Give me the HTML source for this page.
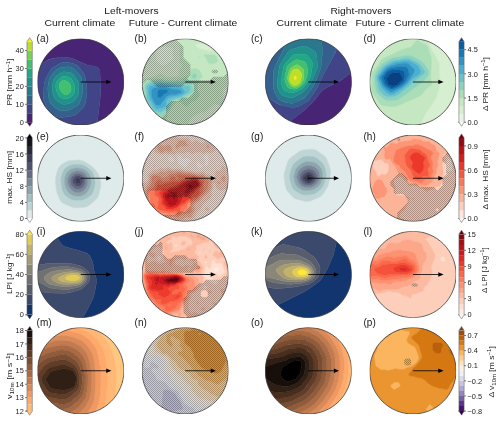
<!DOCTYPE html>
<html><head><meta charset="utf-8"><style>
html,body{margin:0;padding:0;background:#fff;}
#w{position:relative;width:500px;height:421px;overflow:hidden;}
#w svg{position:absolute;left:0;top:0;}
text{font-family:"Liberation Sans",sans-serif;}
</style></head><body><div id="w">
<svg width="500" height="421" style="will-change:transform" viewBox="0 0 360 303.12" version="1.1"><defs><pattern id="htch" patternUnits="userSpaceOnUse" width="1.44" height="1.44"><rect x="0" y="0" width="1.44" height="1.44" fill="#000" fill-opacity="0.08"/><rect x="0" y="0" width="0.72" height="0.72" fill="#000" fill-opacity="0.26"/><rect x="0.72" y="0.72" width="0.72" height="0.72" fill="#000" fill-opacity="0.26"/></pattern><style type="text/css">*{stroke-linejoin: round; stroke-linecap: butt}</style></defs><g id="figure_1"><g id="patch_1"><path d="M0 303.1L360 303.1 360 0 0 0z" style="fill: #ffffff"/></g><g id="axes_1"><g id="patch_2"><path d="M58.1 90.07 C 66.35 90.07 74.27 86.79 80.1 80.96 C 85.93 75.13 89.21 67.22 89.21 58.97 C 89.21 50.72 85.93 42.81 80.1 36.97 C 74.27 31.14 66.35 27.86 58.1 27.86 C 49.86 27.86 41.94 31.14 36.11 36.97 C 30.28 42.81 27 50.72 27 58.97 C 27 67.22 30.28 75.13 36.11 80.96 C 41.94 86.79 49.86 90.07 58.1 90.07L58.1 90.07z" clip-path="url(#p68ef9d32f1)" style="fill: none"/></g><g id="QuadContourSet_1"><path clip-path="url(#p21d48eb396)" style="fill: #440154; stroke: #440154; stroke-width: 0.35"/><path d="M70.6 91.6L90.8 91.6 90.8 26.3 25.4 26.3 25.4 48.8 26.6 48.4 28.4 47.4 32.6 44.2 35 42.9 38.5 42 40.9 41.5 47.4 41.4 49.8 41.5 52.2 42.1 55.1 43.3 62.9 46.8 64.6 47.3 68.2 47.6 69.4 48 70.6 48.7 71.3 49.5 71.9 50.7 72 51.8 72.1 56 72.6 60.2 72.6 64.9 72 72 70.4 85.7 70.3 91.6z" clip-path="url(#p21d48eb396)" style="fill: #482475; stroke: #482475; stroke-width: 0.35"/><path d="M26 91.6L70.3 91.6 70.4 85.7 72 72 72.6 64.3 72.6 60.2 72.1 56 72 51.2 71.7 50.1 70.8 48.9 69.4 48 68.2 47.6 64.6 47.3 62.9 46.8 55.1 43.3 51.6 41.9 49.2 41.5 46.2 41.4 40.3 41.6 34.9 43 32.6 44.2 28.4 47.4 26.6 48.4 25.4 48.8 25.4 91.6zM42.4 84.5L40.9 84 37.3 82.3 35.5 81 34.7 79.8 32.3 74.4 31.4 72 31.2 70.3 31.5 65.5 31.7 60.7 32 59 33.4 55.4 36.1 50.9 37.3 49.4 39.1 48 42.1 46.2 44.4 45.2 45.6 44.8 48 44.9 52.2 45.6 54.5 46.5 56.1 47.7 57.7 49.5 60 52.4 60.7 53.6 61.2 54.8 62.5 62.5 62.7 65.5 62.5 68.5 61.5 74.4 60.9 76.2 59.6 78 56.3 81.2 53.9 82.9 52.2 83.5 46.2 84.5 44.4 84.7 42.7 84.6z" clip-path="url(#p21d48eb396)" style="fill: #414487; stroke: #414487; stroke-width: 0.35"/><path d="M42.7 84.6L44.4 84.7 46.2 84.5 52.2 83.5 53.9 82.9 56.3 81.2 59.6 78 60.9 76.2 61.5 74.4 62.5 68.5 62.7 65.5 62.5 62.5 61.2 54.8 60.7 53.6 60 52.4 57.7 49.5 56.1 47.7 54.5 46.5 52.2 45.6 48 44.9 45.6 44.8 44.4 45.2 42.1 46.2 39.1 48 37.3 49.4 36.1 50.9 33.4 55.4 32 59 31.7 60.7 31.5 65.5 31.2 70.3 31.4 72 32.3 74.4 34.7 79.8 35.5 81 37.3 82.3 40.9 84 42.4 84.5zM42.3 79.2L40.9 78.5 39.1 77.1 36.5 74.4 35.5 72.6 34.8 68.5 34.4 63.7 34.8 60.2 35.3 57.8 36.1 55.7 37.9 53.2 39.7 51.1 41.7 49.5 43.3 48.8 47.4 48.2 49.2 48.1 51 48.4 52.2 48.9 53.6 50.1 57.1 53.6 58.3 55.4 58.7 56.6 59.5 62.5 59.5 66.1 59.1 68.5 57.8 72.6 57.1 74.4 56.3 75.4 55.1 76.3 51.6 78.4 49.2 79.3 45.6 79.5 42.7 79.3z" clip-path="url(#p21d48eb396)" style="fill: #355f8d; stroke: #355f8d; stroke-width: 0.35"/><path d="M42.7 79.3L45.6 79.5 49.2 79.3 51.6 78.4 55.1 76.3 56.3 75.4 57.1 74.4 57.8 72.6 59.1 68.5 59.5 66.1 59.5 62.5 58.7 56.6 58.3 55.4 57.1 53.6 53.6 50.1 52.2 48.9 51 48.4 49.2 48.1 47.4 48.2 43.3 48.8 41.7 49.5 39.7 51.1 37.9 53.2 36.1 55.7 35.3 57.8 34.8 60.2 34.4 63.7 34.8 68.5 35.5 72.6 36.5 74.4 39.1 77.1 40.9 78.5 42.3 79.2zM45.2 75L43.9 74.5 41.5 73 40.3 72.1 39.7 71.4 38.8 69.7 37.9 66.7 37.5 64.9 37.5 63.7 38 59.6 38.4 57.8 39 56.6 40.9 54.6 43.3 52.7 44.9 51.8 46.2 51.7 50.4 52.2 51.6 52.7 52.8 53.9 55.1 57.1 55.9 58.4 56.5 60.2 56.6 66.1 56.4 67.9 55.9 69.1 54.5 71.1 52.8 73.3 51.6 73.9 49.8 74.5 47.4 75 45.6 75.1z" clip-path="url(#p21d48eb396)" style="fill: #2a788e; stroke: #2a788e; stroke-width: 0.35"/><path d="M45.6 75.1L47.4 75 49.8 74.5 51.6 73.9 52.8 73.3 54.5 71.1 55.9 69.1 56.4 67.9 56.6 66.1 56.5 60.2 55.9 58.4 55.1 57.1 52.8 53.9 51.6 52.7 50.4 52.2 46.2 51.7 44.9 51.8 43.3 52.7 40.9 54.6 39 56.6 38.4 57.8 38 59.6 37.5 63.7 37.5 64.9 37.9 66.7 38.8 69.7 39.7 71.4 40.3 72.1 41.5 73 43.9 74.5 45.2 75zM45 70.8L43.9 70.3 43.1 69.7 42.1 68.3 41.1 66.7 40.7 65.5 40.2 63.1 40.1 61.3 40.3 60.2 40.7 59 41.4 57.8 44.4 55.4 45.6 54.9 46.2 54.9 49.2 55.4 50.4 55.9 51.2 56.6 53.3 60.2 53.6 61.3 53.6 62.5 53.6 65.5 53.5 66.7 52.9 67.9 52.4 68.5 51.1 69.7 49.8 70.5 48 71.1 46.2 71.1 45 70.9z" clip-path="url(#p21d48eb396)" style="fill: #21918c; stroke: #21918c; stroke-width: 0.35"/><path d="M45 70.9L46.2 71.1 48 71.1 49.8 70.5 51.1 69.7 52.4 68.5 52.9 67.9 53.5 66.7 53.6 65.5 53.6 62.5 53.6 61.3 53.3 60.2 51.2 56.6 50.4 55.9 49.2 55.4 46.2 54.9 45.6 54.9 44.4 55.4 41.4 57.8 40.7 59 40.3 60.2 40.1 61.3 40.2 63.1 40.7 65.5 41.1 66.7 42.1 68.3 43.1 69.7 43.9 70.3 45 70.8zM46.1 67.9L44.8 66.7 43.8 65.5 43 63.7 42.7 61.9 43.2 59.6 43.6 59 44.4 58.3 46.2 57.9 46.8 57.9 47.8 58.4 49.2 59.3 50.2 60.2 50.7 61.3 51.2 63.7 50.8 65.5 50.1 66.7 49.6 67.3 48.7 67.9 48 68.1 46.8 68.2 46.2 68z" clip-path="url(#p21d48eb396)" style="fill: #22a884; stroke: #22a884; stroke-width: 0.35"/><path d="M46.2 68L46.8 68.2 48 68.1 48.7 67.9 49.6 67.3 50.1 66.7 50.8 65.5 51.2 63.7 50.7 61.3 50.2 60.2 49.2 59.3 47.8 58.4 46.8 57.9 46.2 57.9 44.4 58.3 43.6 59 43.2 59.6 42.7 61.9 43 63.7 43.8 65.5 44.8 66.7 46.1 67.9z" clip-path="url(#p21d48eb396)" style="fill: #44bf70; stroke: #44bf70; stroke-width: 0.35"/><path clip-path="url(#p21d48eb396)" style="fill: #7ad151; stroke: #7ad151; stroke-width: 0.35"/><path clip-path="url(#p21d48eb396)" style="fill: #bddf26; stroke: #bddf26; stroke-width: 0.35"/><path clip-path="url(#p21d48eb396)" style="fill: #fde725; stroke: #fde725; stroke-width: 0.35"/></g><g id="patch_3"><path d="M58.1 90.07 C 66.35 90.07 74.27 86.79 80.1 80.96 C 85.93 75.13 89.21 67.22 89.21 58.97 C 89.21 50.72 85.93 42.81 80.1 36.97 C 74.27 31.14 66.35 27.86 58.1 27.86 C 49.86 27.86 41.94 31.14 36.11 36.97 C 30.28 42.81 27 50.72 27 58.97 C 27 67.22 30.28 75.13 36.11 80.96 C 41.94 86.79 49.86 90.07 58.1 90.07L58.1 90.07z" clip-path="url(#p68ef9d32f1)" style="fill: none; stroke: #333333; stroke-width: 0.55; stroke-linejoin: miter"/></g><g id="patch_4"><path d="M76.5 57.4L80.2 59 76.5 60.5z" clip-path="url(#p68ef9d32f1)"/></g><g id="line2d_1"><path d="M58.1 59L77.4 59" clip-path="url(#p68ef9d32f1)" style="fill: none; stroke: #000000; stroke-opacity: 0.8; stroke-width: 0.75"/></g></g><g id="axes_2"><g id="patch_5"><path d="M19.4 88L23.3 88 23.3 30 19.4 30z" style="fill: #ffffff"/></g><g id="patch_6"><path d="M19.4 88L21.4 90.9 23.3 88" style="fill: #440154"/></g><g id="patch_7"><path d="M19.4 30L21.4 27.1 23.3 30" style="fill: #fde725"/></g><g id="QuadMesh_1"><path d="M19.4 88L23.3 88 23.3 81.5 19.4 81.5 19.4 88" clip-path="url(#p1d68dbb7f0)" style="fill: #482475"/><path d="M19.4 81.5L23.3 81.5 23.3 75.1 19.4 75.1 19.4 81.5" clip-path="url(#p1d68dbb7f0)" style="fill: #414487"/><path d="M19.4 75.1L23.3 75.1 23.3 68.6 19.4 68.6 19.4 75.1" clip-path="url(#p1d68dbb7f0)" style="fill: #355f8d"/><path d="M19.4 68.6L23.3 68.6 23.3 62.2 19.4 62.2 19.4 68.6" clip-path="url(#p1d68dbb7f0)" style="fill: #2a788e"/><path d="M19.4 62.2L23.3 62.2 23.3 55.7 19.4 55.7 19.4 62.2" clip-path="url(#p1d68dbb7f0)" style="fill: #21918c"/><path d="M19.4 55.7L23.3 55.7 23.3 49.3 19.4 49.3 19.4 55.7" clip-path="url(#p1d68dbb7f0)" style="fill: #22a884"/><path d="M19.4 49.3L23.3 49.3 23.3 42.8 19.4 42.8 19.4 49.3" clip-path="url(#p1d68dbb7f0)" style="fill: #44bf70"/><path d="M19.4 42.8L23.3 42.8 23.3 36.4 19.4 36.4 19.4 42.8" clip-path="url(#p1d68dbb7f0)" style="fill: #7ad151"/><path d="M19.4 36.4L23.3 36.4 23.3 30 19.4 30 19.4 36.4" clip-path="url(#p1d68dbb7f0)" style="fill: #bddf26"/></g><g id="matplotlib.axis_1"/><g id="matplotlib.axis_2"><g id="ytick_1"><g id="line2d_2"><defs><path id="m5957307a2c" d="M0 0L-1.4 0" style="stroke: #333333; stroke-width: 0.5"/></defs><g><use xlink:href="#m5957307a2c" x="19.44" y="87.98" style="fill: #333333; stroke: #333333; stroke-width: 0.5"/></g></g><g id="text_1"><text style="font-size: 5.3px; font-family: 'Liberation Sans'; text-anchor: end; fill: #222222" x="17.14" y="89.9" transform="rotate(-0 17.14 89.904422)">0</text></g></g><g id="ytick_2"><g id="line2d_3"><g><use xlink:href="#m5957307a2c" x="19.44" y="75.09" style="fill: #333333; stroke: #333333; stroke-width: 0.5"/></g></g><g id="text_2"><text style="font-size: 5.3px; font-family: 'Liberation Sans'; text-anchor: end; fill: #222222" x="17.14" y="77.01" transform="rotate(-0 17.14 77.008422)">10</text></g></g><g id="ytick_3"><g id="line2d_4"><g><use xlink:href="#m5957307a2c" x="19.44" y="62.19" style="fill: #333333; stroke: #333333; stroke-width: 0.5"/></g></g><g id="text_3"><text style="font-size: 5.3px; font-family: 'Liberation Sans'; text-anchor: end; fill: #222222" x="17.14" y="64.11" transform="rotate(-0 17.14 64.112422)">20</text></g></g><g id="ytick_4"><g id="line2d_5"><g><use xlink:href="#m5957307a2c" x="19.44" y="49.3" style="fill: #333333; stroke: #333333; stroke-width: 0.5"/></g></g><g id="text_4"><text style="font-size: 5.3px; font-family: 'Liberation Sans'; text-anchor: end; fill: #222222" x="17.14" y="51.22" transform="rotate(-0 17.14 51.216422)">30</text></g></g><g id="ytick_5"><g id="line2d_6"><g><use xlink:href="#m5957307a2c" x="19.44" y="36.4" style="fill: #333333; stroke: #333333; stroke-width: 0.5"/></g></g><g id="text_5"><text style="font-size: 5.3px; font-family: 'Liberation Sans'; text-anchor: end; fill: #222222" x="17.14" y="38.32" transform="rotate(-0 17.14 38.320422)">40</text></g></g></g><g id="LineCollection_1"/><g id="patch_8"><path d="M19.4 88L21.4 90.9 23.3 88 23.3 30 21.4 27.1 19.4 30 19.4 88z" style="fill: none; stroke: #666666; stroke-width: 0.4; stroke-linejoin: miter; stroke-linecap: square"/></g></g><g id="axes_3"><g id="patch_9"><path d="M133.34 90.07 C 141.59 90.07 149.51 86.79 155.34 80.96 C 161.17 75.13 164.45 67.22 164.45 58.97 C 164.45 50.72 161.17 42.81 155.34 36.97 C 149.51 31.14 141.59 27.86 133.34 27.86 C 125.1 27.86 117.18 31.14 111.35 36.97 C 105.52 42.81 102.24 50.72 102.24 58.97 C 102.24 67.22 105.52 75.13 111.35 80.96 C 117.18 86.79 125.1 90.07 133.34 90.07L133.34 90.07z" clip-path="url(#p66a5db1e5f)" style="fill: none"/></g><g id="QuadContourSet_2"><path clip-path="url(#p25d545dbc4)" style="fill: #f7fcf0; stroke: #f7fcf0; stroke-width: 0.35"/><path d="M155.6 91.6L156.2 91.6 155.6 91.2 155.2 91.6zM117 47.5L118.5 47 120 46.2 120.9 45.6 123 43.8 124.4 43.1 125 42.6 125.2 41.2 124.7 39.7 124.7 38.2 124.9 35.2 124.4 34.4 123 33.9 121.5 33.7 120 33.4 118.5 33.4 115.5 34.3 114 35 112 36.7 111.6 38.2 112.4 41.2 112.7 44.1 116 47.1zM101.5 33.7L102.2 33.1 102.9 30.8 103.7 29.6 105.1 28.5 105.6 27.8 105.9 26.3 101.5 26.3 100.7 27.4 100.7 34.2z" clip-path="url(#p25d545dbc4)" style="fill: #e6f5e1; stroke: #e6f5e1; stroke-width: 0.35"/><path d="M134.8 91.6L155.2 91.6 155.6 91.2 156.2 91.6 166 91.6 166 72 165.5 70.8 165.5 69.4 166 67.2 166 59.6 164.5 59.7 163.8 60.5 163.3 61.9 160.7 64.9 160.5 66.4 161 72.3 160.7 73.8 160.1 74.9 158.6 75.8 157.1 75.5 155.6 75 154.1 75 152.6 76.2 149.7 79.3 148.2 80.1 145.2 80.8 139.3 83.5 138.3 84.2 137 85.7 136.2 87.2 134.8 91.3 134.3 91.6zM157.7 84.2L157.5 82.7 158.6 81.2 159.6 82.7 159.7 84.2 158.6 84.9zM100.7 60.5L100.7 60.4 100.7 60.5 100.7 60.6zM102.2 56.3L103.7 56.9 105.1 56.4 109.6 55.5 112.8 54.5 114 53.7 115.5 53.1 117 53.5 118 54.5 120 55.3 123 55.5 124.4 55.4 127.4 55.1 129.2 54.5 129.4 53 129 51.5 129.2 50.1 130.5 48.6 131.1 47.1 129.4 44.1 129.7 39.7 129.5 38.2 129.6 36.7 129.8 35.2 129.7 33.7 129 30.8 128.1 27.8 128.1 26.3 105.9 26.3 105.6 27.8 105.1 28.5 103.7 29.6 102.9 30.8 102.2 33.1 100.7 34.2 100.7 47 102.2 48 102.3 48.6 101.5 50.1 101.1 51.5 101 53 100.7 54.2 100.7 54.7 101.7 56zM116 47.1L112.7 44.1 112.4 41.2 111.6 38.2 112 36.7 114 35 115.5 34.3 118.5 33.4 120 33.4 121.5 33.7 123 33.9 124.4 34.4 124.9 35.2 124.7 38.2 124.7 39.7 125.2 41.2 125 42.6 124.4 43.1 123 43.8 120.9 45.6 120 46.2 118.5 47 117 47.5zM149.7 36.8L151.2 37 152 36.7 152.9 35.2 152.6 33.7 151.2 32.4 149.7 32.2 146.7 31.1 145.2 31 143.7 31.4 142.3 31.3 140.8 31.8 140.5 32.2 141.5 33.7 142.3 34.4 143.7 35.2 146.7 35.7 149.4 36.7zM101.5 26.3L100.7 26.3 100.7 27.4z" clip-path="url(#p25d545dbc4)" style="fill: #d7efd1; stroke: #d7efd1; stroke-width: 0.35"/><path d="M102.2 91.6L134.3 91.6 134.8 91.3 136.2 87.2 137 85.7 138.3 84.2 139.3 83.5 145.2 80.8 148.2 80.1 149.7 79.3 152.6 76.2 154.1 75 155.6 75 157.1 75.5 158.6 75.8 160.1 74.9 160.7 73.8 161 72.3 160.5 66.4 160.7 64.9 163.3 61.9 163.8 60.5 164.5 59.7 166 59.6 166 43.5 165.2 42.6 165 41.2 166 39.5 166 26.3 128.1 26.3 128.1 27.8 129 30.8 129.7 33.7 129.8 35.2 129.6 36.7 129.5 38.2 129.7 39.7 129.4 44.1 131.1 47.1 130.5 48.6 129.2 50.1 129 51.5 129.4 53 129.2 54.5 127.4 55.1 124.4 55.4 123 55.5 120 55.3 118 54.5 117 53.5 115.5 53.1 114 53.7 112.8 54.5 109.6 55.5 105.1 56.4 103.7 56.9 102.2 56.3 101.7 56 100.7 54.7 100.7 91.6zM111.3 85.7L111.1 85.7 109.6 84.3 108.6 82.7 107.3 81.2 106.3 79.8 105.7 78.3 104 75.3 102.8 72.3 102.7 70.8 103.4 67.9 102.9 64.9 102.9 63.4 103.2 60.5 103.7 59.8 105.1 58.5 106.6 57.7 108.1 57.2 115.5 56.7 117 56.9 118.5 57.4 124.4 57.8 125.9 57.8 130.4 56.8 133.3 55.3 134.8 54.9 136.3 54.3 137.1 53 137.1 51.5 137.8 49.7 139.3 49.4 140.8 49.4 142.3 49.7 142.7 50.1 144.3 51.5 145.2 53.6 146.1 54.5 145.4 56 143.7 56.9 143.4 57.5 142.7 60.5 142 61.9 142.3 64.9 143.7 67.9 143.3 69.4 142.3 70.7 140.8 72.1 137.8 73.2 136.3 75 134.8 76.2 133.3 76.3 130.4 73.7 128.9 73.4 127.4 73.3 126.3 73.8 124.4 76.1 121 81.2 120.4 82.7 120.2 84.2 119.7 85.7 118.5 86.5 115.5 85.8 112.6 85.9zM150.5 45.6L149.7 44.9 149.3 44.1 148.9 42.6 147 39.7 148.2 39.2 151.2 39.6 154.1 39.4 154.7 39.7 155.6 40.5 156.4 42.6 156.8 44.1 155.6 45.1 154.1 45.7 152.6 45.9 151.2 46zM143.6 41.2L143.7 40.9 144.1 41.2 143.7 41.6zM149.4 36.7L146.7 35.7 143.7 35.2 142.3 34.4 141.5 33.7 140.5 32.2 140.8 31.8 142.3 31.3 143.7 31.4 145.2 31 146.7 31.1 149.7 32.2 151.2 32.4 152.6 33.7 152.9 35.2 152 36.7 151.2 37 149.7 36.8zM158.6 84.9L159.7 84.2 159.6 82.7 158.6 81.2 157.5 82.7 157.7 84.2zM166 72L166 67.2 165.5 69.4 165.5 70.8zM101 53L101.1 51.5 101.5 50.1 102.3 48.6 102.2 48 100.7 47 100.7 54.2z" clip-path="url(#p25d545dbc4)" style="fill: #c5e8c2; stroke: #c5e8c2; stroke-width: 0.35"/><path d="M112.6 85.9L115.5 85.8 118.5 86.5 119.7 85.7 120.2 84.2 120.4 82.7 121 81.2 124.4 76.1 126.3 73.8 127.4 73.3 128.9 73.4 130.4 73.7 133.3 76.3 134.8 76.2 136.3 75 137.8 73.2 140.8 72.1 142.3 70.7 143.3 69.4 143.7 67.9 142.3 64.9 142 61.9 142.7 60.5 143.4 57.5 143.7 56.9 145.4 56 146.1 54.5 145.2 53.6 144.3 51.5 142.7 50.1 142.3 49.7 140.8 49.4 139.3 49.4 137.8 49.7 137.1 51.5 137.1 53 136.3 54.3 134.8 54.9 133.3 55.3 130.4 56.8 125.9 57.8 124.4 57.8 118.5 57.4 117 56.9 115.5 56.7 108.1 57.2 106.6 57.7 105.1 58.5 103.7 59.8 103.2 60.5 102.9 63.4 102.9 64.9 103.4 67.9 102.7 70.8 102.8 72.3 104 75.3 105.7 78.3 106.3 79.8 107.3 81.2 108.6 82.7 109.6 84.3 111.1 85.7 111.3 85.7zM113.7 82.7L111.1 82 109.6 81 108.7 79.8 108.1 78.3 107.2 76.8 104.9 73.8 104.4 72.3 104.3 70.8 104.6 67.9 104.1 63.4 104.2 61.9 104.7 60.5 106.6 59.1 108.1 58.5 111.1 58.2 115.5 58 118.5 58.6 127.4 59.1 131.9 58.7 133.3 58.2 134.8 58 136.3 58.3 137.3 59 137.8 59.4 138.3 60.5 139 63.4 139.6 64.9 139 66.4 137.3 67.9 130.4 71.4 127.4 71.8 125.6 72.3 124.4 73.2 123.9 73.8 122.5 76.8 120 80.3 119 81.2 118.5 82.1 117.9 82.7 117 83.2 115.5 83.2 114 82.9zM138.5 56L138.2 54.5 139.3 53.4 140.8 53.1 141.4 54.5 141 56 140.8 56.2 139.3 56.4zM151.2 46L152.6 45.9 154.1 45.7 155.6 45.1 156.8 44.1 156.4 42.6 155.6 40.5 154.7 39.7 154.1 39.4 151.2 39.6 148.2 39.2 147 39.7 148.9 42.6 149.3 44.1 149.7 44.9 150.5 45.6zM166 43.5L166 39.5 165 41.2 165.2 42.6zM143.7 41.6L144.1 41.2 143.7 40.9 143.6 41.2zM140.8 26.3L140.8 26.3 140.8 26.3 140.8 26.3z" clip-path="url(#p25d545dbc4)" style="fill: #abdeb6; stroke: #abdeb6; stroke-width: 0.35"/><path d="M114 82.9L115.5 83.2 117 83.2 117.9 82.7 118.5 82.1 119 81.2 120 80.3 122.5 76.8 123.9 73.8 124.4 73.2 125.6 72.3 127.4 71.8 130.4 71.4 137.3 67.9 139 66.4 139.6 64.9 139 63.4 138.3 60.5 137.8 59.4 137.3 59 136.3 58.3 134.8 58 133.3 58.2 131.9 58.7 127.4 59.1 118.5 58.6 115.5 58 111.1 58.2 108.1 58.5 106.6 59.1 104.7 60.5 104.2 61.9 104.1 63.4 104.6 67.9 104.3 70.8 104.4 72.3 104.9 73.8 107.2 76.8 108.1 78.3 108.7 79.8 109.6 81 111.1 82 113.7 82.7zM111.4 79.8L109.7 78.3 109.1 76.8 106.1 72.3 105.8 70.8 105.7 66.4 105.2 63.4 105.4 61.9 106.6 60.7 108.1 60 109.6 59.5 115.5 59.2 125.9 60.3 127.4 60.7 131.9 61.4 136.3 61.5 136.6 61.9 136.8 63.4 136.7 64.9 136.2 66.4 130.4 69.7 128.9 70.3 124.4 71.5 123.1 72.3 122.2 73.8 121.8 75.3 121 76.8 120 78.1 118.5 79.3 117.3 79.8 115.5 81 112.6 80.3zM139.3 56.4L140.8 56.2 141 56 141.4 54.5 140.8 53.1 139.3 53.4 138.2 54.5 138.5 56z" clip-path="url(#p25d545dbc4)" style="fill: #8bd2bf; stroke: #8bd2bf; stroke-width: 0.35"/><path d="M112.6 80.3L115.5 81 117.3 79.8 118.5 79.3 120 78.1 121 76.8 121.8 75.3 122.2 73.8 123.1 72.3 124.4 71.5 128.9 70.3 130.4 69.7 136.2 66.4 136.7 64.9 136.8 63.4 136.6 61.9 136.3 61.5 131.9 61.4 127.4 60.7 125.9 60.3 115.5 59.2 109.6 59.5 108.1 60 106.6 60.7 105.4 61.9 105.2 63.4 105.7 66.4 105.8 70.8 106.1 72.3 109.1 76.8 109.7 78.3 111.4 79.8zM112.3 78.3L111.1 76.7 110.2 75.3 109.6 73.8 108.6 72.3 107.5 69.4 107.2 67.9 107.3 66.4 106.7 63.4 108.1 62.1 109.6 61.6 112.6 60.8 115.5 60.4 118.5 60.6 123 61.4 127.4 62.5 130.4 62.9 131.2 63.4 131.9 64.4 132.4 64.9 133.3 66.4 131.7 67.9 130.4 68.5 128.9 69 123 70 121.4 70.8 119.9 72.3 119.6 73.8 119.7 75.3 119.1 76.8 118.5 77.3 115.5 78.2 112.6 78.4z" clip-path="url(#p25d545dbc4)" style="fill: #6bc3c9; stroke: #6bc3c9; stroke-width: 0.35"/><path d="M112.6 78.4L115.5 78.2 118.5 77.3 119.1 76.8 119.7 75.3 119.6 73.8 119.9 72.3 121.4 70.8 123 70 128.9 69 130.4 68.5 131.7 67.9 133.3 66.4 132.4 64.9 131.9 64.4 131.2 63.4 130.4 62.9 127.4 62.5 123 61.4 118.5 60.6 115.5 60.4 112.6 60.8 109.6 61.6 108.1 62.1 106.7 63.4 107.3 66.4 107.2 67.9 107.5 69.4 108.6 72.3 109.6 73.8 110.2 75.3 111.1 76.7 112.3 78.3zM112.2 75.3L111.1 73.8 109.6 70.8 109 67.9 109.1 64.9 109.6 64.2 110.8 63.4 115.5 62.3 118.5 62.3 120 62.5 123 63.8 124.4 64.2 125.9 64.3 127.4 64.3 129.6 64.9 130.4 65.5 130.8 66.4 130.4 66.8 128.9 67.4 125.9 68.2 123 68.3 121.5 68.7 120.1 69.4 117 73.4 116.5 73.8 115.8 75.3 115.5 75.6 114 75.8 112.6 75.7z" clip-path="url(#p25d545dbc4)" style="fill: #4bafd1; stroke: #4bafd1; stroke-width: 0.35"/><path d="M112.6 75.7L114 75.8 115.5 75.6 115.8 75.3 116.5 73.8 117 73.4 120.1 69.4 121.5 68.7 123 68.3 125.9 68.2 128.9 67.4 130.4 66.8 130.8 66.4 130.4 65.5 129.6 64.9 127.4 64.3 125.9 64.3 124.4 64.2 123 63.8 120 62.5 118.5 62.3 115.5 62.3 110.8 63.4 109.6 64.2 109.1 64.9 109 67.9 109.6 70.8 111.1 73.8 112.2 75.3zM113.6 69.4L113.3 66.4 114.1 64.9 115.5 64.3 117 64.2 120 64.6 120.6 64.9 120.8 66.4 118.1 67.9 117 69.1 115.5 70.4 114 70.2z" clip-path="url(#p25d545dbc4)" style="fill: #3193c2; stroke: #3193c2; stroke-width: 0.35"/><path d="M114 70.2L115.5 70.4 117 69.1 118.1 67.9 120.8 66.4 120.6 64.9 120 64.6 117 64.2 115.5 64.3 114.1 64.9 113.3 66.4 113.6 69.4z" clip-path="url(#p25d545dbc4)" style="fill: #1878b4; stroke: #1878b4; stroke-width: 0.35"/><path clip-path="url(#p25d545dbc4)" style="fill: #085da0; stroke: #085da0; stroke-width: 0.35"/><path clip-path="url(#p25d545dbc4)" style="fill: #084081; stroke: #084081; stroke-width: 0.35"/></g><g id="QuadContourSet_3"><path d="M103.2 91.6L166 91.6 166 52.7 163.5 52.7 161 55.2 153.4 55.2 150.9 57.7 135.9 57.7 134.6 56.5 137.1 53.9 137.1 46.4 132.1 41.4 132.1 33.8 127.1 28.8 128.3 27.6 166 27.6 166 26.3 100.7 26.3 100.7 91.6zM101.9 84.1L101.9 61.5 105.7 57.7 108.2 57.7 113.2 62.7 130.8 62.7 133.3 60.2 138.4 60.2 139.6 61.5 139.6 66.5 138.4 67.8 135.9 70.3 130.8 70.3 128.3 72.8 123.3 72.8 119.5 76.6 119.5 81.6 115.8 85.3 103.2 85.3zM153.4 52.7L156 52.7 157.2 51.4 156 50.2 153.4 50.2 152.2 51.4z" clip-path="url(#p25d545dbc4)" style="fill: url(#htch)"/></g><g id="patch_10"><path d="M133.34 90.07 C 141.59 90.07 149.51 86.79 155.34 80.96 C 161.17 75.13 164.45 67.22 164.45 58.97 C 164.45 50.72 161.17 42.81 155.34 36.97 C 149.51 31.14 141.59 27.86 133.34 27.86 C 125.1 27.86 117.18 31.14 111.35 36.97 C 105.52 42.81 102.24 50.72 102.24 58.97 C 102.24 67.22 105.52 75.13 111.35 80.96 C 117.18 86.79 125.1 90.07 133.34 90.07L133.34 90.07z" clip-path="url(#p66a5db1e5f)" style="fill: none; stroke: #333333; stroke-width: 0.55; stroke-linejoin: miter"/></g><g id="patch_11"><path d="M151.7 57.4L155.4 59 151.7 60.5z" clip-path="url(#p66a5db1e5f)"/></g><g id="line2d_7"><path d="M133.3 59L152.6 59" clip-path="url(#p66a5db1e5f)" style="fill: none; stroke: #000000; stroke-opacity: 0.8; stroke-width: 0.75"/></g></g><g id="axes_4"><g id="patch_12"><path d="M222.05 90.07 C 230.3 90.07 238.21 86.79 244.04 80.96 C 249.87 75.13 253.15 67.22 253.15 58.97 C 253.15 50.72 249.87 42.81 244.04 36.97 C 238.21 31.14 230.3 27.86 222.05 27.86 C 213.8 27.86 205.89 31.14 200.05 36.97 C 194.22 42.81 190.94 50.72 190.94 58.97 C 190.94 67.22 194.22 75.13 200.05 80.96 C 205.89 86.79 213.8 90.07 222.05 90.07L222.05 90.07z" clip-path="url(#p526f4a8098)" style="fill: none"/></g><g id="QuadContourSet_4"><path clip-path="url(#p49888c687f)" style="fill: #440154; stroke: #440154; stroke-width: 0.35"/><path d="M207.2 91.6L254.7 91.6 254.7 51.9 253.5 52.3 252.1 53 245.2 58.1 242.8 59.4 236.3 62.4 233.9 63.9 232.1 65.1 230.4 66.9 226.6 72 223.8 75.1 218.5 79.9 211.4 85.3 209.5 86.9 208.6 88.1 207.9 89.3 207.1 91.6z" clip-path="url(#p49888c687f)" style="fill: #482475; stroke: #482475; stroke-width: 0.35"/><path d="M190 91.6L207.1 91.6 207.9 89.3 208.6 88.1 209.5 86.9 211.4 85.3 218.5 79.9 223.8 75.1 226.6 72 230.4 66.9 232.1 65.1 233.9 63.9 236.3 62.4 242.8 59.4 245.2 58.1 252.1 53 253.5 52.3 254.7 51.9 254.7 26.3 242.6 26.3 243 31.1 243 32.8 242.7 34.6 241.8 37 238.8 42.9 234.4 50.7 228.3 63.1 223.3 70.8 222 72.3 220.3 73.7 216.7 75.7 214.3 76.8 212 77.2 209.6 77.2 204.8 76.4 201.9 75.6 200.1 74.8 195.3 71.8 193.5 71 191.8 70.8 189.4 71 189.4 91.6z" clip-path="url(#p49888c687f)" style="fill: #414487; stroke: #414487; stroke-width: 0.35"/><path d="M207.2 76.8L209.6 77.2 211.4 77.3 213.1 77.1 214.9 76.6 218.5 74.8 220.9 73.3 222.3 72 223.7 70.3 228.9 61.9 234.4 50.7 238.8 42.9 242 36.4 242.7 34.6 243 32.8 243 31.1 242.6 26.3 230.7 26.3 230.9 28.1 232.2 34.6 232.3 36.4 231.2 47.7 230.4 50.7 226.9 59.6 225.7 61.9 223.8 64.6 220.9 68.5 219.1 70.3 217.3 71.4 212.5 73.7 210.8 74.3 209.6 74.3 206.6 73.9 203.6 73.1 201.9 72.4 200.7 71.4 199.4 69.7 197.6 66.1 197 64.3 196.8 61.9 196.8 52.4 197 50.7 197.4 49.5 199.2 45.3 207.3 29.3 208.1 27.5 208.5 26.3 189.4 26.3 189.4 71 191.8 70.8 193.5 71 195.3 71.8 199.5 74.4 201.3 75.3 203.6 76.1 206.9 76.8z" clip-path="url(#p49888c687f)" style="fill: #355f8d; stroke: #355f8d; stroke-width: 0.35"/><path d="M206.6 73.9L209.6 74.3 211.4 74.1 213.8 73.2 218.3 70.8 219.7 69.7 220.9 68.5 225 63 226.2 61.1 229.6 53 230.8 49.5 231.2 47.7 232.3 36.4 232.2 34.6 230.9 28.1 230.7 26.3 208.5 26.3 208.1 27.5 207.3 29.3 197.8 48.3 197 50.7 196.8 52.4 196.8 62.5 197 64.3 197.6 66.1 199.8 70.3 201.3 72 203 72.9 206.4 73.8zM208.3 70.3L203.6 68.8 202.5 68 201.5 66.7 199.8 62.5 199.6 60.7 199.9 57.2 200.5 51.8 201.4 47.1 203 44.1 207.2 37.8 208.4 36.4 209 36 210.2 35.5 217.3 33.4 219.1 33.2 220.3 33.4 222 34.2 225.8 36.4 226.8 37.1 227.4 38 227.9 39.4 228.2 41.2 228.3 44.1 228.6 47.1 228.4 48.9 225.4 56.6 224.2 59 221.1 63.1 218.5 66.1 216.7 67.4 211.4 70 210.2 70.3 208.4 70.3z" clip-path="url(#p49888c687f)" style="fill: #2a788e; stroke: #2a788e; stroke-width: 0.35"/><path d="M208.4 70.3L210.2 70.3 211.4 70 216.7 67.4 218.5 66.1 221.1 63.1 224.2 59 225.4 56.6 228.4 48.9 228.6 47.1 228.3 44.1 228.2 41.2 227.9 39.4 227.4 38 226.8 37.1 225.8 36.4 222 34.2 220.3 33.4 219.1 33.2 217.3 33.4 210.2 35.5 209 36 208.4 36.4 207.2 37.8 203 44.1 201.4 47.1 200.5 51.8 199.9 57.2 199.6 60.7 199.8 62.5 201.5 66.7 202.5 68 203.6 68.8 208.3 70.3zM209.5 66.7L206.6 66 204.8 65.2 204 64.3 203.4 63.1 202.7 60.2 202.7 58.4 202.9 56 204.2 47.7 204.8 46.5 205.4 45.7 208.4 42.6 210.2 40.4 211.4 39.5 212.5 39.1 213.7 39.1 219.1 39.1 220.3 39.3 221.4 40 221.9 40.6 224.4 44.1 224.9 45.3 224.7 48.9 224 53 223.2 55.9 220.8 60.2 217.9 63.6 216.7 64.4 213.7 65.7 210.8 66.7 209.6 66.7z" clip-path="url(#p49888c687f)" style="fill: #21918c; stroke: #21918c; stroke-width: 0.35"/><path d="M209.6 66.7L210.8 66.7 213.7 65.7 216.7 64.4 217.9 63.6 220.8 60.2 223.2 55.9 224 53 224.7 48.9 224.9 45.3 224.4 44.1 221.9 40.6 221.4 40 220.3 39.3 219.1 39.1 213.7 39.1 212.5 39.1 211.4 39.5 210.2 40.4 208.4 42.6 205.4 45.7 204.8 46.5 204.2 47.7 202.9 56 202.7 58.4 202.7 60.2 203.4 63.1 204 64.3 204.8 65.2 206.6 66 209.5 66.7zM209.1 63.7L207.8 63.3 206.9 62.5 205.4 59 205.1 57.8 205 56.6 205.3 54.8 206.4 48.9 206.9 47.7 207.8 46.7 211.2 44.1 213.1 43.1 214.3 43.1 219.1 44.2 219.8 44.7 220.3 45.4 221.5 49.5 221.7 50.7 221.5 53 219.7 59 219.1 59.9 217 61.9 214.3 63.8 212.5 64.3 211.4 64.2 209.6 63.9z" clip-path="url(#p49888c687f)" style="fill: #22a884; stroke: #22a884; stroke-width: 0.35"/><path d="M209.6 63.9L211.4 64.2 212.5 64.3 214.3 63.8 217 61.9 219.1 59.9 219.7 59 221.5 53 221.7 50.7 221.5 49.5 220.3 45.4 219.8 44.7 219.1 44.2 214.3 43.1 213.1 43.1 211.2 44.1 207.8 46.7 206.9 47.7 206.4 48.9 205.3 54.8 205 56.6 205.1 57.8 205.4 59 206.9 62.5 207.8 63.3 209.1 63.7zM210.4 62.5L209.5 61.9 208 59.6 207.1 57.2 207 56.6 207.1 55.4 207.7 53 209 49.4 209.6 48.8 212.5 47 213.7 46.7 214.3 46.7 214.9 47 217.3 48.6 218.5 50.1 218.8 51.8 218.7 56.6 218.3 57.8 217.6 59 216.4 60.7 215.5 61.7 213.7 62.6 212.5 62.8 210.8 62.6z" clip-path="url(#p49888c687f)" style="fill: #44bf70; stroke: #44bf70; stroke-width: 0.35"/><path d="M210.8 62.6L212.5 62.8 213.7 62.6 215.5 61.7 216.4 60.7 217.6 59 218.3 57.8 218.7 56.6 218.8 51.8 218.5 50.1 217.3 48.6 214.9 47 214.3 46.7 213.7 46.7 212.5 47 209.6 48.8 209 49.4 207.7 53 207.1 55.4 207 56.6 207.1 57.2 208 59.6 209.5 61.9 210.4 62.5zM211.3 61.3L209.7 60.2 209.2 59.6 208.4 57.2 208.4 56 210.1 51.2 210.5 50.7 211.4 50 214.3 49.6 214.9 49.8 215.5 50.5 216.8 52.4 217.3 53.5 217.3 54.2 216.8 56.6 216.1 59 215.5 60 214.9 60.4 212.5 61.4 211.4 61.4z" clip-path="url(#p49888c687f)" style="fill: #7ad151; stroke: #7ad151; stroke-width: 0.35"/><path d="M211.4 61.4L212.5 61.4 214.9 60.4 215.5 60 216.1 59 216.8 56.6 217.3 54.2 217.3 53.5 216.8 52.4 215.5 50.5 214.9 49.8 214.3 49.6 211.4 50 210.5 50.7 210.1 51.2 208.4 56 208.4 57.2 209.2 59.6 209.7 60.2 211.3 61.3zM212.3 57.2L211.7 56.6 211.7 55.4 212.5 54.6 213.4 55.4 213.4 56 213.4 56.6 212.5 57.4z" clip-path="url(#p49888c687f)" style="fill: #bddf26; stroke: #bddf26; stroke-width: 0.35"/><path d="M212.5 57.4L213.4 56.6 213.4 56 213.4 55.4 212.5 54.6 211.7 55.4 211.7 56.6 212.3 57.2z" clip-path="url(#p49888c687f)" style="fill: #fde725; stroke: #fde725; stroke-width: 0.35"/></g><g id="patch_13"><path d="M222.05 90.07 C 230.3 90.07 238.21 86.79 244.04 80.96 C 249.87 75.13 253.15 67.22 253.15 58.97 C 253.15 50.72 249.87 42.81 244.04 36.97 C 238.21 31.14 230.3 27.86 222.05 27.86 C 213.8 27.86 205.89 31.14 200.05 36.97 C 194.22 42.81 190.94 50.72 190.94 58.97 C 190.94 67.22 194.22 75.13 200.05 80.96 C 205.89 86.79 213.8 90.07 222.05 90.07L222.05 90.07z" clip-path="url(#p526f4a8098)" style="fill: none; stroke: #333333; stroke-width: 0.55; stroke-linejoin: miter"/></g><g id="patch_14"><path d="M240.4 57.4L244.1 59 240.4 60.5z" clip-path="url(#p526f4a8098)"/></g><g id="line2d_8"><path d="M222 59L241.3 59" clip-path="url(#p526f4a8098)" style="fill: none; stroke: #000000; stroke-opacity: 0.8; stroke-width: 0.75"/></g></g><g id="axes_5"><g id="patch_15"><path d="M297.29 90.07 C 305.54 90.07 313.45 86.79 319.28 80.96 C 325.11 75.13 328.39 67.22 328.39 58.97 C 328.39 50.72 325.11 42.81 319.28 36.97 C 313.45 31.14 305.54 27.86 297.29 27.86 C 289.04 27.86 281.13 31.14 275.29 36.97 C 269.46 42.81 266.18 50.72 266.18 58.97 C 266.18 67.22 269.46 75.13 275.29 80.96 C 281.13 86.79 289.04 90.07 297.29 90.07L297.29 90.07z" clip-path="url(#p06fb4f177c)" style="fill: none"/></g><g id="QuadContourSet_5"><path clip-path="url(#pf043735406)" style="fill: #f7fcf0; stroke: #f7fcf0; stroke-width: 0.35"/><path clip-path="url(#pf043735406)" style="fill: #e6f5e1; stroke: #e6f5e1; stroke-width: 0.35"/><path d="M301.4 91.6L329.9 91.6 329.9 26.3 303.8 26.3 304.3 27.5 304.8 28.1 308 31 309.1 32.2 310.5 35.2 312.7 38.8 315.8 44.7 316.3 46.5 316.4 50.7 316.3 53.6 316.9 56.3 317 58.4 316.8 60.7 316.4 62.5 313.7 70.8 309.3 78 306.5 81.5 304.1 86.9 301.4 91 301.2 91.6z" clip-path="url(#pf043735406)" style="fill: #d7efd1; stroke: #d7efd1; stroke-width: 0.35"/><path d="M265.2 91.6L301.2 91.6 301.4 91 304.1 86.9 306.5 81.5 309.3 78 313.4 71.4 314 70.3 316 63.7 316.8 60.2 317 57.8 316.8 56 316.3 53.6 316.4 50.7 316.2 45.9 315.8 44.7 313 39.4 310.8 35.8 309.1 32.2 308 31 304.8 28.1 304.3 27.5 303.8 26.3 264.6 26.3 264.6 91.6zM281.1 76.8L274.7 75.7 274.1 75.5 273.1 74.4 271.2 70.8 268.8 67.9 268.1 66.7 267.8 65.5 267.6 61.9 267.8 57.8 267.6 54.2 268 52.4 269.1 50.7 272.7 45.9 274.1 43.6 275.3 42.5 278.3 40.8 281.3 39.6 288.4 36.2 291.9 34.8 295.5 34.1 297 32.8 298.5 30.5 299.1 29.9 300.3 29.3 301.4 29.6 303.2 30.7 306.7 32.2 307.5 32.8 308.1 34 309 37 310.5 41.2 310.6 42.3 310.7 45.9 310.6 48.9 310.2 50.7 310.3 53 310 55.4 310.1 56.6 311.1 60.2 311 60.7 310.6 61.3 307.3 63.7 306.2 64.9 303.8 68 302 69.3 294.9 72.6 290.8 74.1 286 76.3 283 76.9 281.3 76.8z" clip-path="url(#pf043735406)" style="fill: #c5e8c2; stroke: #c5e8c2; stroke-width: 0.35"/><path d="M281.3 76.8L283 76.9 286 76.3 290.8 74.1 294.9 72.6 302 69.3 303.8 68 306.2 64.9 307.3 63.7 310.6 61.3 311 60.7 311.1 60.2 310.1 56.6 310 55.4 310.3 53 310.2 50.7 310.6 48.9 310.7 45.9 310.6 42.3 310.5 41.2 309 37 308.1 34 307.5 32.8 306.7 32.2 303.2 30.7 301.4 29.6 300.3 29.3 299.1 29.9 298.5 30.5 297 32.8 295.5 34.1 291.9 34.8 288.4 36.2 281.3 39.6 278.3 40.8 275.3 42.5 274.1 43.6 272.7 45.9 269.1 50.7 268 52.4 267.6 54.2 267.8 57.8 267.6 61.9 267.8 65.5 268.1 66.7 268.8 67.9 271.2 70.8 273.1 74.4 274.1 75.5 274.7 75.7 281.1 76.8zM277.6 72L275.3 70.5 272.4 67.9 271.4 66.7 270.9 65.5 270.2 62.5 269.7 58.4 269.6 55.4 270.3 53 272.3 49.5 274.7 46.4 275.9 45.5 279.5 43.2 282.4 41.8 284.2 41.3 287.2 41.1 290.2 40.3 294.3 39.7 295.5 39.9 299.7 42 303.2 44 304.8 45.3 308 49.9 308.6 51.2 308.8 52.4 308.6 53.8 307.4 55.5 305.1 58.4 300.3 62 296.7 64.5 294.3 66.5 287.8 71 285.4 72 282.4 72.4 278.9 72.5 277.7 72.1z" clip-path="url(#pf043735406)" style="fill: #abdeb6; stroke: #abdeb6; stroke-width: 0.35"/><path d="M277.7 72.1L278.9 72.5 282.4 72.4 285.4 72 287.8 71 294.3 66.5 296.7 64.5 300.3 62 305.1 58.4 307.4 55.5 308.6 53.8 308.8 52.4 308.6 51.2 308 49.9 304.8 45.3 303.2 44 299.7 42 295.5 39.9 294.3 39.7 290.2 40.3 287.2 41.1 284.2 41.3 282.4 41.8 279.5 43.2 275.9 45.5 274.7 46.4 272.3 49.5 270.3 53 269.6 55.4 269.7 58.4 270.2 62.5 270.9 65.5 271.4 66.7 272.4 67.9 275.3 70.5 277.6 72zM279.3 69.7L278.3 69.5 276.5 68.5 273.4 65.5 272.9 64.6 272.5 63.1 271 56.6 271 55.4 271.5 54.2 272.9 51.7 275.4 48.3 276.5 47.4 279.5 45.5 283 43.6 284.2 43.3 287.2 43.1 292.5 41.9 293.7 41.9 294.9 42.3 300.3 44.9 302 46 303 47.1 305.8 51.2 305.9 51.8 305.7 52.4 304.8 53.6 298.5 58.4 293.7 62.7 288.3 66.7 286.6 68.2 285.4 68.8 283.6 69.4 281.3 69.7 279.5 69.7z" clip-path="url(#pf043735406)" style="fill: #8bd2bf; stroke: #8bd2bf; stroke-width: 0.35"/><path d="M279.5 69.7L281.3 69.7 283.6 69.4 285.4 68.8 286.6 68.2 288.3 66.7 293.7 62.7 298.5 58.4 304.8 53.6 305.7 52.4 305.9 51.8 305.8 51.2 303 47.1 302 46 300.3 44.9 294.9 42.3 293.7 41.9 292.5 41.9 287.2 43.1 284.2 43.3 283 43.6 279.5 45.5 276.5 47.4 275.4 48.3 272.9 51.7 271.5 54.2 271 55.4 271 56.6 272.5 63.1 272.9 64.6 273.4 65.5 276.5 68.5 278.3 69.5 279.3 69.7zM280.4 67.9L278.9 67.1 277.7 66.2 275.1 63.7 274.4 62.5 272.9 59 272.1 56.6 272.2 55.4 272.7 54.2 276.6 48.9 277.7 48 280.1 46.7 283.6 45 284.8 44.7 291.9 43.6 293.7 43.7 294.9 44 299.6 46.5 300.9 47.4 301.5 48.3 302.8 51.2 302.9 52.4 302.6 53 301.4 53.9 297.3 56.6 292.9 61.3 291.3 62.7 289.6 64.1 283.6 67.6 281.8 68.1 280.7 68z" clip-path="url(#pf043735406)" style="fill: #6bc3c9; stroke: #6bc3c9; stroke-width: 0.35"/><path d="M280.7 68L281.8 68.1 283.6 67.6 289.6 64.1 291.3 62.7 292.9 61.3 297.3 56.6 301.4 53.9 302.6 53 302.9 52.4 302.8 51.2 301.5 48.3 300.9 47.4 299.6 46.5 294.9 44 293.7 43.7 291.9 43.6 284.8 44.7 283.6 45 280.1 46.7 277.7 48 276.6 48.9 272.7 54.2 272.2 55.4 272.1 56.6 272.9 59 274.4 62.5 275.1 63.7 277.7 66.2 278.9 67.1 280.4 67.9zM280.6 66.1L277.1 63.6 275.6 61.9 273.2 56.6 273.3 55.4 274 54.2 277.7 49.5 278.9 48.6 281.3 47.5 285.4 46.2 289.6 45.5 292.5 45.4 294.1 45.9 297.9 49.5 298.3 50.1 298.5 50.7 298.2 51.8 294.9 57.2 293.6 59 292 60.7 289.6 62.7 283 66.1 281.8 66.4 280.7 66.1z" clip-path="url(#pf043735406)" style="fill: #4bafd1; stroke: #4bafd1; stroke-width: 0.35"/><path d="M280.7 66.1L281.8 66.4 283 66.1 289.6 62.7 292 60.7 293.6 59 294.9 57.2 298.2 51.8 298.5 50.7 298.3 50.1 297.9 49.5 294.1 45.9 292.5 45.4 289.6 45.5 285.4 46.2 281.3 47.5 278.9 48.6 277.7 49.5 274 54.2 273.3 55.4 273.2 56.6 275.6 61.9 277.1 63.6 280.6 66.1zM280.7 64.3L278.3 62.8 276.7 61.3 276 60.2 274.6 56.6 274.6 56 274.7 55.4 277.3 51.8 278.9 50.2 280.1 49.6 281.8 49 285.4 48.3 289 47.9 290.2 47.9 291.9 48.2 293.1 48.8 293.6 49.5 294 50.7 294.4 52.4 294.5 53.6 294.2 54.8 291.9 59 290.2 60.8 287.2 62.7 283 64.5 281.8 64.7 281.3 64.5z" clip-path="url(#pf043735406)" style="fill: #3193c2; stroke: #3193c2; stroke-width: 0.35"/><path d="M281.3 64.5L281.8 64.7 283 64.5 287.2 62.7 290.2 60.8 291.9 59 294.2 54.8 294.5 53.6 294.4 52.4 294 50.7 293.6 49.5 293.1 48.8 291.9 48.2 290.2 47.9 289 47.9 285.4 48.3 281.8 49 280.1 49.6 278.9 50.2 277.3 51.8 274.7 55.4 274.6 56 274.6 56.6 276 60.2 276.7 61.3 278.3 62.8 280.7 64.3zM280.9 63.1L278.9 61.9 277.8 60.7 277.1 59.3 276.3 56.6 276.3 56 276.4 55.4 278.9 52 279.8 51.2 281.3 50.6 285.4 50.1 287.8 50.4 289.6 50.9 290.8 51.5 291.3 52.4 291.4 53 291.5 56 291 57.8 290.3 59 287.5 61.3 285.4 62.5 283 63.4 282.4 63.4 281.3 63.3z" clip-path="url(#pf043735406)" style="fill: #1878b4; stroke: #1878b4; stroke-width: 0.35"/><path d="M281.3 63.3L282.4 63.4 283 63.4 285.4 62.5 287.5 61.3 290.3 59 291 57.8 291.5 56 291.4 53 291.3 52.4 290.8 51.5 289.6 50.9 287.8 50.4 285.4 50.1 281.3 50.6 279.8 51.2 278.9 52 276.4 55.4 276.3 56 276.3 56.6 277.1 59.3 277.8 60.7 278.9 61.9 280.9 63.1zM280.4 61.3L279.7 60.7 279.3 60.2 278.5 57.2 278.5 56.6 278.8 56 280.7 53.5 281.3 53 281.8 52.7 284.2 52.4 286.6 52.4 287.2 52.5 288 53 288.8 54.2 289.6 56.3 289.6 57.2 289 58.4 287.1 60.2 285.3 61.3 283 61.9 281.8 61.8 280.7 61.5z" clip-path="url(#pf043735406)" style="fill: #085da0; stroke: #085da0; stroke-width: 0.35"/><path d="M280.7 61.5L281.8 61.8 283 61.9 285.3 61.3 287.1 60.2 289 58.4 289.6 57.2 289.6 56.3 288.8 54.2 288 53 287.2 52.5 286.6 52.4 284.2 52.4 281.8 52.7 281.3 53 280.7 53.5 278.8 56 278.5 56.6 278.5 57.2 279.3 60.2 279.7 60.7 280.4 61.3z" clip-path="url(#pf043735406)" style="fill: #084081; stroke: #084081; stroke-width: 0.35"/></g><g id="patch_16"><path d="M297.29 90.07 C 305.54 90.07 313.45 86.79 319.28 80.96 C 325.11 75.13 328.39 67.22 328.39 58.97 C 328.39 50.72 325.11 42.81 319.28 36.97 C 313.45 31.14 305.54 27.86 297.29 27.86 C 289.04 27.86 281.13 31.14 275.29 36.97 C 269.46 42.81 266.18 50.72 266.18 58.97 C 266.18 67.22 269.46 75.13 275.29 80.96 C 281.13 86.79 289.04 90.07 297.29 90.07L297.29 90.07z" clip-path="url(#p06fb4f177c)" style="fill: none; stroke: #333333; stroke-width: 0.55; stroke-linejoin: miter"/></g><g id="patch_17"><path d="M315.6 57.4L319.4 59 315.6 60.5z" clip-path="url(#p06fb4f177c)"/></g><g id="line2d_9"><path d="M297.3 59L316.6 59" clip-path="url(#p06fb4f177c)" style="fill: none; stroke: #000000; stroke-opacity: 0.8; stroke-width: 0.75"/></g></g><g id="axes_6"><g id="patch_18"><path d="M330.4 88L334.2 88 334.2 30 330.4 30z" style="fill: #ffffff"/></g><g id="patch_19"><path d="M330.4 88L332.3 90.9 334.2 88" style="fill: #f7fcf0"/></g><g id="patch_20"><path d="M330.4 30L332.3 27.1 334.2 30" style="fill: #084081"/></g><g id="QuadMesh_2"><path d="M330.4 88L334.2 88 334.2 82.2 330.4 82.2 330.4 88" clip-path="url(#p2fd59cb186)" style="fill: #e6f5e1"/><path d="M330.4 82.2L334.2 82.2 334.2 76.4 330.4 76.4 330.4 82.2" clip-path="url(#p2fd59cb186)" style="fill: #d7efd1"/><path d="M330.4 76.4L334.2 76.4 334.2 70.6 330.4 70.6 330.4 76.4" clip-path="url(#p2fd59cb186)" style="fill: #c5e8c2"/><path d="M330.4 70.6L334.2 70.6 334.2 64.8 330.4 64.8 330.4 70.6" clip-path="url(#p2fd59cb186)" style="fill: #abdeb6"/><path d="M330.4 64.8L334.2 64.8 334.2 59 330.4 59 330.4 64.8" clip-path="url(#p2fd59cb186)" style="fill: #8bd2bf"/><path d="M330.4 59L334.2 59 334.2 53.2 330.4 53.2 330.4 59" clip-path="url(#p2fd59cb186)" style="fill: #6bc3c9"/><path d="M330.4 53.2L334.2 53.2 334.2 47.4 330.4 47.4 330.4 53.2" clip-path="url(#p2fd59cb186)" style="fill: #4bafd1"/><path d="M330.4 47.4L334.2 47.4 334.2 41.6 330.4 41.6 330.4 47.4" clip-path="url(#p2fd59cb186)" style="fill: #3193c2"/><path d="M330.4 41.6L334.2 41.6 334.2 35.8 330.4 35.8 330.4 41.6" clip-path="url(#p2fd59cb186)" style="fill: #1878b4"/><path d="M330.4 35.8L334.2 35.8 334.2 30 330.4 30 330.4 35.8" clip-path="url(#p2fd59cb186)" style="fill: #085da0"/></g><g id="matplotlib.axis_3"/><g id="matplotlib.axis_4"><g id="ytick_6"><g id="line2d_10"><defs><path id="mb71b77dcba" d="M0 0L1.4 0" style="stroke: #333333; stroke-width: 0.5"/></defs><g><use xlink:href="#mb71b77dcba" x="334.15" y="87.98" style="fill: #333333; stroke: #333333; stroke-width: 0.5"/></g></g><g id="text_6"><text style="font-size: 5.3px; font-family: 'Liberation Sans'; text-anchor: start; fill: #222222" x="336.65" y="89.9" transform="rotate(-0 336.652 89.904422)">0.0</text></g></g><g id="ytick_7"><g id="line2d_11"><g><use xlink:href="#mb71b77dcba" x="334.15" y="70.57" style="fill: #333333; stroke: #333333; stroke-width: 0.5"/></g></g><g id="text_7"><text style="font-size: 5.3px; font-family: 'Liberation Sans'; text-anchor: start; fill: #222222" x="336.65" y="72.49" transform="rotate(-0 336.652 72.494822)">1.5</text></g></g><g id="ytick_8"><g id="line2d_12"><g><use xlink:href="#mb71b77dcba" x="334.15" y="53.16" style="fill: #333333; stroke: #333333; stroke-width: 0.5"/></g></g><g id="text_8"><text style="font-size: 5.3px; font-family: 'Liberation Sans'; text-anchor: start; fill: #222222" x="336.65" y="55.09" transform="rotate(-0 336.652 55.085222)">3.0</text></g></g><g id="ytick_9"><g id="line2d_13"><g><use xlink:href="#mb71b77dcba" x="334.15" y="35.76" style="fill: #333333; stroke: #333333; stroke-width: 0.5"/></g></g><g id="text_9"><text style="font-size: 5.3px; font-family: 'Liberation Sans'; text-anchor: start; fill: #222222" x="336.65" y="37.68" transform="rotate(-0 336.652 37.675622)">4.5</text></g></g></g><g id="LineCollection_2"/><g id="patch_21"><path d="M330.4 88L332.3 90.9 334.2 88 334.2 30 332.3 27.1 330.4 30 330.4 88z" style="fill: none; stroke: #666666; stroke-width: 0.4; stroke-linejoin: miter; stroke-linecap: square"/></g></g><g id="axes_7"><g id="patch_22"><path d="M58.1 159.41 C 66.35 159.41 74.27 156.13 80.1 150.3 C 85.93 144.47 89.21 136.55 89.21 128.3 C 89.21 120.06 85.93 112.14 80.1 106.31 C 74.27 100.48 66.35 97.2 58.1 97.2 C 49.86 97.2 41.94 100.48 36.11 106.31 C 30.28 112.14 27 120.06 27 128.3 C 27 136.55 30.28 144.47 36.11 150.3 C 41.94 156.13 49.86 159.41 58.1 159.41L58.1 159.41z" clip-path="url(#p2e82e43c86)" style="fill: none"/></g><g id="QuadContourSet_6"><path clip-path="url(#p3fc13e1a59)" style="fill: #ffffff; stroke: #ffffff; stroke-width: 0.35"/><path d="M26 161L90.8 161 90.8 95.6 25.4 95.6 25.4 161zM51.8 149.1L45 146.1 43.9 145.1 43.3 144.2 41.3 139.6 40.7 137.2 40 131.9 40 128.9 40.2 127.1 41.2 123.6 42.1 121 43.3 119.4 45 118.1 48 116.3 49.8 115.7 56.3 115.2 58.1 115.3 60.5 116.2 65.2 119.1 67.1 120.6 69.7 123.6 71.1 125.9 72 128.9 72.6 131.9 72.4 134.8 71.1 140.2 70.7 141.4 70 142.6 68.2 144.6 64 148 62.3 148.9 60.5 149.3 54.5 149.6 53.4 149.5 52.2 149.2z" clip-path="url(#p3fc13e1a59)" style="fill: #dfebeb; stroke: #dfebeb; stroke-width: 0.35"/><path d="M52.2 149.2L53.4 149.5 54.5 149.6 60.5 149.3 62.3 148.9 64 148 68.2 144.6 70 142.6 70.7 141.4 71.1 140.2 72.4 134.8 72.6 131.9 72 128.9 71.1 125.9 69.7 123.6 67.1 120.6 65.2 119.1 60.5 116.2 58.1 115.3 56.3 115.2 49.8 115.7 48 116.3 45 118.1 43.3 119.4 42.1 121 41.2 123.6 40.2 127.1 40 128.9 40 131.9 40.7 137.2 41.3 139.6 43.3 144.2 43.9 145.1 45 146.1 51.8 149.1zM51.9 143.7L49.8 142.7 47.4 140.9 46.2 139.7 45.5 138.4 44.7 136 44 131.3 44 128.3 44.6 125.9 45.6 123.1 46.4 121.8 48 120.4 50.4 119.1 52.2 118.6 54.5 118.4 58.1 118.5 59.9 118.9 62.3 120.2 65.1 122.4 66.2 123.6 67.1 125.3 68.3 129.5 68.5 131.3 68.3 133.1 67.3 137.2 66.6 139 65.8 140.2 64 141.6 61.1 143.4 59.3 144 57.5 144.2 53.9 144.1 52.2 143.8z" clip-path="url(#p3fc13e1a59)" style="fill: #c0d6d6; stroke: #c0d6d6; stroke-width: 0.35"/><path d="M52.2 143.8L53.9 144.1 57.5 144.2 59.3 144 61.1 143.4 64 141.6 65.8 140.2 66.6 139 67.3 137.2 68.3 133.1 68.5 131.3 68.3 129.5 67.1 125.3 66.2 123.6 65.1 122.4 62.3 120.2 59.9 118.9 58.1 118.5 54.5 118.4 52.2 118.6 50.4 119.1 48 120.4 46.4 121.8 45.6 123.1 44.6 125.9 44 128.3 44 131.3 44.7 136 45.5 138.4 46.2 139.7 47.4 140.9 49.8 142.7 51.9 143.7zM52.9 140.8L51 139.9 49.8 139 48.4 137.2 47.4 135.4 46.8 133.1 46.5 130.7 46.6 128.9 47 127.1 48 124.7 48.8 123.6 49.8 122.7 51.6 121.7 53.4 121.1 55.1 121 56.9 121.1 59.3 121.6 61.1 122.4 62.3 123.2 63.7 124.7 64.5 125.9 65 127.7 65.5 130.7 65.4 131.9 65.1 133.6 64.1 136 63.1 137.8 62.3 138.8 61.1 139.8 59.3 140.7 57.5 141.3 55.7 141.3 53.4 140.9z" clip-path="url(#p3fc13e1a59)" style="fill: #a2c1c2; stroke: #a2c1c2; stroke-width: 0.35"/><path d="M53.4 140.9L55.7 141.3 57.5 141.3 59.3 140.7 61.1 139.8 62.3 138.8 63.1 137.8 64.1 136 65.1 133.6 65.4 131.9 65.5 130.7 65 127.7 64.5 125.9 63.7 124.7 62.3 123.2 61.1 122.4 59.3 121.6 56.9 121.1 55.1 121 53.4 121.1 51.6 121.7 49.8 122.7 48.8 123.6 48 124.7 47 127.1 46.6 128.9 46.5 130.7 46.8 133.1 47.4 135.4 48.4 137.2 49.8 139 51 139.9 52.9 140.8zM54.4 138.4L53.4 138 52.2 137.2 50.9 136 49.6 134.2 49.2 133.1 48.8 131.3 48.8 129.5 49 128.3 49.5 127.1 50.1 125.9 51 125 52.2 124.2 53.4 123.6 55.1 123.2 56.3 123.2 58.1 123.5 59.3 123.9 60.5 124.6 61.3 125.3 62.3 126.7 62.7 127.7 63.1 129.5 63.1 131.3 62.8 133.1 62.4 134.2 61.8 135.4 60.8 136.6 59.9 137.4 58.7 138.1 57.5 138.5 56.3 138.7 54.5 138.5z" clip-path="url(#p3fc13e1a59)" style="fill: #8ea5ae; stroke: #8ea5ae; stroke-width: 0.35"/><path d="M54.5 138.5L56.3 138.7 57.5 138.5 58.7 138.1 59.9 137.4 60.8 136.6 61.8 135.4 62.4 134.2 62.8 133.1 63.1 131.3 63.1 129.5 62.7 127.7 62.3 126.7 61.3 125.3 60.5 124.6 59.3 123.9 58.1 123.5 56.3 123.2 55.1 123.2 53.4 123.6 52.2 124.2 51 125 50.1 125.9 49.5 127.1 49 128.3 48.8 129.5 48.8 131.3 49.2 133.1 49.6 134.2 50.9 136 52.2 137.2 53.4 138 54.4 138.4zM54.6 136L52.8 134.9 52.1 134.2 51.2 133.1 50.6 131.3 50.6 130.1 50.7 128.9 51.6 127.1 52.2 126.5 53.4 125.6 55.1 125 56.3 125 57.5 125.2 59.3 126 59.9 126.5 60.7 127.7 61.3 129.5 61.3 130.7 61.2 131.9 60.5 133.8 59.9 134.6 59 135.4 58.1 135.9 56.9 136.2 55.1 136.2z" clip-path="url(#p3fc13e1a59)" style="fill: #7a899a; stroke: #7a899a; stroke-width: 0.35"/><path d="M55.1 136.2L56.9 136.2 58.1 135.9 59 135.4 59.9 134.6 60.5 133.8 61.2 131.9 61.3 130.7 61.3 129.5 60.7 127.7 59.9 126.5 59.3 126 57.5 125.2 56.3 125 55.1 125 53.4 125.6 52.2 126.5 51.6 127.1 50.7 128.9 50.6 130.1 50.6 131.3 51.2 133.1 52.1 134.2 52.8 134.9 54.6 136zM54.3 133.6L53 132.5 52.4 131.3 52.2 130.1 52.5 128.9 53.2 127.7 54.5 126.8 55.7 126.5 57.5 126.7 58.7 127.5 59.5 128.9 59.8 130.1 59.5 131.9 58.7 133.2 57.5 134 55.7 134.2 54.5 133.8z" clip-path="url(#p3fc13e1a59)" style="fill: #656d85; stroke: #656d85; stroke-width: 0.35"/><path d="M54.5 133.8L55.7 134.2 57.5 134 58.7 133.2 59.5 131.9 59.8 130.1 59.5 128.9 58.7 127.5 57.5 126.7 55.7 126.5 54.5 126.8 53.2 127.7 52.5 128.9 52.2 130.1 52.4 131.3 53 132.5 54.3 133.6zM55 131.9L54.4 131.3 54.2 130.7 54.2 129.5 54.5 128.9 55.1 128.3 55.7 128.1 56.3 128.1 57.1 128.3 57.8 128.9 58.1 129.5 58.2 130.7 58 131.3 57.5 131.9 56.9 132.2 56.3 132.3 55.1 132z" clip-path="url(#p3fc13e1a59)" style="fill: #515171; stroke: #515171; stroke-width: 0.35"/><path d="M55.1 132L56.3 132.3 56.9 132.2 57.5 131.9 58 131.3 58.2 130.7 58.1 129.5 57.8 128.9 57.1 128.3 56.3 128.1 55.7 128.1 55.1 128.3 54.5 128.9 54.2 129.5 54.2 130.7 54.4 131.3 55 131.9z" clip-path="url(#p3fc13e1a59)" style="fill: #3d3d55; stroke: #3d3d55; stroke-width: 0.35"/><path clip-path="url(#p3fc13e1a59)" style="fill: #292938; stroke: #292938; stroke-width: 0.35"/><path clip-path="url(#p3fc13e1a59)" style="fill: #14141c; stroke: #14141c; stroke-width: 0.35"/><path clip-path="url(#p3fc13e1a59)" style="stroke: #000000; stroke-width: 0.35"/></g><g id="patch_23"><path d="M58.1 159.41 C 66.35 159.41 74.27 156.13 80.1 150.3 C 85.93 144.47 89.21 136.55 89.21 128.3 C 89.21 120.06 85.93 112.14 80.1 106.31 C 74.27 100.48 66.35 97.2 58.1 97.2 C 49.86 97.2 41.94 100.48 36.11 106.31 C 30.28 112.14 27 120.06 27 128.3 C 27 136.55 30.28 144.47 36.11 150.3 C 41.94 156.13 49.86 159.41 58.1 159.41L58.1 159.41z" clip-path="url(#p2e82e43c86)" style="fill: none; stroke: #333333; stroke-width: 0.55; stroke-linejoin: miter"/></g><g id="patch_24"><path d="M76.5 126.7L80.2 128.3 76.5 129.9z" clip-path="url(#p2e82e43c86)"/></g><g id="line2d_14"><path d="M58.1 128.3L77.4 128.3" clip-path="url(#p2e82e43c86)" style="fill: none; stroke: #000000; stroke-opacity: 0.8; stroke-width: 0.75"/></g></g><g id="axes_8"><g id="patch_25"><path d="M19.4 157.3L23.3 157.3 23.3 99.3 19.4 99.3z" style="fill: #ffffff"/></g><g id="patch_26"><path d="M19.4 157.3L21.4 160.2 23.3 157.3" style="fill: #ffffff"/></g><g id="patch_27"><path d="M19.4 99.3L21.4 96.4 23.3 99.3"/></g><g id="QuadMesh_3"><path d="M19.4 157.3L23.3 157.3 23.3 151.5 19.4 151.5 19.4 157.3" clip-path="url(#pc9ef784b21)" style="fill: #dfebeb"/><path d="M19.4 151.5L23.3 151.5 23.3 145.7 19.4 145.7 19.4 151.5" clip-path="url(#pc9ef784b21)" style="fill: #c0d6d6"/><path d="M19.4 145.7L23.3 145.7 23.3 139.9 19.4 139.9 19.4 145.7" clip-path="url(#pc9ef784b21)" style="fill: #a2c1c2"/><path d="M19.4 139.9L23.3 139.9 23.3 134.1 19.4 134.1 19.4 139.9" clip-path="url(#pc9ef784b21)" style="fill: #8ea5ae"/><path d="M19.4 134.1L23.3 134.1 23.3 128.3 19.4 128.3 19.4 134.1" clip-path="url(#pc9ef784b21)" style="fill: #7a899a"/><path d="M19.4 128.3L23.3 128.3 23.3 122.5 19.4 122.5 19.4 128.3" clip-path="url(#pc9ef784b21)" style="fill: #656d85"/><path d="M19.4 122.5L23.3 122.5 23.3 116.7 19.4 116.7 19.4 122.5" clip-path="url(#pc9ef784b21)" style="fill: #515171"/><path d="M19.4 116.7L23.3 116.7 23.3 110.9 19.4 110.9 19.4 116.7" clip-path="url(#pc9ef784b21)" style="fill: #3d3d55"/><path d="M19.4 110.9L23.3 110.9 23.3 105.1 19.4 105.1 19.4 110.9" clip-path="url(#pc9ef784b21)" style="fill: #292938"/><path d="M19.4 105.1L23.3 105.1 23.3 99.3 19.4 99.3 19.4 105.1" clip-path="url(#pc9ef784b21)" style="fill: #14141c"/></g><g id="matplotlib.axis_5"/><g id="matplotlib.axis_6"><g id="ytick_10"><g id="line2d_15"><g><use xlink:href="#m5957307a2c" x="19.44" y="157.32" style="fill: #333333; stroke: #333333; stroke-width: 0.5"/></g></g><g id="text_10"><text style="font-size: 5.3px; font-family: 'Liberation Sans'; text-anchor: end; fill: #222222" x="17.14" y="159.24" transform="rotate(-0 17.14 159.240422)">0</text></g></g><g id="ytick_11"><g id="line2d_16"><g><use xlink:href="#m5957307a2c" x="19.44" y="145.71" style="fill: #333333; stroke: #333333; stroke-width: 0.5"/></g></g><g id="text_11"><text style="font-size: 5.3px; font-family: 'Liberation Sans'; text-anchor: end; fill: #222222" x="17.14" y="147.63" transform="rotate(-0 17.14 147.634022)">4</text></g></g><g id="ytick_12"><g id="line2d_17"><g><use xlink:href="#m5957307a2c" x="19.44" y="134.11" style="fill: #333333; stroke: #333333; stroke-width: 0.5"/></g></g><g id="text_12"><text style="font-size: 5.3px; font-family: 'Liberation Sans'; text-anchor: end; fill: #222222" x="17.14" y="136.03" transform="rotate(-0 17.14 136.027622)">8</text></g></g><g id="ytick_13"><g id="line2d_18"><g><use xlink:href="#m5957307a2c" x="19.44" y="122.5" style="fill: #333333; stroke: #333333; stroke-width: 0.5"/></g></g><g id="text_13"><text style="font-size: 5.3px; font-family: 'Liberation Sans'; text-anchor: end; fill: #222222" x="17.14" y="124.42" transform="rotate(-0 17.14 124.421222)">12</text></g></g><g id="ytick_14"><g id="line2d_19"><g><use xlink:href="#m5957307a2c" x="19.44" y="110.89" style="fill: #333333; stroke: #333333; stroke-width: 0.5"/></g></g><g id="text_14"><text style="font-size: 5.3px; font-family: 'Liberation Sans'; text-anchor: end; fill: #222222" x="17.14" y="112.81" transform="rotate(-0 17.14 112.814822)">16</text></g></g><g id="ytick_15"><g id="line2d_20"><g><use xlink:href="#m5957307a2c" x="19.44" y="99.29" style="fill: #333333; stroke: #333333; stroke-width: 0.5"/></g></g><g id="text_15"><text style="font-size: 5.3px; font-family: 'Liberation Sans'; text-anchor: end; fill: #222222" x="17.14" y="101.21" transform="rotate(-0 17.14 101.208422)">20</text></g></g></g><g id="LineCollection_3"/><g id="patch_28"><path d="M19.4 157.3L21.4 160.2 23.3 157.3 23.3 99.3 21.4 96.4 19.4 99.3 19.4 157.3z" style="fill: none; stroke: #666666; stroke-width: 0.4; stroke-linejoin: miter; stroke-linecap: square"/></g></g><g id="axes_9"><g id="patch_29"><path d="M133.34 159.41 C 141.59 159.41 149.51 156.13 155.34 150.3 C 161.17 144.47 164.45 136.55 164.45 128.3 C 164.45 120.06 161.17 112.14 155.34 106.31 C 149.51 100.48 141.59 97.2 133.34 97.2 C 125.1 97.2 117.18 100.48 111.35 106.31 C 105.52 112.14 102.24 120.06 102.24 128.3 C 102.24 136.55 105.52 144.47 111.35 150.3 C 117.18 156.13 125.1 159.41 133.34 159.41L133.34 159.41z" clip-path="url(#pfc64dad7e2)" style="fill: none"/></g><g id="QuadContourSet_7"><path d="M158.6 161L163.6 161 163 160 160.1 158.5 158.6 158.1 157.7 159.5 157.8 161zM157.1 155.6L157.4 155 157.1 154.9 156.7 155zM145.2 154.3L145.9 153.5 145.2 152.4 144.7 153.5zM154.1 147.8L154.9 147.6 154.1 146.2 153.2 147.6zM157.1 145.6L157.7 144.6 157.1 143.9 156.3 144.6zM166 138L166 135.1 165.4 135.7 164.7 137.2zM101.4 128.3L100.7 127.1 100.7 128.3 100.7 128.7zM142.3 121L143.7 121.2 144.8 120.9 146.7 119.5 149.7 119.5 149.8 119.4 150.3 117.9 150.1 114.9 150.1 112 149.7 111.5 148.2 111.5 147.4 112 146.7 112.9 145.9 113.5 146.7 114.1 147.4 114.9 147.8 116.4 146.7 119.2 145.2 118.6 144 117.9 143.7 116.4 142.3 116.1 141.8 116.4 141.5 119.4 141.8 120.9zM131.9 120.1L133.3 120.7 134.8 119.7 135.5 117.9 136.3 116.9 137.9 116.4 136.3 113.8 134.8 113.5 133.3 114 131.9 113.9 130.4 112.6 129.5 112 128.9 111.8 127.7 112 127.4 113.5 127.5 114.9 128.4 117.9 128.9 118.5 130.6 119.4zM155.6 118.2L157.1 118.4 157.8 117.9 157.1 116.6 155.6 117.5 155.4 117.9zM123 117L124.4 116.8 125 116.4 125.8 114.9 124.9 113.5 123 112.5 121.5 112.9 120.6 113.5 121.3 114.9 122.4 116.4zM164.5 115.4L166 116.3 166 112.7 163 111.1 162.3 112 162.1 113.5 163.2 114.9zM114 113.5L115.5 114.4 116 113.5 115.5 113.1 114 113.5zM108.1 108L108.5 107.5 108.1 107 106.8 107.5z" clip-path="url(#p0fa4f60ecf)" style="fill: #fff5f0; stroke: #fff5f0; stroke-width: 0.35"/><path d="M102.2 161L107.7 161 106.6 159.5 106.4 158 106.9 156.5 105.1 152.9 104.5 152.1 104.3 149.1 103.7 147.4 102.9 146.1 102.6 144.6 102.9 143.1 103.7 141.7 102.2 137.2 103.3 134.2 102.2 131.8 101.6 132.8 100.7 133.1 100.7 154.2 101.8 155 103.1 156.5 102.9 158 102.2 158.9 101.4 159.5 100.7 160.4 100.7 161zM109.6 159.8L110.1 161 125.7 161 124.4 160.7 123 160 121.5 160.2 120 160.9 118.5 160.8 115.5 159.5 114 159.3 111.1 157.5 109.6 158 109.3 159.5zM127.4 161L147.8 161 146.8 159.5 147.1 158 147.7 156.5 148.2 156.1 149.7 156.3 151.2 157.4 152.6 157.8 152.8 158 153.1 159.5 152.5 161 157.8 161 157.7 159.5 158.6 158.1 160.1 158.5 163 160 163.6 161 165.5 161 166 159.6 166 156.8 164.5 158.1 163.2 156.5 164.5 155.6 166 155.7 166 145.3 165.3 144.6 165 143.1 166 141 166 138 164.7 137.2 165.4 135.7 166 135.1 166 131.4 164.5 132.5 163 135.6 160.1 137 158.6 136.9 157.1 136.3 156.3 135.7 155.6 134.6 155.2 132.8 154.1 131.2 153.4 132.8 153.4 134.2 153.3 135.7 152.3 137.2 152.1 138.7 152.7 140.2 151.2 142.7 150.7 143.1 149.7 143.7 148.2 145.4 146.7 146.4 145.6 147.6 145.2 148.8 144 150.6 141.3 153.5 140.8 154.5 140.2 156.5 139.3 157.3 137.8 158.1 136.3 158.7 134.8 158.9 132 159.5 130.4 160.3 127.4 160.4 126 161zM156.7 155L157.1 154.9 157.4 155 157.1 155.6zM144.7 153.5L145.2 152.4 145.9 153.5 145.2 154.3zM147.6 150.6L148.2 150 149.7 149.2 150.6 150.6 149.7 151.4 148.2 151.5zM153.2 147.6L154.1 146.2 154.9 147.6 154.1 147.8zM156.3 144.6L157.1 143.9 157.7 144.6 157.1 145.6zM103.7 131.4L105.1 131.2 106.6 130 106.9 128.3 106.7 126.8 106.6 125.3 109.1 123.9 109.6 123.1 111.1 122.3 112.6 122.8 113.5 122.4 114 121.7 115.5 121.1 118.5 121.6 121.5 120.4 122 120.9 124.4 121.9 128.9 121.5 133.3 122.7 136.3 122.9 140.8 124 143.7 124 146.2 123.9 146.7 123.7 148.2 125.5 149.7 125.5 151.2 126 152.6 128 154.1 127.9 155 126.8 155.1 123.9 155.6 123.2 157.1 122.8 158.6 123 159.3 122.4 159.8 119.4 160.1 119.2 161.5 120.3 163.3 122.4 163.1 123.9 163.2 125.3 163.7 126.8 164.5 127.8 166 128.3 166 120.3 165.4 119.4 166 119 166 116.3 164.5 115.4 163 114.9 162.1 113.5 162.3 112 163 111.1 166 112.7 166 95.6 131.9 95.6 130.4 95.9 130 95.6 117.2 95.6 117.7 97.1 118.5 97.8 119.8 98.6 120 99.8 120.5 98.6 123 98.3 124.4 97.8 125.9 98.3 127.4 99.1 128.9 99.4 130.4 99.7 131.9 99.5 134.8 99.6 136.3 100.4 137.3 101.6 137.8 102.6 139.3 102.4 140.8 100.7 143.7 102.6 145.2 103.2 146.7 102.9 148.2 101.9 149.7 102.4 152.6 103.7 156.5 106 156.7 107.5 152.6 110 151.2 109.9 149.7 109.6 148.2 109.5 146.7 110.5 143.7 109.3 142.3 109.6 140.8 109.8 139.3 110.6 137.8 110.9 136.3 109.4 134.8 109.2 133.3 110 131.9 110.4 130.4 110.2 127.4 109.6 125.9 110.8 124.4 111 123 110.7 121.5 110.9 120 110.5 118.5 110.5 117 111 115.5 111 114 110.2 112.6 110.1 111.2 109 111.4 107.5 111.3 106 111.1 104.9 110.7 104.6 109.6 104.1 108 103.1 108.4 101.6 109.6 100.6 111.1 101 112.6 102.2 114.3 101.6 115.5 100.6 116 100.1 116.4 98.6 116.9 95.6 101.2 95.6 100.7 96.7 100.7 98.8 101.7 101.6 101.1 103.1 100.7 103.5 100.7 108.8 100.9 109 100.7 109.3 100.7 127.1 101.4 128.3 100.7 128.7 100.7 131.1 103.1 131.3zM141.8 120.9L141.5 119.4 141.8 116.4 142.3 116.1 143.7 116.4 144 117.9 145.2 118.6 146.7 119.2 147.8 116.4 147.4 114.9 146.7 114.1 145.9 113.5 146.7 112.9 147.4 112 148.2 111.5 149.7 111.5 150.1 112 150.1 114.9 150.3 117.9 149.8 119.4 149.7 119.5 146.7 119.5 144.8 120.9 143.7 121.2 142.3 121zM110.7 119.4L111.1 118.8 111.6 119.4 111.1 120.4zM130.6 119.4L128.9 118.5 128.4 117.9 127.5 114.9 127.4 113.5 127.7 112 128.9 111.8 129.5 112 130.4 112.6 131.9 113.9 133.3 114 134.8 113.5 136.3 113.8 137.9 116.4 136.3 116.9 135.5 117.9 134.8 119.7 133.3 120.7 131.9 120.1zM155.4 117.9L155.6 117.5 157.1 116.6 157.8 117.9 157.1 118.4 155.6 118.2zM122.4 116.4L121.3 114.9 120.6 113.5 121.5 112.9 123 112.5 124.9 113.5 125.8 114.9 125 116.4 124.4 116.8 123 117zM114 113.5L115.5 113.1 116 113.5 115.5 114.4 114 113.5zM106.8 107.5L108.1 107 108.5 107.5 108.1 108zM155.5 100.1L155.6 100 156.4 100.1 155.6 100.2zM121.5 101.7L122 101.6 121.5 100.9 120.8 101.6z" clip-path="url(#p0fa4f60ecf)" style="fill: #fee6da; stroke: #fee6da; stroke-width: 0.35"/><path d="M101.4 159.5L102.2 158.9 102.9 158 103.1 156.5 101.8 155 100.7 154.2 100.7 160.4zM106.6 159.5L107.7 161 110.1 161 109.6 159.8 109.3 159.5 109.6 158 111.1 157.5 114 159.3 115.5 159.5 118.5 160.8 120 160.9 121.5 160.2 123 160 124.4 160.7 126 161 127.4 160.4 130.4 160.3 132 159.5 134.8 158.9 136.3 158.7 137.8 158.1 139.3 157.3 140.2 156.5 140.8 154.5 141.3 153.5 144 150.6 145.2 148.8 145.6 147.6 146.7 146.4 148.2 145.4 149.7 143.7 150.7 143.1 151.2 142.7 152.6 140.2 152.1 138.7 152.3 137.2 153.3 135.7 153.4 134.2 153.4 132.8 154.1 131.2 155.2 132.8 155.6 134.6 156.3 135.7 157.1 136.3 158.6 136.9 160.1 137 163 135.6 164.5 132.5 166 131.4 166 128.3 164.5 127.8 163.7 126.8 163.2 125.3 163.1 123.9 163.3 122.4 161.5 120.3 160.1 119.2 159.8 119.4 159.3 122.4 158.6 123 157.1 122.8 155.6 123.2 155.1 123.9 155 126.8 154.1 127.9 152.6 128 151.2 126 149.7 125.5 148.2 125.5 146.7 123.7 146.2 123.9 143.7 124 140.8 124 136.3 122.9 133.3 122.7 128.9 121.5 124.4 121.9 122 120.9 121.5 120.4 118.5 121.6 115.5 121.1 114 121.7 113.5 122.4 112.6 122.8 111.1 122.3 109.6 123.1 109.1 123.9 106.6 125.3 106.7 126.8 106.9 128.3 106.6 130 105.1 131.2 103.7 131.4 100.7 131.1 100.7 133.1 101.6 132.8 102.2 131.8 103.3 134.2 102.2 137.2 103.7 141.7 102.9 143.1 102.6 144.6 102.9 146.1 103.7 147.4 104.3 149.1 104.5 152.1 105.1 152.9 106.9 156.5 106.4 158 106.6 159.5zM116.2 158L114 157.5 112.3 156.5 109.6 154.7 108.1 154.3 107.1 153.5 106.6 152.9 106.3 152.1 106.1 150.6 105.7 149.1 104.8 147.6 104.2 146.1 104.2 144.6 104.8 143.1 105 141.7 104.8 140.2 104.3 138.7 104.5 137.2 105.1 135.4 106.6 132.9 107.3 131.3 107.8 129.8 108.2 126.8 109.6 125.4 112.6 125 115.5 123.8 117 123.6 117.9 123.9 118.5 124.3 119.1 123.9 120 123.6 121.5 122.7 124.4 123.3 128.9 123 133.3 124 136.3 124.2 142.3 125.6 145.2 125.5 146.7 125.9 148.2 127.1 149.7 127.4 151.1 128.3 151.9 129.8 152.1 131.3 152 132.8 152.1 134.2 151.9 135.7 151.2 137.1 149.7 138.7 148.2 140.2 146.1 141.7 145 143.1 143.7 144.5 140.8 146.6 140 147.6 139.8 149.1 140.7 150.6 138.3 155 137.8 156.5 136.3 156.7 134.8 156.1 133.6 156.5 131.9 157.6 130.4 157.9 128.9 158.4 125.9 158.7 124.4 158.3 123 158.3 121.5 158.4 120 158.9 118.5 158.7 117 158.1zM156.8 131.3L157.1 130.8 158.7 131.3 158.6 132.1 157.1 132.2zM159.7 129.8L159.1 128.3 160.1 126.9 161.5 126.5 162.4 128.3 161.5 131.1 160.1 130.3zM148.2 161L152.5 161 153.1 159.5 152.8 158 152.6 157.8 151.2 157.4 149.7 156.3 148.2 156.1 147.7 156.5 147.1 158 146.8 159.5 147.8 161zM166 161L166 159.6 165.5 161zM164.5 158.1L166 156.8 166 155.7 164.5 155.6 163.2 156.5 164.4 158zM148.2 151.5L149.7 151.4 150.6 150.6 149.7 149.2 148.2 150 147.6 150.6zM166 145.3L166 141 165 143.1 165.3 144.6zM111.1 120.4L111.6 119.4 111.1 118.8 110.7 119.4zM166 120.3L166 119.4 166 119 165.4 119.4zM115.5 111L117 111 118.5 110.5 120 110.5 121.5 110.9 123 110.7 124.4 111 125.9 110.8 127.4 109.6 130.4 110.2 131.9 110.4 133.3 110 134.8 109.2 136.3 109.4 137.8 110.9 139.3 110.6 140.8 109.8 142.3 109.6 143.7 109.3 146.7 110.5 148.2 109.5 149.7 109.6 151.2 109.9 152.6 110 156.7 107.5 156.5 106 152.6 103.7 149.7 102.4 148.2 101.9 146.7 102.9 145.2 103.2 143.7 102.6 140.8 100.7 139.3 102.4 137.8 102.6 137.3 101.6 136.3 100.4 134.8 99.6 131.9 99.5 130.4 99.7 128.9 99.4 127.4 99.1 125.9 98.3 124.4 97.8 123 98.3 120.5 98.6 120 99.8 119.8 98.6 118.5 97.8 117.7 97.1 117.2 95.6 116.9 95.6 116.4 98.6 116 100.1 115.5 100.6 114.3 101.6 112.6 102.2 111.1 101 109.6 100.6 108.4 101.6 108 103.1 109.6 104.1 110.7 104.6 111.1 104.9 111.3 106 111.4 107.5 111.2 109 112.6 110.1 114 110.2 114.5 110.5zM114.7 109L113.5 107.5 113.2 106 113.4 104.6 114 103.9 115.5 104 115.9 104.6 117 105.2 118.5 105.4 120 104.6 121.5 104.3 123 105.2 123.6 106 123.8 107.5 123.2 109 121.5 109.2 120 108.6 118.5 108.4 118 109 117 109.5 115.5 109.6zM126.4 106L126.6 104.6 127.4 103.5 128 103.1 128.4 101.6 128.9 101.2 131.9 101.3 133.9 101.6 134 103.1 134.8 104.1 136 104.6 133.3 105.1 131.9 105.2 130.4 105.2 128.9 105.7 127.4 107.4zM148.9 106L149.2 104.6 149.7 104.4 150 104.6 150.7 106 149.7 106.9zM120.8 101.6L121.5 100.9 122 101.6 121.5 101.7zM100.9 109L100.7 108.8 100.7 109 100.7 109.3zM101.1 103.1L101.7 101.6 100.7 98.8 100.7 103.5zM155.6 100.2L156.4 100.1 155.6 100 155.5 100.1zM101.2 95.6L100.7 95.6 100.7 96.7zM130.4 95.9L131.9 95.6 130 95.6z" clip-path="url(#p0fa4f60ecf)" style="fill: #fdcfbc; stroke: #fdcfbc; stroke-width: 0.35"/><path d="M117 158.1L118.5 158.7 120 158.9 121.5 158.4 123 158.3 124.4 158.3 125.9 158.7 128.9 158.4 130.4 157.9 131.9 157.6 133.6 156.5 134.8 156.1 136.3 156.7 137.8 156.5 138.3 155 140.7 150.6 139.8 149.1 140 147.6 140.8 146.6 143.7 144.5 145 143.1 146.1 141.7 148.2 140.2 149.7 138.7 151.2 137.1 151.9 135.7 152.1 134.2 152 132.8 152.1 131.3 151.9 129.8 151.1 128.3 149.7 127.4 148.2 127.1 146.7 125.9 145.2 125.5 142.3 125.6 136.3 124.2 133.3 124 128.9 123 124.4 123.3 121.5 122.7 120 123.6 119.1 123.9 118.5 124.3 117.9 123.9 117 123.6 115.5 123.8 112.6 125 109.6 125.4 108.2 126.8 107.8 129.8 107.3 131.3 106.6 132.9 105.1 135.4 104.5 137.2 104.3 138.7 104.8 140.2 105 141.7 104.8 143.1 104.2 144.6 104.2 146.1 104.8 147.6 105.7 149.1 106.1 150.6 106.3 152.1 106.6 152.9 107.1 153.5 108.1 154.3 109.6 154.7 112.3 156.5 114 157.5 116.2 158zM114 155L112.6 154.6 108.7 152.1 108.1 151.3 105.4 146.1 106.5 143.1 106 140.2 105.6 138.7 105.8 137.2 106.6 135.7 108.1 134.2 108.8 132.8 109.3 131.3 109.3 128.3 109.6 127.2 110.4 126.8 114 126.5 117 128.1 118.5 128 120 127.4 121.5 126.1 123 125.3 125.9 125.2 127.4 124.6 128.9 124.3 131.9 124.9 133.3 125.1 136.3 125.1 140.8 126.1 142.3 126.6 145.2 126.5 146 126.8 148.2 128.4 149.7 129.1 150.2 129.8 150.1 131.3 149.3 135.7 148.5 137.2 146.2 140.2 144.4 141.7 143.2 143.1 142.3 143.9 139.1 146.1 138.1 147.6 137.8 149.1 138.1 152.1 137.8 152.6 136.3 153.6 134.8 153.8 133.3 154.3 131.9 154.2 130.3 155 128.9 156 127.4 156.3 125.9 155.9 124.4 155.3 123 156.1 121.5 156.2 120 155.6 118.5 155.3 117 155.4 115.5 155 114 155zM157.1 132.2L158.6 132.1 158.7 131.3 157.1 130.8 156.8 131.3zM160.1 130.3L161.5 131.1 162.4 128.3 161.5 126.5 160.1 126.9 159.1 128.3 159.7 129.8zM115.5 109.6L117 109.5 118 109 118.5 108.4 120 108.6 121.5 109.2 123.2 109 123.8 107.5 123.6 106 123 105.2 121.5 104.3 120 104.6 118.5 105.4 117 105.2 115.9 104.6 115.5 104 114 103.9 113.4 104.6 113.2 106 113.5 107.5 114.7 109zM127.4 107.4L128.9 105.7 130.4 105.2 131.9 105.2 133.3 105.1 136 104.6 134.8 104.1 134 103.1 133.9 101.6 131.9 101.3 128.9 101.2 128.4 101.6 128 103.1 127.4 103.5 126.6 104.6 126.4 106zM149.7 106.9L150.7 106 150 104.6 149.7 104.4 149.2 104.6 148.9 106z" clip-path="url(#p0fa4f60ecf)" style="fill: #fcb498; stroke: #fcb498; stroke-width: 0.35"/><path d="M114 155L115.5 155 117 155.4 118.5 155.3 120 155.6 121.5 156.2 123 156.1 124.4 155.3 125.9 155.9 127.4 156.3 128.9 156 130.3 155 131.9 154.2 133.3 154.3 134.8 153.8 136.3 153.6 137.8 152.6 138.1 152.1 137.8 149.1 138.1 147.6 139.1 146.1 142.3 143.9 143.2 143.1 144.4 141.7 146.2 140.2 148.5 137.2 149.3 135.7 150.1 131.3 150.2 129.8 149.7 129.1 148.2 128.4 146 126.8 145.2 126.5 142.3 126.6 140.8 126.1 136.3 125.1 133.3 125.1 131.9 124.9 128.9 124.3 127.4 124.6 125.9 125.2 123 125.3 121.5 126.1 120 127.4 118.5 128 117 128.1 114 126.5 110.4 126.8 109.6 127.2 109.3 128.3 109.3 131.3 108.8 132.8 108.1 134.2 106.6 135.7 105.8 137.2 105.6 138.7 106 140.2 106.5 143.1 105.4 146.1 108.1 151.3 108.7 152.1 112.6 154.6 114 155zM119.2 153.5L117 153.2 114 153 111.1 151.5 108.5 149.1 107.7 147.6 107.1 146.1 107.9 144.6 108 143.1 107.5 140.2 107 138.7 107.4 137.2 109.4 135.7 111.2 134.2 111.9 131.3 113.4 129.8 114 129.4 115.6 129.8 117 130.6 118.5 130.8 120 130.4 121.5 130.1 121.9 129.8 122 128.3 123 127.6 124.4 127.2 125.9 127.4 126.4 128.3 127.4 129.3 128.8 128.3 127.2 126.8 128.9 126 131.9 126.4 139.3 126.5 145 128.3 146.7 129.3 147.1 129.8 147.3 131.3 146.7 132.5 146.4 134.2 146.8 135.7 145.8 138.7 142.3 142.6 140.8 143.6 139.3 144.2 137.8 145.3 136.3 146.2 135 147.6 135.2 149.1 133.3 151.2 130.3 153.5 128.9 154.4 127.4 154.6 125.9 153.9 124.4 153.7 121.5 154 120 153.7z" clip-path="url(#p0fa4f60ecf)" style="fill: #fc9676; stroke: #fc9676; stroke-width: 0.35"/><path d="M120 153.7L121.5 154 124.4 153.7 125.9 153.9 127.4 154.6 128.9 154.4 130.3 153.5 133.3 151.2 135.2 149.1 135 147.6 136.3 146.2 137.8 145.3 139.3 144.2 140.8 143.6 142.3 142.6 145.8 138.7 146.8 135.7 146.4 134.2 146.7 132.5 147.3 131.3 147.1 129.8 146.7 129.3 145 128.3 139.3 126.5 131.9 126.4 128.9 126 127.2 126.8 128.8 128.3 127.4 129.3 126.4 128.3 125.9 127.4 124.4 127.2 123 127.6 122 128.3 121.9 129.8 121.5 130.1 120 130.4 118.5 130.8 117 130.6 115.6 129.8 114 129.4 113.4 129.8 111.9 131.3 111.2 134.2 109.4 135.7 107.4 137.2 107 138.7 107.5 140.2 108 143.1 107.9 144.6 107.1 146.1 107.7 147.6 108.5 149.1 111.1 151.5 114 153 117 153.2 119.2 153.5zM119.7 152.1L117 151.4 115.5 151.4 114 150.9 113.5 150.6 113.4 149.1 114 148.1 114.2 147.6 113.8 146.1 114.3 144.6 114.4 143.1 114 142.4 111.3 140.2 111.8 138.7 111.1 137.2 112.6 135.5 114 132.3 114.7 132.8 115.5 133 117 132.9 120 132 121.5 131.9 124.4 130.7 127.4 131 128.9 130.8 131.9 129.1 134.8 128.5 136.3 128.4 139.3 127.4 140.8 127.7 142.3 128.3 143.7 129.7 145.2 130.7 145.6 131.3 145.7 132.8 145.2 134.3 144.2 135.7 143.6 137.2 143.9 138.7 142.9 140.2 142.3 141 140.8 142.1 139.3 141.9 138.3 143.1 134.8 145.7 133.3 147.3 131.9 148 130.4 148.9 129.6 150.6 129.6 152.1 128.9 152.6 127.4 152 125.9 152.1 124.4 152.5 123 152.3 121.5 152.4 120 152.1zM110.7 149.1L109.5 147.6 109.6 146.4 111.1 147.3 111.8 149.1 111.1 149.5z" clip-path="url(#p0fa4f60ecf)" style="fill: #fb7959; stroke: #fb7959; stroke-width: 0.35"/><path d="M120 152.1L121.5 152.4 123 152.3 124.4 152.5 125.9 152.1 127.4 152 128.9 152.6 129.6 152.1 129.6 150.6 130.4 148.9 131.9 148 133.3 147.3 134.8 145.7 138.3 143.1 139.3 141.9 140.8 142.1 142.3 141 142.9 140.2 143.9 138.7 143.6 137.2 144.2 135.7 145.2 134.3 145.7 132.8 145.6 131.3 145.2 130.7 143.7 129.7 142.3 128.3 140.8 127.7 139.3 127.4 136.3 128.4 134.8 128.5 131.9 129.1 128.9 130.8 127.4 131 124.4 130.7 121.5 131.9 120 132 117 132.9 115.5 133 114.7 132.8 114 132.3 112.6 135.5 111.1 137.2 111.8 138.7 111.3 140.2 114 142.4 114.4 143.1 114.3 144.6 113.8 146.1 114.2 147.6 114 148.1 113.4 149.1 113.5 150.6 114 150.9 115.5 151.4 117 151.4 119.7 152.1zM119.8 150.6L118.9 149.1 117 147.6 116 146.1 116.7 144.6 115.8 141.7 115.5 141 114.9 140.2 114.4 138.7 117 136.2 118.5 136.3 120 136.2 121.5 135.1 124.4 134.3 128.9 132.3 130.4 131.3 131.9 130.4 134.8 129.4 136.3 129.3 139.3 128.3 140.8 128.5 142.3 129 143 129.8 144.6 132.8 144.1 134.2 142.3 135.7 141.1 137.2 140.2 138.7 138 140.2 136.6 143.1 134.8 144.2 133.3 145.6 131.9 146.1 130.4 146.8 128.9 148.5 127.4 149.6 125.9 150.1 124.4 151 121.5 150.9 120 150.6zM111.1 149.5L111.8 149.1 111.1 147.3 109.6 146.4 109.5 147.6 110.7 149.1z" clip-path="url(#p0fa4f60ecf)" style="fill: #f7593f; stroke: #f7593f; stroke-width: 0.35"/><path d="M120 150.6L121.5 150.9 124.4 151 125.9 150.1 127.4 149.6 128.9 148.5 130.4 146.8 131.9 146.1 133.3 145.6 134.8 144.2 136.6 143.1 138 140.2 140.2 138.7 141.1 137.2 142.3 135.7 144.1 134.2 144.6 132.8 143 129.8 142.3 129 140.8 128.5 139.3 128.3 136.3 129.3 134.8 129.4 131.9 130.4 130.4 131.3 128.9 132.3 124.4 134.3 121.5 135.1 120 136.2 118.5 136.3 117 136.2 114.4 138.7 114.9 140.2 115.5 141 115.8 141.7 116.7 144.6 116 146.1 117 147.6 118.9 149.1 119.8 150.6zM120.8 149.1L118.1 146.1 118.2 144.6 117.2 141.7 117.1 140.2 117.4 138.7 118.5 137.9 120 137.5 121.5 136.7 125.9 135.6 127.4 135 128.3 134.2 130.4 133.1 131.9 131.8 133.3 131.3 134.8 130.4 136.3 130.3 137.2 129.8 139.3 129.1 140.8 129.2 142.3 129.8 143.1 131.3 143.5 132.8 143.1 134.2 142.3 135 141.1 135.7 139.3 137.6 137.8 138.6 134.8 141.4 133.3 141.8 133.1 141.7 132 140.2 131.9 139.8 131.6 140.2 131.5 141.7 131.1 143.1 130.4 144.4 129.6 146.1 128.3 147.6 127.4 148.3 125.9 148.9 124.5 149.1 123 149.6 121.5 149.6zM130.4 139.1L131 138.7 130.4 138.1 130.1 138.7z" clip-path="url(#p0fa4f60ecf)" style="fill: #ec382b; stroke: #ec382b; stroke-width: 0.35"/><path d="M121.5 149.6L123 149.6 124.5 149.1 125.9 148.9 127.4 148.3 128.3 147.6 129.6 146.1 130.4 144.4 131.1 143.1 131.5 141.7 131.6 140.2 131.9 139.8 132 140.2 133.1 141.7 133.3 141.8 134.8 141.4 137.8 138.6 139.3 137.6 141.1 135.7 142.3 135 143.1 134.2 143.5 132.8 143.1 131.3 142.3 129.8 140.8 129.2 139.3 129.1 137.2 129.8 136.3 130.3 134.8 130.4 133.3 131.3 131.9 131.8 130.4 133.1 128.3 134.2 127.4 135 125.9 135.6 121.5 136.7 120 137.5 118.5 137.9 117.4 138.7 117.1 140.2 117.2 141.7 118.2 144.6 118.1 146.1 120.8 149.1zM121.2 147.6L120.8 146.1 119.6 144.6 118.5 142.6 118.2 141.7 118.2 140.2 118.5 139.5 119.4 138.7 121.5 138.2 123 138.3 124.4 137.9 125.9 138 127.4 138.3 127.8 138.7 127.6 140.2 128.4 141.7 128.5 144.6 126.5 147.6 125.9 147.9 123 148.3 121.5 147.9zM130.1 138.7L130.4 138.1 131 138.7 130.4 139.1zM133 138.7L133.3 136.9 134.3 135.7 133.1 134.2 133.4 132.8 137.8 130.7 139.3 130.2 140.8 130.1 142.3 130.9 142.8 132.8 142.3 134.2 140.8 135 139.3 136.2 137.4 137.2 136.2 138.7 134.8 139.6 133.3 139.2z" clip-path="url(#p0fa4f60ecf)" style="fill: #d21e20; stroke: #d21e20; stroke-width: 0.35"/><path d="M121.5 147.9L123 148.3 125.9 147.9 126.5 147.6 128.5 144.6 128.4 141.7 127.6 140.2 127.8 138.7 127.4 138.3 125.9 138 124.4 137.9 123 138.3 121.5 138.2 119.4 138.7 118.5 139.5 118.2 140.2 118.2 141.7 118.5 142.6 119.6 144.6 120.8 146.1 121.2 147.6zM124.7 143.1L123 141.6 121.5 142.5 120 142.7 119.7 141.7 119.7 140.2 120 139.9 121.5 139.7 123 139.9 124.4 139.8 125.9 140.1 126.2 143.1 125.9 144zM133.3 139.2L134.8 139.6 136.2 138.7 137.4 137.2 139.3 136.2 140.8 135 142.3 134.2 142.8 132.8 142.3 130.9 140.8 130.1 139.3 130.2 137.8 130.7 133.4 132.8 133.1 134.2 134.3 135.7 133.3 136.9 133 138.7zM136.2 135.7L135.8 134.2 136.3 133.2 137.8 133.1 139.6 134.2 137.8 135.4 136.3 136z" clip-path="url(#p0fa4f60ecf)" style="fill: #b61319; stroke: #b61319; stroke-width: 0.35"/><path d="M125.9 144L126.2 143.1 125.9 140.1 124.4 139.8 123 139.9 121.5 139.7 120 139.9 119.7 140.2 119.7 141.7 120 142.7 121.5 142.5 123 141.6 124.7 143.1zM136.3 136L137.8 135.4 139.6 134.2 137.8 133.1 136.3 133.2 135.8 134.2 136.2 135.7z" clip-path="url(#p0fa4f60ecf)" style="fill: #940b13; stroke: #940b13; stroke-width: 0.35"/><path clip-path="url(#p0fa4f60ecf)" style="fill: #67000d; stroke: #67000d; stroke-width: 0.35"/></g><g id="QuadContourSet_8"><path d="M103.2 161L166 161 166 95.6 100.7 95.6 100.7 161zM112 153.4L107 148.4 107 138.4 108.2 137.1 120.8 137.1 125.8 142.1 135.9 142.1 137.1 143.4 137.1 148.4 133.3 152.2 128.3 152.2 125.8 154.7 113.2 154.7z" clip-path="url(#p0fa4f60ecf)" style="fill: url(#htch)"/></g><g id="patch_30"><path d="M133.34 159.41 C 141.59 159.41 149.51 156.13 155.34 150.3 C 161.17 144.47 164.45 136.55 164.45 128.3 C 164.45 120.06 161.17 112.14 155.34 106.31 C 149.51 100.48 141.59 97.2 133.34 97.2 C 125.1 97.2 117.18 100.48 111.35 106.31 C 105.52 112.14 102.24 120.06 102.24 128.3 C 102.24 136.55 105.52 144.47 111.35 150.3 C 117.18 156.13 125.1 159.41 133.34 159.41L133.34 159.41z" clip-path="url(#pfc64dad7e2)" style="fill: none; stroke: #333333; stroke-width: 0.55; stroke-linejoin: miter"/></g><g id="patch_31"><path d="M151.7 126.7L155.4 128.3 151.7 129.9z" clip-path="url(#pfc64dad7e2)"/></g><g id="line2d_21"><path d="M133.3 128.3L152.6 128.3" clip-path="url(#pfc64dad7e2)" style="fill: none; stroke: #000000; stroke-opacity: 0.8; stroke-width: 0.75"/></g></g><g id="axes_10"><g id="patch_32"><path d="M222.05 159.41 C 230.3 159.41 238.21 156.13 244.04 150.3 C 249.87 144.47 253.15 136.55 253.15 128.3 C 253.15 120.06 249.87 112.14 244.04 106.31 C 238.21 100.48 230.3 97.2 222.05 97.2 C 213.8 97.2 205.89 100.48 200.05 106.31 C 194.22 112.14 190.94 120.06 190.94 128.3 C 190.94 136.55 194.22 144.47 200.05 150.3 C 205.89 156.13 213.8 159.41 222.05 159.41L222.05 159.41z" clip-path="url(#pc8874d50de)" style="fill: none"/></g><g id="QuadContourSet_9"><path clip-path="url(#p5fa4e52aef)" style="fill: #ffffff; stroke: #ffffff; stroke-width: 0.35"/><path d="M190 161L254.7 161 254.7 95.6 189.4 95.6 189.4 161zM219.6 144.9L213.7 143.5 212 142.8 210.8 141.9 207.1 137.8 206.1 136 205.3 133.1 204.5 127.7 204.7 124.7 207.1 116.4 208.1 114.6 209.6 113.3 214.9 109.4 217.3 108.2 219.1 107.9 225 107.5 226.2 107.6 228 108.3 232.8 111.7 234.2 112.9 235.1 114.2 236.7 118.2 237.9 122.4 238 123.6 237.9 125.3 237.2 129.5 236.5 132.5 235.6 134.8 233.1 139 231.5 140.9 229.8 142.1 223.8 144.6 221.5 145.1 219.7 144.9z" clip-path="url(#p5fa4e52aef)" style="fill: #dfebeb; stroke: #dfebeb; stroke-width: 0.35"/><path d="M219.7 144.9L221.5 145.1 223.8 144.6 229.8 142.1 231.5 140.9 233.1 139 235.6 134.8 236.5 132.5 237.2 129.5 237.9 125.3 238 123.6 237.9 122.4 236.7 118.2 235.1 114.2 234.2 112.9 232.8 111.7 228 108.3 226.2 107.6 225 107.5 219.1 107.9 217.3 108.2 214.9 109.4 209.6 113.3 208.1 114.6 207.1 116.4 204.7 124.7 204.5 127.7 205.3 133.1 206.1 136 207.1 137.8 210.8 141.9 212 142.8 213.7 143.5 219.6 144.9zM218.1 140.2L216.1 139.4 212.3 137.2 211.1 136 210.4 134.8 209 130.1 208.6 127.7 208.7 125.9 209.7 121.8 210.6 119.4 211.8 117.6 214.3 115.6 217.3 113.6 218.5 113 220.3 112.6 223.8 112.6 225.6 112.8 227.4 113.5 230.4 115.7 232.1 117.4 233.1 118.8 234 121.2 234.7 124.7 234.7 126.5 234.4 128.9 233 133.1 232.1 134.7 231 136.1 228 138.6 226.8 139.3 225 139.8 220.3 140.4 218.5 140.3z" clip-path="url(#p5fa4e52aef)" style="fill: #c0d6d6; stroke: #c0d6d6; stroke-width: 0.35"/><path d="M218.5 140.3L220.3 140.4 225 139.8 226.8 139.3 228 138.6 231 136.1 232.1 134.7 233 133.1 234.4 128.9 234.7 126.5 234.7 124.7 234 121.2 233.1 118.8 232.1 117.4 230.4 115.7 227.4 113.5 225.6 112.8 223.8 112.6 220.3 112.6 218.5 113 217.3 113.6 214.3 115.6 211.8 117.6 210.6 119.4 209.7 121.8 208.7 125.9 208.6 127.7 209 130.1 210.4 134.8 211.1 136 212.3 137.2 216.1 139.4 218.1 140.2zM217.4 136.6L215.5 135.6 213.9 134.2 213 133.1 212.3 131.3 211.8 128.9 211.6 127.1 212.1 124.7 213.1 121.6 214.3 120 215.5 118.9 217.3 117.7 219.1 116.9 220.9 116.6 223.8 116.6 225.6 116.8 226.8 117.2 228 117.9 229.8 119.6 231 121.1 231.5 122.4 232.1 124.7 232.3 127.1 232 128.9 231.2 131.3 230.2 133.1 229.2 134.2 227.4 135.5 225.6 136.4 223.8 136.9 222 137.1 219.7 137.1 217.9 136.8z" clip-path="url(#p5fa4e52aef)" style="fill: #a2c1c2; stroke: #a2c1c2; stroke-width: 0.35"/><path d="M217.9 136.8L219.7 137.1 222 137.1 223.8 136.9 225.6 136.4 227.4 135.5 229.2 134.2 230.2 133.1 231.2 131.3 232 128.9 232.3 127.1 232.1 124.7 231.5 122.4 231 121.1 229.8 119.6 228 117.9 226.8 117.2 225.6 116.8 223.8 116.6 220.9 116.6 219.1 116.9 217.3 117.7 215.5 118.9 214.3 120 213.1 121.6 212.1 124.7 211.6 127.1 211.8 128.9 212.3 131.3 213 133.1 213.9 134.2 215.5 135.6 217.4 136.6zM219.4 134.8L217.9 134.3 216.7 133.6 215.6 132.5 214.5 130.7 214 128.9 213.8 127.7 214 125.9 214.6 124.1 215.2 123 216.1 121.7 217.3 120.8 219.1 119.8 220.3 119.4 222 119.2 223.8 119.4 225.6 119.9 226.8 120.5 228 121.5 229.1 123 229.6 124.1 230 125.3 230.1 127.1 230 128.9 229.6 130.1 229 131.3 228.1 132.5 227.4 133.1 226.2 133.9 224.4 134.6 222.6 135 220.9 135.1 219.7 134.9z" clip-path="url(#p5fa4e52aef)" style="fill: #8ea5ae; stroke: #8ea5ae; stroke-width: 0.35"/><path d="M219.7 134.9L220.9 135.1 222.6 135 224.4 134.6 226.2 133.9 227.4 133.1 228.1 132.5 229 131.3 229.6 130.1 230 128.9 230.1 127.1 230 125.3 229.6 124.1 229.1 123 228 121.5 226.8 120.5 225.6 119.9 223.8 119.4 222 119.2 220.3 119.4 219.1 119.8 217.3 120.8 216.1 121.7 215.2 123 214.6 124.1 214 125.9 213.8 127.7 214 128.9 214.5 130.7 215.6 132.5 216.7 133.6 217.9 134.3 219.4 134.8zM219 133.1L218 132.5 217.3 131.9 216.5 130.7 216 129.5 215.7 128.3 215.8 127.1 216.1 125.9 216.7 124.6 217.5 123.6 218.5 122.8 219.7 122.1 220.9 121.8 222 121.6 223.2 121.7 224.4 122.1 225.6 122.6 226.8 123.6 227.2 124.1 227.9 125.3 228.3 126.5 228.4 127.7 228.3 128.9 227.5 130.7 226.2 132.1 225 132.9 223.8 133.3 221.5 133.6 220.3 133.5 219.1 133.1z" clip-path="url(#p5fa4e52aef)" style="fill: #7a899a; stroke: #7a899a; stroke-width: 0.35"/><path d="M219.1 133.1L220.3 133.5 221.5 133.6 223.8 133.3 225 132.9 226.2 132.1 227.5 130.7 228.3 128.9 228.4 127.7 228.3 126.5 227.9 125.3 227.2 124.1 226.8 123.6 225.6 122.6 224.4 122.1 223.2 121.7 222 121.6 220.9 121.8 219.7 122.1 218.5 122.8 217.5 123.6 216.7 124.6 216.1 125.9 215.8 127.1 215.7 128.3 216 129.5 216.5 130.7 217.3 131.9 218 132.5 219 133.1zM219.7 131.9L218.5 131 217.5 129.5 217.4 127.7 218 125.9 219.1 124.7 220.9 123.8 222.6 123.6 224.4 124.2 225.6 125 226.6 126.5 226.9 128.3 226.3 130.1 225.2 131.3 223.8 132 222 132.4 220.3 132.1z" clip-path="url(#p5fa4e52aef)" style="fill: #656d85; stroke: #656d85; stroke-width: 0.35"/><path d="M220.3 132.1L222 132.4 223.8 132 225.2 131.3 226.3 130.1 226.9 128.3 226.6 126.5 225.6 125 224.4 124.2 222.6 123.6 220.9 123.8 219.1 124.7 218 125.9 217.4 127.7 217.5 129.5 218.5 131 219.7 131.9zM220.2 130.7L219.5 130.1 218.9 128.9 218.9 127.7 219.1 127.1 219.7 126.3 220.9 125.4 222 125.2 223.2 125.3 224.4 126 225 126.6 225.5 127.7 225.4 128.9 224.7 130.1 223.8 130.8 222.6 131.1 221.5 131.1 220.3 130.7z" clip-path="url(#p5fa4e52aef)" style="fill: #515171; stroke: #515171; stroke-width: 0.35"/><path d="M220.3 130.7L221.5 131.1 222.6 131.1 223.8 130.8 224.7 130.1 225.4 128.9 225.5 127.7 225 126.6 224.4 126 223.2 125.3 222 125.2 220.9 125.4 219.7 126.3 219.1 127.1 218.9 127.7 218.9 128.9 219.5 130.1 220.2 130.7zM221.1 129.5L220.6 128.9 220.5 128.3 220.6 127.7 220.9 127.3 221.5 126.8 222 126.7 223.2 127 223.9 127.7 224 128.3 223.8 128.9 223.3 129.5 222.6 129.8 221.5 129.7z" clip-path="url(#p5fa4e52aef)" style="fill: #3d3d55; stroke: #3d3d55; stroke-width: 0.35"/><path d="M221.5 129.7L222.6 129.8 223.3 129.5 223.8 128.9 224 128.3 223.9 127.7 223.2 127 222 126.7 221.5 126.8 220.9 127.3 220.6 127.7 220.5 128.3 220.6 128.9 221.1 129.5z" clip-path="url(#p5fa4e52aef)" style="fill: #292938; stroke: #292938; stroke-width: 0.35"/><path clip-path="url(#p5fa4e52aef)" style="fill: #14141c; stroke: #14141c; stroke-width: 0.35"/><path clip-path="url(#p5fa4e52aef)" style="stroke: #000000; stroke-width: 0.35"/></g><g id="patch_33"><path d="M222.05 159.41 C 230.3 159.41 238.21 156.13 244.04 150.3 C 249.87 144.47 253.15 136.55 253.15 128.3 C 253.15 120.06 249.87 112.14 244.04 106.31 C 238.21 100.48 230.3 97.2 222.05 97.2 C 213.8 97.2 205.89 100.48 200.05 106.31 C 194.22 112.14 190.94 120.06 190.94 128.3 C 190.94 136.55 194.22 144.47 200.05 150.3 C 205.89 156.13 213.8 159.41 222.05 159.41L222.05 159.41z" clip-path="url(#pc8874d50de)" style="fill: none; stroke: #333333; stroke-width: 0.55; stroke-linejoin: miter"/></g><g id="patch_34"><path d="M240.4 126.7L244.1 128.3 240.4 129.9z" clip-path="url(#pc8874d50de)"/></g><g id="line2d_22"><path d="M222 128.3L241.3 128.3" clip-path="url(#pc8874d50de)" style="fill: none; stroke: #000000; stroke-opacity: 0.8; stroke-width: 0.75"/></g></g><g id="axes_11"><g id="patch_35"><path d="M297.29 159.41 C 305.54 159.41 313.45 156.13 319.28 150.3 C 325.11 144.47 328.39 136.55 328.39 128.3 C 328.39 120.06 325.11 112.14 319.28 106.31 C 313.45 100.48 305.54 97.2 297.29 97.2 C 289.04 97.2 281.13 100.48 275.29 106.31 C 269.46 112.14 266.18 120.06 266.18 128.3 C 266.18 136.55 269.46 144.47 275.29 150.3 C 281.13 156.13 289.04 159.41 297.29 159.41L297.29 159.41z" clip-path="url(#p7c982bd4c5)" style="fill: none"/></g><g id="QuadContourSet_10"><path clip-path="url(#p78ec001d5c)" style="fill: #fff5f0; stroke: #fff5f0; stroke-width: 0.35"/><path d="M318.1 159.5L318.1 159.5 318.1 159.5 318.1 159.5zM303.2 158.4L303.4 158 303.2 156.8 302.7 158zM329.9 156.6L329.9 156.5 329.9 156.4 329.9 156.5zM295.8 150.6L295.9 150.6 295.8 150.5 295.8 150.6zM321 127.1L322.5 126 322.8 125.3 322.5 123.9 321 124.2 320.8 125.3 321 126.8zM322.5 123.8L324 123.5 325.5 122.9 326 122.4 325.9 120.9 325.2 119.4 325.3 117.9 325.2 116.4 324.3 114.9 322.5 114 321.7 114.9 321.6 116.4 321 118.2 320.9 120.9 321 122 321.3 122.4z" clip-path="url(#p78ec001d5c)" style="fill: #fee6da; stroke: #fee6da; stroke-width: 0.35"/><path d="M279.5 161L279.7 161 279.5 160.8 279.3 161zM288.4 161L329.9 161 329.9 135.6 329.5 134.2 329.9 134 329.9 115.8 327 115.1 322.5 111.9 321 111.1 319.6 110.9 319 112 319.7 114.9 319.6 116.4 318.4 117.9 318.1 119.4 318.7 120.9 319.1 123.9 318.5 128.3 318.7 129.8 318.1 131.3 316.6 134 315.1 134 313.6 134.5 312.1 135.8 308.2 137.2 307.7 137.7 306.9 137.2 306.2 137.1 303.8 135.7 301.7 134.9 300.3 134 297.3 133.5 295.8 133.7 294.3 133.5 294 132.8 293 131.3 290.9 129.8 289.9 128.1 288.4 127.2 284.9 128.3 283.9 129.3 283.6 129.8 283.5 131.3 283.8 132.8 284.5 134.2 284.4 135.7 284.1 137.2 284.4 138.7 285.4 139.9 286.9 140.7 288.4 140.5 289.9 140.8 291.3 141.8 292.8 141.7 294.3 142.3 294.9 143.1 293.5 144.6 294.3 146 294.3 146.3 292.8 147.8 291.3 150.6 289.6 152.1 288.3 153.5 287.5 155 287.6 156.5 288.4 157 290.6 158 290.4 159.5 288.4 160.6 288.2 161zM318.1 159.5L318.1 159.5 318.1 159.5 318.1 159.5zM302.7 158L303.2 156.8 303.4 158 303.2 158.4zM295.8 150.6L295.8 150.5 295.9 150.6 295.8 150.6zM296.9 143.1L297.3 142.8 297.8 143.1 297.3 143.3zM321 126.8L320.8 125.3 321 124.2 322.5 123.9 322.8 125.3 322.5 126 321 127.1zM321.3 122.4L321 122 320.9 120.9 321 118.2 321.6 116.4 321.7 114.9 322.5 114 324.3 114.9 325.2 116.4 325.3 117.9 325.2 119.4 325.9 120.9 326 122.4 325.5 122.9 324 123.5 322.5 123.8zM285.4 153.9L285.6 153.5 285.4 153 285.2 153.5zM272.1 126.9L273.5 126.5 275 125.3 276.5 126 278 125.5 279.3 123.9 280 120.9 280 119.4 279.6 117.9 278 117.6 276.5 116.9 275 115.1 273.5 114.7 272.1 115.2 270.6 115.4 269.1 116.1 268.8 116.4 268.6 119.4 268.8 120.9 269.1 121.6 270.6 123.4 270.8 123.9 271 125.3 271.9 126.8zM264.8 114.9L264.6 114.3 264.6 114.9 264.6 115.5z" clip-path="url(#p78ec001d5c)" style="fill: #fdcfbc; stroke: #fdcfbc; stroke-width: 0.35"/><path d="M266.1 161L279.3 161 279.5 160.8 279.7 161 288.2 161 288.4 160.6 290.4 159.5 290.6 158 288.4 157 287.6 156.5 287.5 155 288.3 153.5 289.6 152.1 291.3 150.6 292.8 147.8 294.3 146.3 294.3 146 293.5 144.6 294.9 143.1 294.3 142.3 292.8 141.7 291.3 141.8 289.9 140.8 288.4 140.5 286.9 140.7 285.4 139.9 284.4 138.7 284.1 137.2 284.4 135.7 284.5 134.2 283.8 132.8 283.5 131.3 283.6 129.8 284.9 128.3 288.4 127.2 289.9 128.1 290.9 129.8 293 131.3 294 132.8 294.3 133.5 295.8 133.7 297.3 133.5 300.3 134 301.7 134.9 303.8 135.7 306.2 137.1 306.9 137.2 307.7 137.7 308.2 137.2 312.1 135.8 313.6 134.5 315.1 134 316.6 134 318.1 131.3 318.7 129.8 318.5 128.3 319.1 123.9 318.7 120.9 318.1 119.4 318.4 117.9 319.6 116.4 319.7 114.9 319 112 319.6 110.9 321 111.1 322.5 111.9 327 115.1 329.9 115.8 329.9 95.6 264.6 95.6 264.6 114.3 264.8 114.9 264.6 115.5 264.6 148.8 265.1 149.1 265.9 150.6 264.6 151.6 264.6 161zM285.2 153.5L285.4 153 285.6 153.5 285.4 153.9zM270.1 141.7L269.7 140.2 269.1 138.8 267.9 137.2 268.6 134.2 269.1 132.8 269.8 131.3 271 129.8 272.1 129.2 273.5 129.3 274.6 129.8 275.9 131.3 276.4 132.8 278.1 135.7 278.5 137.2 278.4 138.7 277.7 140.2 276.5 142 275 141.9 273.5 142.3 272.1 143.1 270.6 142.5zM300.8 132.8L300.3 132.4 295.8 131.4 294.3 130.5 293.5 129.8 291.3 127.2 289.9 125.1 288.4 124.5 286.9 124.5 286.3 123.9 286 122.4 285.4 121.6 285.2 120.9 284.2 119.4 282.8 117.9 281.8 116.4 281 113.9 279.5 114.6 278 114.9 276.9 113.5 276.8 112 277.2 109 275.9 106 276.5 105.7 278 106.2 279.5 105.4 280.2 104.6 281 103.4 282.4 102.8 282.8 103.1 285.4 103.6 286.4 103.1 286.9 102.4 288.4 102.2 289.9 102.2 291.3 101.5 292.8 101.7 294.3 101.6 295.8 101.1 297.3 100.1 298.8 100 303.2 100.7 304.7 101.9 309.2 102.1 310.6 103.6 312.1 104.1 312.8 104.6 313.7 106 314 107.5 315 109 316.3 110.5 315.7 113.5 314.8 116.4 315.3 117.9 315.3 119.4 314.5 120.9 314.2 123.9 313.8 125.3 313 126.8 312.7 128.3 310.6 131.3 309.2 132.1 308.6 132.8 306.2 133.9 303.2 133.8 301.7 133.3zM271.9 126.8L271 125.3 270.8 123.9 270.6 123.4 269.1 121.6 268.8 120.9 268.6 119.4 268.8 116.4 269.1 116.1 270.6 115.4 272.1 115.2 273.5 114.7 275 115.1 276.5 116.9 278 117.6 279.6 117.9 280 119.4 280 120.9 279.3 123.9 278 125.5 276.5 126 275 125.3 273.5 126.5 272.1 126.9zM297.3 143.3L297.8 143.1 297.3 142.8 296.9 143.1zM329.9 135.6L329.9 134.2 329.9 134 329.5 134.2z" clip-path="url(#p78ec001d5c)" style="fill: #fcb498; stroke: #fcb498; stroke-width: 0.35"/><path d="M265.9 150.6L265.1 149.1 264.6 148.8 264.6 151.6zM270.6 142.5L272.1 143.1 273.5 142.3 275 141.9 276.5 142 277.7 140.2 278.4 138.7 278.5 137.2 278.1 135.7 276.4 132.8 275.9 131.3 274.6 129.8 273.5 129.3 272.1 129.2 271 129.8 269.8 131.3 269.1 132.8 268.6 134.2 267.9 137.2 269.1 138.8 269.7 140.2 270.1 141.7zM301.7 133.3L303.2 133.8 306.2 133.9 308.6 132.8 309.2 132.1 310.6 131.3 312.7 128.3 313 126.8 313.8 125.3 314.2 123.9 314.5 120.9 315.3 119.4 315.3 117.9 314.8 116.4 315.7 113.5 316.3 110.5 315 109 314 107.5 313.7 106 312.8 104.6 312.1 104.1 310.6 103.6 309.2 102.1 304.7 101.9 303.2 100.7 298.8 100 297.3 100.1 295.8 101.1 294.3 101.6 292.8 101.7 291.3 101.5 289.9 102.2 288.4 102.2 286.9 102.4 286.4 103.1 285.4 103.6 282.8 103.1 282.4 102.8 281 103.4 280.2 104.6 279.5 105.4 278 106.2 276.5 105.7 275.9 106 277.2 109 276.8 112 276.9 113.5 278 114.9 279.5 114.6 281 113.9 281.8 116.4 282.8 117.9 284.2 119.4 285.2 120.9 285.4 121.6 286 122.4 286.3 123.9 286.9 124.5 288.4 124.5 289.9 125.1 291.3 127.2 293.5 129.8 294.3 130.5 295.8 131.4 300.3 132.4 300.8 132.8zM301.3 131.3L300.3 130.7 295.8 129.6 294.3 128.5 292.8 125.6 291.7 123.9 288.6 120.9 287.6 119.4 286.9 118.8 285.4 118.1 283.6 116.4 283.5 114.9 283.6 113.5 284.9 109 285.4 107.9 286.9 107.6 288.4 106.7 290.8 106 291.3 105.7 294.3 105.1 297.3 104.9 298.8 104.2 300.3 103.8 301.7 104.6 304.7 105.4 306.2 106.6 307.7 107.3 307.9 107.5 310.6 108.7 311.1 109 312 110.5 310.7 112 310.1 113.5 310.5 114.9 311.5 116.4 311.6 117.9 311.2 120.9 311.9 123.9 311 125.3 310.2 128.3 309.2 128.9 306.2 129.3 305.2 129.8 304.2 131.3 303.2 131.8 301.7 131.6zM288.4 118.3L288.6 117.9 288.4 117.7 288.1 117.9z" clip-path="url(#p78ec001d5c)" style="fill: #fc9676; stroke: #fc9676; stroke-width: 0.35"/><path d="M301.7 131.6L303.2 131.8 304.2 131.3 305.2 129.8 306.2 129.3 309.2 128.9 310.2 128.3 311 125.3 311.9 123.9 311.2 120.9 311.6 117.9 311.5 116.4 310.5 114.9 310.1 113.5 310.7 112 312 110.5 311.1 109 310.6 108.7 307.9 107.5 307.7 107.3 306.2 106.6 304.7 105.4 301.7 104.6 300.3 103.8 298.8 104.2 297.3 104.9 294.3 105.1 291.3 105.7 290.8 106 288.4 106.7 286.9 107.6 285.4 107.9 284.9 109 283.6 113.5 283.5 114.9 283.6 116.4 285.4 118.1 286.9 118.8 287.6 119.4 288.6 120.9 291.7 123.9 292.8 125.6 294.3 128.5 295.8 129.6 300.3 130.7 301.3 131.3zM299.1 128.3L297.3 126.8 296.7 125.3 296.7 123.9 295.6 122.4 294 120.9 292.8 119.4 291.9 116.4 291.5 112 292.1 110.5 293.7 109 294.3 108 294.8 107.5 295.8 107.2 298.8 107.2 301.7 107.7 303.2 108.4 304.7 110 306.2 110.6 307.1 112 307.8 113.5 308.5 116.4 309.3 117.9 309.5 119.4 309.2 120.2 308.5 120.9 307.9 122.4 308.8 125.3 308.2 126.8 307.7 127.2 304.7 126.9 303 128.3 301.7 129.1 300.3 128.8zM288.1 117.9L288.4 117.7 288.6 117.9 288.4 118.3z" clip-path="url(#p78ec001d5c)" style="fill: #fb7959; stroke: #fb7959; stroke-width: 0.35"/><path d="M300.3 128.8L301.7 129.1 303 128.3 304.7 126.9 307.7 127.2 308.2 126.8 308.8 125.3 307.9 122.4 308.5 120.9 309.2 120.2 309.5 119.4 309.3 117.9 308.5 116.4 307.8 113.5 307.1 112 306.2 110.6 304.7 110 303.2 108.4 301.7 107.7 298.8 107.2 295.8 107.2 294.8 107.5 294.3 108 293.7 109 292.1 110.5 291.5 112 291.9 116.4 292.8 119.4 294 120.9 295.6 122.4 296.7 123.9 296.7 125.3 297.3 126.8 299.1 128.3zM299.7 123.9L298.8 123.2 296.5 120.9 296.4 119.4 297.2 117.9 297 116.4 295.8 115.1 295.2 113.5 295.5 112 297.3 110.5 298.8 109.8 300.3 109.8 301.7 110.1 303.2 111.5 304.7 112.3 306.1 113.5 305.8 114.9 304.9 116.4 304.8 117.9 305.2 119.4 305.1 120.9 304.7 122.4 303.2 124.4 301.7 125.2 300.3 124.5z" clip-path="url(#p78ec001d5c)" style="fill: #f7593f; stroke: #f7593f; stroke-width: 0.35"/><path d="M300.3 124.5L301.7 125.2 303.2 124.4 304.7 122.4 305.1 120.9 305.2 119.4 304.8 117.9 304.9 116.4 305.8 114.9 306.1 113.5 304.7 112.3 303.2 111.5 301.7 110.1 300.3 109.8 298.8 109.8 297.3 110.5 295.5 112 295.2 113.5 295.8 115.1 297 116.4 297.2 117.9 296.4 119.4 296.5 120.9 298.8 123.2 299.7 123.9z" clip-path="url(#p78ec001d5c)" style="fill: #ec382b; stroke: #ec382b; stroke-width: 0.35"/><path clip-path="url(#p78ec001d5c)" style="fill: #d21e20; stroke: #d21e20; stroke-width: 0.35"/><path clip-path="url(#p78ec001d5c)" style="fill: #b61319; stroke: #b61319; stroke-width: 0.35"/><path clip-path="url(#p78ec001d5c)" style="fill: #940b13; stroke: #940b13; stroke-width: 0.35"/><path clip-path="url(#p78ec001d5c)" style="fill: #67000d; stroke: #67000d; stroke-width: 0.35"/></g><g id="QuadContourSet_11"><path d="M287.2 159.7L288.5 161 329.9 161 329.9 114.5 324.9 109.5 322.4 109.5 318.6 113.2 318.6 115.7 321.2 118.3 321.2 125.8 318.6 128.3 318.6 133.3 314.9 137.1 312.4 134.6 302.3 134.6 299.8 132.1 294.8 132.1 293.5 130.8 293.5 128.3 289.8 124.5 287.2 124.5 281 130.8 281 133.3 283.5 135.8 283.5 138.4 284.7 139.6 289.8 139.6 293.5 143.4 293.5 145.9 286 153.4 286 158.5zM313.6 150.9L314.9 149.7 316.1 150.9 314.9 152.2zM287.2 101.9L288.5 100.7 287.2 99.4 286 100.7z" clip-path="url(#p78ec001d5c)" style="fill: url(#htch)"/></g><g id="patch_36"><path d="M297.29 159.41 C 305.54 159.41 313.45 156.13 319.28 150.3 C 325.11 144.47 328.39 136.55 328.39 128.3 C 328.39 120.06 325.11 112.14 319.28 106.31 C 313.45 100.48 305.54 97.2 297.29 97.2 C 289.04 97.2 281.13 100.48 275.29 106.31 C 269.46 112.14 266.18 120.06 266.18 128.3 C 266.18 136.55 269.46 144.47 275.29 150.3 C 281.13 156.13 289.04 159.41 297.29 159.41L297.29 159.41z" clip-path="url(#p7c982bd4c5)" style="fill: none; stroke: #333333; stroke-width: 0.55; stroke-linejoin: miter"/></g><g id="patch_37"><path d="M315.6 126.7L319.4 128.3 315.6 129.9z" clip-path="url(#p7c982bd4c5)"/></g><g id="line2d_23"><path d="M297.3 128.3L316.6 128.3" clip-path="url(#p7c982bd4c5)" style="fill: none; stroke: #000000; stroke-opacity: 0.8; stroke-width: 0.75"/></g></g><g id="axes_12"><g id="patch_38"><path d="M330.4 157.3L334.2 157.3 334.2 99.3 330.4 99.3z" style="fill: #ffffff"/></g><g id="patch_39"><path d="M330.4 157.3L332.3 160.2 334.2 157.3" style="fill: #fff5f0"/></g><g id="patch_40"><path d="M330.4 99.3L332.3 96.4 334.2 99.3" style="fill: #67000d"/></g><g id="QuadMesh_4"><path d="M330.4 157.3L334.2 157.3 334.2 151.5 330.4 151.5 330.4 157.3" clip-path="url(#pfae810ea3e)" style="fill: #fee6da"/><path d="M330.4 151.5L334.2 151.5 334.2 145.7 330.4 145.7 330.4 151.5" clip-path="url(#pfae810ea3e)" style="fill: #fdcfbc"/><path d="M330.4 145.7L334.2 145.7 334.2 139.9 330.4 139.9 330.4 145.7" clip-path="url(#pfae810ea3e)" style="fill: #fcb498"/><path d="M330.4 139.9L334.2 139.9 334.2 134.1 330.4 134.1 330.4 139.9" clip-path="url(#pfae810ea3e)" style="fill: #fc9676"/><path d="M330.4 134.1L334.2 134.1 334.2 128.3 330.4 128.3 330.4 134.1" clip-path="url(#pfae810ea3e)" style="fill: #fb7959"/><path d="M330.4 128.3L334.2 128.3 334.2 122.5 330.4 122.5 330.4 128.3" clip-path="url(#pfae810ea3e)" style="fill: #f7593f"/><path d="M330.4 122.5L334.2 122.5 334.2 116.7 330.4 116.7 330.4 122.5" clip-path="url(#pfae810ea3e)" style="fill: #ec382b"/><path d="M330.4 116.7L334.2 116.7 334.2 110.9 330.4 110.9 330.4 116.7" clip-path="url(#pfae810ea3e)" style="fill: #d21e20"/><path d="M330.4 110.9L334.2 110.9 334.2 105.1 330.4 105.1 330.4 110.9" clip-path="url(#pfae810ea3e)" style="fill: #b61319"/><path d="M330.4 105.1L334.2 105.1 334.2 99.3 330.4 99.3 330.4 105.1" clip-path="url(#pfae810ea3e)" style="fill: #940b13"/></g><g id="matplotlib.axis_7"/><g id="matplotlib.axis_8"><g id="ytick_16"><g id="line2d_24"><g><use xlink:href="#mb71b77dcba" x="334.15" y="157.32" style="fill: #333333; stroke: #333333; stroke-width: 0.5"/></g></g><g id="text_16"><text style="font-size: 5.3px; font-family: 'Liberation Sans'; text-anchor: start; fill: #222222" x="336.65" y="159.24" transform="rotate(-0 336.652 159.240422)">0.0</text></g></g><g id="ytick_17"><g id="line2d_25"><g><use xlink:href="#mb71b77dcba" x="334.15" y="139.91" style="fill: #333333; stroke: #333333; stroke-width: 0.5"/></g></g><g id="text_17"><text style="font-size: 5.3px; font-family: 'Liberation Sans'; text-anchor: start; fill: #222222" x="336.65" y="141.83" transform="rotate(-0 336.652 141.830822)">0.3</text></g></g><g id="ytick_18"><g id="line2d_26"><g><use xlink:href="#mb71b77dcba" x="334.15" y="122.5" style="fill: #333333; stroke: #333333; stroke-width: 0.5"/></g></g><g id="text_18"><text style="font-size: 5.3px; font-family: 'Liberation Sans'; text-anchor: start; fill: #222222" x="336.65" y="124.42" transform="rotate(-0 336.652 124.421222)">0.6</text></g></g><g id="ytick_19"><g id="line2d_27"><g><use xlink:href="#mb71b77dcba" x="334.15" y="105.09" style="fill: #333333; stroke: #333333; stroke-width: 0.5"/></g></g><g id="text_19"><text style="font-size: 5.3px; font-family: 'Liberation Sans'; text-anchor: start; fill: #222222" x="336.65" y="107.01" transform="rotate(-0 336.652 107.011622)">0.9</text></g></g></g><g id="LineCollection_4"/><g id="patch_41"><path d="M330.4 157.3L332.3 160.2 334.2 157.3 334.2 99.3 332.3 96.4 330.4 99.3 330.4 157.3z" style="fill: none; stroke: #666666; stroke-width: 0.4; stroke-linejoin: miter; stroke-linecap: square"/></g></g><g id="axes_13"><g id="patch_42"><path d="M58.1 228.74 C 66.35 228.74 74.27 225.47 80.1 219.63 C 85.93 213.8 89.21 205.89 89.21 197.64 C 89.21 189.39 85.93 181.48 80.1 175.65 C 74.27 169.81 66.35 166.54 58.1 166.54 C 49.86 166.54 41.94 169.81 36.11 175.65 C 30.28 181.48 27 189.39 27 197.64 C 27 205.89 30.28 213.8 36.11 219.63 C 41.94 225.47 49.86 228.74 58.1 228.74L58.1 228.74z" clip-path="url(#pba03cb0454)" style="fill: none"/></g><g id="QuadContourSet_12"><path clip-path="url(#pf8558dba9d)" style="fill: #00224e; stroke: #00224e; stroke-width: 0.35"/><path d="M59.3 230.3L90.8 230.3 90.8 165 40.6 165 41.3 170.3 41.8 172.1 43.2 174.5 45 176.6 46.8 177.6 56.9 180.4 62.3 182.2 63.4 182.9 64.4 184 65.8 186.5 66.5 188.1 67.1 190.5 67.7 194.7 69.5 201.2 69.5 203 69 206.5 68 211.3 67.1 214.3 64.4 220.2 59.8 228.5 59.2 230.3z" clip-path="url(#pf8558dba9d)" style="fill: #123570; stroke: #123570; stroke-width: 0.35"/><path d="M26 230.3L59.2 230.3 59.8 228.5 64.4 220.2 66.5 215.5 67.5 213.1 68.3 210.1 69.5 203 69.5 201.2 67.7 194.7 67.1 190.5 66.5 188.1 66 187 64.8 184.6 63.4 182.9 61.7 181.9 56.9 180.4 46.8 177.6 45 176.6 43.2 174.5 41.8 172.1 41.3 170.3 40.6 165 25.4 165 25.4 190.8 29 190.7 35.5 189.6 48 189.5 51 189.8 57.5 191.3 58.7 191.8 59.9 192.4 62.7 194.7 63.7 195.9 64.3 197 64.5 198.2 64.6 200 64.4 201.8 63.8 203 62.4 204.8 60.5 206.7 58.7 208 57.5 208.6 55.7 209.2 49.2 211 46.2 211.1 35.5 211 25.4 209.3 25.4 230.3z" clip-path="url(#pf8558dba9d)" style="fill: #3b496c; stroke: #3b496c; stroke-width: 0.35"/><path d="M33.8 210.8L36.7 211 48.6 211 53.9 209.7 57.5 208.6 58.7 208 60.5 206.7 62.4 204.8 63.8 203 64.4 201.8 64.6 200 64.5 197.6 64.1 196.5 63.3 195.3 62.3 194.3 59.9 192.4 58.7 191.8 55.1 190.7 49.8 189.6 46.8 189.5 36.1 189.6 34.4 189.8 29 190.7 25.4 190.8 25.4 195.6 27.8 195.5 29.6 195.3 35.5 193.1 37.3 192.6 43.3 192 49.2 192 52.2 192.5 58.1 193.9 59.3 194.5 60.5 195.4 61.6 196.5 62.4 197.6 62.8 199.4 62.6 201.2 61.7 203 59.9 204.9 58.1 206.1 56.3 206.8 49.2 208.4 47.4 208.6 45 208.5 36.1 207.4 34.4 206.7 30.2 204.2 29 203.7 27.8 203.4 25.4 203.3 25.4 209.3 27.2 209.5 33.5 210.7z" clip-path="url(#pf8558dba9d)" style="fill: #575d6d; stroke: #575d6d; stroke-width: 0.35"/><path d="M43.9 208.4L46.8 208.6 49.8 208.3 56.3 206.8 58.7 205.7 59.9 204.9 61.1 203.7 62.3 201.8 62.7 200.6 62.8 199.4 62.6 198.2 62.1 197 61.1 195.9 59.9 194.9 58.1 193.9 51.6 192.3 48.6 192 43.3 192 37.3 192.6 35.5 193.1 29.6 195.3 27.8 195.5 25.4 195.6 25.4 203.3 27.8 203.4 29 203.7 30.2 204.2 34.4 206.7 35.5 207.2 39.7 207.9 43.4 208.3zM42 206L36.7 204.9 34.9 204.1 33.6 203 32.2 201.2 31.8 200 31.9 199.4 32.2 198.8 33.2 198 34.7 197 36.7 195.9 38.3 195.3 42.7 194.5 49.8 194.1 51.6 194.2 55.1 194.8 58.1 195.6 59.3 196.3 60.2 197 60.7 197.6 61.3 198.8 61.4 200.6 60.6 202.4 59.3 203.8 58.1 204.6 56.9 205.1 54.5 205.7 49.2 206.3 45 206.3 42.1 206z" clip-path="url(#pf8558dba9d)" style="fill: #707173; stroke: #707173; stroke-width: 0.35"/><path d="M42.1 206L45 206.3 49.2 206.3 54.5 205.7 56.9 205.1 58.1 204.6 59.3 203.8 60.6 202.4 61.4 200.6 61.3 198.8 60.7 197.6 60.2 197 59.3 196.3 58.1 195.6 55.1 194.8 51.6 194.2 49.8 194.1 42.7 194.5 38.3 195.3 36.7 195.9 34.7 197 33.2 198 32.2 198.8 31.9 199.4 31.8 200 32.2 201.2 33.6 203 34.9 204.1 36.7 204.9 42 206zM42.7 204.2L39.9 203 38 201.8 37.5 201.2 37.2 200.6 37.3 200 37.6 199.4 39.4 198.2 42.1 197.1 46.8 196.1 51 195.6 54.5 195.9 56.9 196.4 58.7 197.2 59.7 198.2 60 198.8 60.3 200 60 201.2 59.6 201.8 58.6 203 56.9 203.9 54.5 204.4 51 204.7 45.6 204.6 43.3 204.3z" clip-path="url(#pf8558dba9d)" style="fill: #8a8678; stroke: #8a8678; stroke-width: 0.35"/><path d="M43.3 204.3L45.6 204.6 51 204.7 54.5 204.4 56.9 203.9 58.6 203 59.6 201.8 60 201.2 60.3 200 60 198.8 59.7 198.2 58.7 197.2 56.9 196.4 54.5 195.9 51 195.6 46.8 196.1 42.1 197.1 39.4 198.2 37.6 199.4 37.3 200 37.2 200.6 37.5 201.2 38 201.8 39.9 203 42.7 204.2zM46.1 203L44.4 202.6 43.3 202.1 42.2 201.2 42 200.6 42.3 200 43.1 199.4 45.6 198.2 47.4 197.6 51 196.8 53.4 196.8 55.1 197 57.5 197.7 58.2 198.2 58.7 198.8 59 199.4 58.9 200.6 58.2 201.8 57.5 202.4 56.1 203 53.9 203.3 51.6 203.4 49.2 203.3 46.2 203z" clip-path="url(#pf8558dba9d)" style="fill: #a59c74; stroke: #a59c74; stroke-width: 0.35"/><path d="M46.2 203L49.2 203.3 51.6 203.4 53.9 203.3 56.1 203 57.5 202.4 58.2 201.8 58.9 200.6 59 199.4 58.7 198.8 58.2 198.2 57.5 197.7 55.1 197 53.4 196.8 51 196.8 47.4 197.6 45.6 198.2 43.1 199.4 42.3 200 42 200.6 42.2 201.2 43.3 202.1 44.4 202.6 46.1 203zM49.7 201.8L47.8 201.2 47.2 200.6 47.3 200 47.8 199.4 49 198.8 51.6 198.2 53.9 198.2 55.1 198.3 56.3 198.7 57.1 199.4 57.3 200 57.1 200.6 56.5 201.2 55.7 201.6 54.9 201.8 53.4 201.9 49.8 201.8z" clip-path="url(#pf8558dba9d)" style="fill: #c3b369; stroke: #c3b369; stroke-width: 0.35"/><path d="M49.8 201.8L53.4 201.9 54.9 201.8 55.7 201.6 56.5 201.2 57.1 200.6 57.3 200 57.1 199.4 56.3 198.7 55.1 198.3 53.9 198.2 51.6 198.2 49 198.8 47.8 199.4 47.3 200 47.2 200.6 47.8 201.2 49.7 201.8z" clip-path="url(#pf8558dba9d)" style="fill: #e1cc55; stroke: #e1cc55; stroke-width: 0.35"/><path clip-path="url(#pf8558dba9d)" style="fill: #fee838; stroke: #fee838; stroke-width: 0.35"/></g><g id="patch_43"><path d="M58.1 228.74 C 66.35 228.74 74.27 225.47 80.1 219.63 C 85.93 213.8 89.21 205.89 89.21 197.64 C 89.21 189.39 85.93 181.48 80.1 175.65 C 74.27 169.81 66.35 166.54 58.1 166.54 C 49.86 166.54 41.94 169.81 36.11 175.65 C 30.28 181.48 27 189.39 27 197.64 C 27 205.89 30.28 213.8 36.11 219.63 C 41.94 225.47 49.86 228.74 58.1 228.74L58.1 228.74z" clip-path="url(#pba03cb0454)" style="fill: none; stroke: #333333; stroke-width: 0.55; stroke-linejoin: miter"/></g><g id="patch_44"><path d="M76.5 196.1L80.2 197.6 76.5 199.2z" clip-path="url(#pba03cb0454)"/></g><g id="line2d_28"><path d="M58.1 197.6L77.4 197.6" clip-path="url(#pba03cb0454)" style="fill: none; stroke: #000000; stroke-opacity: 0.8; stroke-width: 0.75"/></g></g><g id="axes_14"><g id="patch_45"><path d="M19.4 226.7L23.3 226.7 23.3 168.6 19.4 168.6z" style="fill: #ffffff"/></g><g id="patch_46"><path d="M19.4 226.7L21.4 229.6 23.3 226.7" style="fill: #00224e"/></g><g id="patch_47"><path d="M19.4 168.6L21.4 165.7 23.3 168.6" style="fill: #fee838"/></g><g id="QuadMesh_5"><path d="M19.4 226.7L23.3 226.7 23.3 219.4 19.4 219.4 19.4 226.7" clip-path="url(#pba5d4cb60f)" style="fill: #123570"/><path d="M19.4 219.4L23.3 219.4 23.3 212.1 19.4 212.1 19.4 219.4" clip-path="url(#pba5d4cb60f)" style="fill: #3b496c"/><path d="M19.4 212.1L23.3 212.1 23.3 204.9 19.4 204.9 19.4 212.1" clip-path="url(#pba5d4cb60f)" style="fill: #575d6d"/><path d="M19.4 204.9L23.3 204.9 23.3 197.6 19.4 197.6 19.4 204.9" clip-path="url(#pba5d4cb60f)" style="fill: #707173"/><path d="M19.4 197.6L23.3 197.6 23.3 190.4 19.4 190.4 19.4 197.6" clip-path="url(#pba5d4cb60f)" style="fill: #8a8678"/><path d="M19.4 190.4L23.3 190.4 23.3 183.1 19.4 183.1 19.4 190.4" clip-path="url(#pba5d4cb60f)" style="fill: #a59c74"/><path d="M19.4 183.1L23.3 183.1 23.3 175.9 19.4 175.9 19.4 183.1" clip-path="url(#pba5d4cb60f)" style="fill: #c3b369"/><path d="M19.4 175.9L23.3 175.9 23.3 168.6 19.4 168.6 19.4 175.9" clip-path="url(#pba5d4cb60f)" style="fill: #e1cc55"/></g><g id="matplotlib.axis_9"/><g id="matplotlib.axis_10"><g id="ytick_20"><g id="line2d_29"><g><use xlink:href="#m5957307a2c" x="19.44" y="226.66" style="fill: #333333; stroke: #333333; stroke-width: 0.5"/></g></g><g id="text_20"><text style="font-size: 5.3px; font-family: 'Liberation Sans'; text-anchor: end; fill: #222222" x="17.14" y="228.58" transform="rotate(-0 17.14 228.576422)">0</text></g></g><g id="ytick_21"><g id="line2d_30"><g><use xlink:href="#m5957307a2c" x="19.44" y="212.15" style="fill: #333333; stroke: #333333; stroke-width: 0.5"/></g></g><g id="text_21"><text style="font-size: 5.3px; font-family: 'Liberation Sans'; text-anchor: end; fill: #222222" x="17.14" y="214.07" transform="rotate(-0 17.14 214.068422)">20</text></g></g><g id="ytick_22"><g id="line2d_31"><g><use xlink:href="#m5957307a2c" x="19.44" y="197.64" style="fill: #333333; stroke: #333333; stroke-width: 0.5"/></g></g><g id="text_22"><text style="font-size: 5.3px; font-family: 'Liberation Sans'; text-anchor: end; fill: #222222" x="17.14" y="199.56" transform="rotate(-0 17.14 199.560422)">40</text></g></g><g id="ytick_23"><g id="line2d_32"><g><use xlink:href="#m5957307a2c" x="19.44" y="183.13" style="fill: #333333; stroke: #333333; stroke-width: 0.5"/></g></g><g id="text_23"><text style="font-size: 5.3px; font-family: 'Liberation Sans'; text-anchor: end; fill: #222222" x="17.14" y="185.05" transform="rotate(-0 17.14 185.052422)">60</text></g></g><g id="ytick_24"><g id="line2d_33"><g><use xlink:href="#m5957307a2c" x="19.44" y="168.62" style="fill: #333333; stroke: #333333; stroke-width: 0.5"/></g></g><g id="text_24"><text style="font-size: 5.3px; font-family: 'Liberation Sans'; text-anchor: end; fill: #222222" x="17.14" y="170.54" transform="rotate(-0 17.14 170.544422)">80</text></g></g></g><g id="LineCollection_5"/><g id="patch_48"><path d="M19.4 226.7L21.4 229.6 23.3 226.7 23.3 168.6 21.4 165.7 19.4 168.6 19.4 226.7z" style="fill: none; stroke: #666666; stroke-width: 0.4; stroke-linejoin: miter; stroke-linecap: square"/></g></g><g id="axes_15"><g id="patch_49"><path d="M133.34 228.74 C 141.59 228.74 149.51 225.47 155.34 219.63 C 161.17 213.8 164.45 205.89 164.45 197.64 C 164.45 189.39 161.17 181.48 155.34 175.65 C 149.51 169.81 141.59 166.54 133.34 166.54 C 125.1 166.54 117.18 169.81 111.35 175.65 C 105.52 181.48 102.24 189.39 102.24 197.64 C 102.24 205.89 105.52 213.8 111.35 219.63 C 117.18 225.47 125.1 228.74 133.34 228.74L133.34 228.74z" clip-path="url(#p8eb6d952cb)" style="fill: none"/></g><g id="QuadContourSet_13"><path clip-path="url(#pe7a8898d36)" style="fill: #fff5f0; stroke: #fff5f0; stroke-width: 0.35"/><path d="M154.1 195.1L155.6 195.5 157.1 195.3 157.6 194.7 157.8 193.2 157.1 192.3 155.6 192.6 154.7 193.2 153.7 194.7z" clip-path="url(#pe7a8898d36)" style="fill: #feebe1; stroke: #feebe1; stroke-width: 0.35"/><path d="M161.5 227L163 227.1 163.8 225.8 163 225.4 161.5 225.7 161.4 225.8zM152.6 224.8L153.2 224.4 152.6 224.1 152.2 224.4zM160.1 222.3L161.4 221.4 160.1 220.4 159 221.4zM158.6 216L159.2 215.5 158.6 214.8 157.9 215.5zM164.5 214.3L164.7 214 164.5 213.6 164 214zM146.7 208L148.2 208.3 149.6 206.5 148.2 205.7 146.7 205.8 146.3 206.5 146.7 208zM154.1 205.1L155.6 204.8 157 203.6 157.2 202.1 157.1 201.9 153.2 200.6 153.2 199.1 153.7 197.6 154.1 197.4 155.6 197.3 156.3 197.6 157.1 198.9 158.6 198.7 161.5 196.2 161.6 194.7 160.7 193.2 160.5 191.7 159.8 190.2 158.6 189.1 157.1 189.5 155.6 189.5 154.6 187.2 154.1 186.7 153.4 187.2 152.3 188.7 151.7 190.2 152 191.7 151.2 193.3 149.7 192.8 148.2 190.6 147.8 191.7 147.8 194.7 146.9 196.2 146.7 197.6 148.2 201.2 149.7 201.9 150.4 202.1 151.2 202.5 151.9 203.6 154.1 205.1zM153.7 194.7L154.7 193.2 155.6 192.6 157.1 192.3 157.8 193.2 157.6 194.7 157.1 195.3 155.6 195.5 154.1 195.1zM160.1 205.3L160.6 205.1 160.1 204.9 159.7 205.1zM148.2 190L149.6 188.7 148.2 187.9 147 188.7zM114 188L115.5 188 116 187.2 116.2 185.8 115.6 184.3 114 184.4 112.9 185.8 113.2 187.2zM145.2 186.4L145.5 185.8 145.2 184.7 144.9 185.8zM143.7 183.2L144.3 182.8 144 181.3 143.7 180.8 143.3 181.3 143.4 182.8zM125.9 177.8L127.4 177.4 127.8 176.9 127.4 176.1 125.9 176.2 125.5 176.9zM151.2 176.4L151.3 175.4 151.2 175.3 151.1 175.4zM136.3 175.2L136.7 173.9 136.3 173.3 135.9 173.9z" clip-path="url(#pe7a8898d36)" style="fill: #fee0d2; stroke: #fee0d2; stroke-width: 0.35"/><path d="M105.1 230.3L105.4 230.3 105.1 230 105 230.3zM131.9 230.3L136.1 230.3 134.8 229.4 133.5 227.3 133.3 226.7 133.1 227.3 131.9 228.5 131.1 230.3zM148.2 230.3L154.9 230.3 155.6 230.1 155.8 230.3 161.3 230.3 161.5 229.9 163 229.7 163.6 230.3 166 230.3 166 225.7 163.6 224.4 162.6 222.9 163 222.5 164.5 222.2 165.4 221.4 166 220.5 165.9 218.4 164.9 216.9 166 215.2 166 211.3 165.4 211 164.5 210.1 163.4 209.5 163.9 208 166 206.8 166 203.5 165.1 202.1 165.3 200.6 164.5 199.6 163 198.9 162.1 197.6 163.1 196.2 163.8 194.7 163 194 161.4 190.2 161.4 188.7 161.5 188.3 163.1 187.2 163.3 185.8 164.1 184.3 164.3 182.8 163.7 181.3 163 179.9 161.5 181.1 161.4 181.3 162 184.3 161.5 185.5 160.1 185.3 158.2 185.8 157.1 186.9 156 185.8 153.8 184.3 153.3 182.8 154.1 181.7 155.6 180.3 156.4 181.3 157.1 181.8 158.4 181.3 159 179.8 158.6 179.4 155.6 178.7 154.4 176.9 153.7 175.4 152.8 173.9 151.2 173 150.4 173.9 149.7 174.4 148.2 174.3 146.7 174.6 143.7 175.9 142.3 176.3 141.2 176.9 141.1 179.8 140.8 180.5 140 181.3 140.8 182.9 142.5 184.3 142.9 185.8 142.3 187.1 141.2 187.2 139.3 188.5 136.3 186.4 134.8 185.9 133.3 187.6 132.9 187.2 131.9 186.8 130.4 185.7 128.9 186.7 127.4 186.2 126.6 187.2 125.7 188.7 126 190.2 127.4 191.2 128.9 190.8 130.4 191.8 131.9 192.3 132.9 191.7 133.3 191 134.8 191.2 136.3 191.6 137.8 191.7 138.8 190.2 139.3 189 140.8 189.2 141.5 188.7 142.3 187.9 143.7 188.4 144.2 188.7 145.9 191.7 146.4 193.2 144.9 196.2 145.1 197.6 145.8 199.1 146.3 200.6 146.2 202.1 145.9 203.6 145.1 205.1 141.7 209.5 140.8 210.2 138.7 211 137.1 212.5 137.6 214 135.8 216.9 136.1 218.4 135.5 221.4 136.6 224.4 137.5 225.8 137.8 226 139.3 225 140.8 224.8 142.3 225.8 143.7 226.4 145.2 226.1 147.1 227.3 148.1 230.3zM161.4 225.8L161.5 225.7 163 225.4 163.8 225.8 163 227.1 161.5 227zM152.2 224.4L152.6 224.1 153.2 224.4 152.6 224.8zM144.6 222.9L145.2 221.3 146.7 221.7 147.8 222.9 146.7 223.6 145.2 223.5zM154 221.4L154.1 220.7 154.3 221.4 154.1 221.5zM159 221.4L160.1 220.4 161.4 221.4 160.1 222.3zM141.6 218.4L142.3 216.8 142.9 218.4 142.3 219.1zM152.9 218.4L154.1 217.8 155.4 218.4 154.1 219.7zM157.9 215.5L158.6 214.8 159.2 215.5 158.6 216zM164 214L164.5 213.6 164.7 214 164.5 214.3zM159.7 212.5L159.6 211 158.5 209.5 159.1 208 160.1 207.7 161.1 208 161.5 209 162.2 209.5 162.7 211 161.5 212.9 160.1 212.9zM149.1 211L149.5 209.5 149.7 209.4 151.2 209 152 209.5 152 211 151.2 211.5 149.7 211.5zM146.7 208L146.3 206.5 146.7 205.8 148.2 205.7 149.6 206.5 148.2 208.3 146.7 208zM154.1 205.1L151.9 203.6 151.2 202.5 150.4 202.1 149.7 201.9 148.2 201.2 146.7 197.6 146.9 196.2 147.8 194.7 147.8 191.7 148.2 190.6 149.7 192.8 151.2 193.3 152 191.7 151.7 190.2 152.3 188.7 153.4 187.2 154.1 186.7 154.6 187.2 155.6 189.5 157.1 189.5 158.6 189.1 159.8 190.2 160.5 191.7 160.7 193.2 161.6 194.7 161.5 196.2 158.6 198.7 157.1 198.9 156.3 197.6 155.6 197.3 154.1 197.4 153.7 197.6 153.2 199.1 153.2 200.6 157.1 201.9 157.2 202.1 157 203.6 155.6 204.8 154.1 205.1zM159.7 205.1L160.1 204.9 160.6 205.1 160.1 205.3zM147 188.7L148.2 187.9 149.6 188.7 148.2 190zM144.9 185.8L145.2 184.7 145.5 185.8 145.2 186.4zM147.5 185.8L147.2 184.3 148.2 183.5 149.1 184.3 149.2 185.8 148.2 186.3zM143.4 182.8L143.3 181.3 143.7 180.8 144 181.3 144.3 182.8 143.7 183.2zM150.9 181.3L151.2 180.5 151.4 181.3 151.2 181.6zM146.5 179.8L146.7 179.1 147 179.8 146.7 180.1zM151.1 175.4L151.2 175.3 151.3 175.4 151.2 176.4zM102.2 225.2L103.7 225.1 104 224.4 102.9 222.9 103.4 221.4 103.7 221.1 105.1 220.4 105.8 219.9 105.8 218.4 105.1 218 103.7 218.2 100.7 219.2 100.7 223.6 101.6 224.4zM101.4 200.6L101.9 197.6 102.2 197.5 102.5 196.2 102.2 195.1 100.7 195.7 100.7 201.9zM114 194.7L114.3 194.7 114 194.4 113.3 194.7zM136.3 194.7L136.5 194.7 137.4 193.2 136.3 191.9 134.8 193.2 136.1 194.7zM166 193.3L166 193.2 166 193 165.9 193.2zM106.6 189.7L108.1 189.4 109.6 188.2 111.1 188.3 112.4 188.7 114 190 115.5 190 117 189.3 118.5 189.3 120 188.7 118.5 187.5 117.8 185.8 117.7 184.3 118.2 182.8 118 181.3 117.2 179.8 115.3 178.3 114 176.8 112.6 177.5 111.1 178.8 109.3 179.8 108.4 181.3 109.6 182.2 111.5 182.8 111.5 184.3 111.1 184.9 109.6 185.4 106.6 183.3 105.8 184.3 106.1 188.7zM113.2 187.2L112.9 185.8 114 184.4 115.6 184.3 116.2 185.8 116 187.2 115.5 188 114 188zM123 181.8L124.4 181.8 125.9 181.4 127.4 181.5 128.9 180.9 130.4 179.8 131.9 179.6 133.3 179.2 134.8 177.5 137.8 176.6 138.6 175.4 138.4 173.9 137.6 172.4 136.3 171.3 133.3 170 130.4 170.3 128.9 170.1 127.4 171.2 124.4 170 123.8 170.9 123 172.6 119.6 173.9 120 175.1 120.3 175.4 121.5 175.5 121.7 175.4 123 174.1 123.8 175.4 123.8 176.9 124.3 178.3 123.8 179.8 123 180.3 121.8 181.3zM125.5 176.9L125.9 176.2 127.4 176.1 127.8 176.9 127.4 177.4 125.9 177.8zM130 175.4L130.4 174.8 131.9 173.6 133.4 173.9 133.7 175.4 133.3 175.8 131.9 176.8 130.4 176.2zM135.9 173.9L136.3 173.3 136.7 173.9 136.3 175.2zM163 177.4L164.5 177.3 166 176.7 166 171.8 165.2 172.4 164.4 173.9 163 174.3 161.2 175.4 161.5 176.3 162.1 176.9zM102.2 171.4L104.9 170.9 103.7 169.8 103.5 169.4 102.2 168.7 101.3 167.9 100.7 167.7 100.7 171.9zM108.1 171L108.5 170.9 108.5 169.4 108.1 169.1 107.7 169.4 107.8 170.9zM151.2 171.5L152.6 171.1 153.9 169.4 152.6 168.4 151 169.4 150.7 170.9zM112.6 168.2L114.1 167.9 112.6 167.3 112.3 167.9zM108.1 166.5L109.6 166.5 111.1 167.2 112.2 166.5 111.1 166 109.6 166 109.5 165 104.5 165 105.1 165.7 108 166.5zM145.2 166.4L145.7 165 145.2 165 144.9 165z" clip-path="url(#pe7a8898d36)" style="fill: #fdceba; stroke: #fdceba; stroke-width: 0.35"/><path d="M102.2 230.3L105 230.3 105.1 230 105.4 230.3 115 230.3 115.5 229.2 117 228.8 117.8 230.3 128 230.3 128.9 229.3 129.1 230.3 131.1 230.3 131.9 228.5 133.1 227.3 133.3 226.7 133.5 227.3 134.8 229.4 136.1 230.3 138.5 230.3 139.3 228.7 140.8 229.3 141.2 230.3 143.8 230.3 145.2 228.9 146.3 230.3 148.1 230.3 147.1 227.3 145.2 226.1 143.7 226.4 142.3 225.8 140.8 224.8 139.3 225 137.8 226 137.5 225.8 136.6 224.4 135.5 221.4 136.1 218.4 135.8 216.9 137.6 214 137.1 212.5 138.7 211 140.8 210.2 141.7 209.5 145.1 205.1 145.9 203.6 146.2 202.1 146.3 200.6 145.8 199.1 145.1 197.6 144.9 196.2 146.4 193.2 145.9 191.7 144.2 188.7 143.7 188.4 142.3 187.9 141.5 188.7 140.8 189.2 139.3 189 138.8 190.2 137.8 191.7 136.3 191.6 134.8 191.2 133.3 191 132.9 191.7 131.9 192.3 130.4 191.8 128.9 190.8 127.4 191.2 126 190.2 125.7 188.7 126.6 187.2 127.4 186.2 128.9 186.7 130.4 185.7 131.9 186.8 132.9 187.2 133.3 187.6 134.8 185.9 136.3 186.4 139.3 188.5 141.2 187.2 142.3 187.1 142.9 185.8 142.5 184.3 140.8 182.9 140 181.3 140.8 180.5 141.1 179.8 141.2 176.9 142.3 176.3 143.7 175.9 146.7 174.6 148.2 174.3 149.7 174.4 150.4 173.9 151.2 173 152.8 173.9 153.7 175.4 154.4 176.9 155.6 178.7 158.6 179.4 159 179.8 158.4 181.3 157.1 181.8 156.4 181.3 155.6 180.3 154.1 181.7 153.3 182.8 153.8 184.3 156 185.8 157.1 186.9 158.2 185.8 160.1 185.3 161.5 185.5 162 184.3 161.4 181.3 161.5 181.1 163 179.9 163.7 181.3 164.3 182.8 164.1 184.3 163.3 185.8 163.1 187.2 161.5 188.3 161.4 188.7 161.4 190.2 163 194 163.8 194.7 163.1 196.2 162.1 197.6 163 198.9 164.5 199.6 165.3 200.6 165.1 202.1 166 203.5 166 193.3 165.9 193.2 166 193 166 190.3 164.5 191.3 163 190.7 162.8 190.2 163 189.6 164.5 188.9 166 188.7 166 176.7 164.5 177.3 163 177.4 162.1 176.9 161.5 176.3 161.2 175.4 163 174.3 164.4 173.9 165.2 172.4 166 171.8 166 169.5 164.5 169.7 163.3 170.9 163 171.8 162.5 172.4 161.5 173 160.8 172.4 162.2 170.9 163 169.4 163 167.9 161.5 166.6 159.3 165 156.3 165 156.1 166.5 155.6 166.9 153.3 166.5 152.6 166.1 151.6 166.5 150.7 166.5 151.2 166 151.5 165 150.5 165 149.7 165.8 149.3 165 145.7 165 145.2 166.4 144.9 165 142.6 165 142.3 165.9 140.8 166.2 139.3 165 128.1 165 127.4 166.6 125.9 166.2 124.4 165.3 124.3 165 119.3 165 118.5 165.7 117 165 114.5 165 114 165.1 113.5 165 109.5 165 109.6 166 111.1 166 112.2 166.5 111.1 167.2 109.6 166.5 108.1 166.5 105.1 165.7 104.5 165 102.8 165 102.2 166.3 100.7 166.6 100.7 167.7 101.3 167.9 102.2 168.7 103.5 169.4 103.7 169.8 104.9 170.9 102.2 171.4 100.7 171.9 100.7 173.5 102.2 173.2 103 173.9 103.7 174.8 108.1 175.8 109 176.9 108.6 178.3 108.1 178.7 106.6 179.1 105.1 179.3 104 178.3 103.7 176.5 102.2 175.8 100.7 175.7 100.7 181.6 103.7 183.7 103.9 184.3 104 187.2 104.2 188.7 103.7 189.7 101.3 188.7 102.2 187.9 102.6 187.2 102.2 186.9 100.7 186.4 100.7 195.7 102.2 195.1 102.5 196.2 102.2 197.5 101.9 197.6 101.4 200.6 100.7 201.9 100.7 204.4 101.3 205.1 100.7 206.5 100.7 214 102.2 212.5 103.7 213.3 103.8 212.5 103.7 212 102.2 212.4 101.3 211 101.8 209.5 102.2 209.1 103.7 208.5 103.9 206.5 103.8 205.1 102.7 200.6 102.6 199.1 102.7 197.6 103.7 195.7 104.5 194.7 105.1 193.1 106.1 194.7 108.1 195.1 111.1 195.1 114 195.4 115.5 195.3 117 194.8 118.5 194.8 120 195.4 121.5 195.5 123.1 196.2 124.4 196.3 130.4 196.3 131.9 196.6 132.9 197.6 133.3 197.9 134.8 198.1 136.3 197.8 137.8 197.8 139.3 198.1 140.8 199.5 142.3 200.5 142.9 200.6 143 203.6 142 205.1 141.3 208 139.9 209.5 136.9 211 135.6 212.5 135.8 214 135.2 215.5 133.1 218.4 132.5 219.9 131.9 220.6 131.6 221.4 130.3 222.9 129.7 224.4 130.4 225.8 129.8 227.3 128.9 228.4 128.3 227.3 128 225.8 127.4 225.7 125.4 225.8 124.4 226.7 123 227.1 120 226.8 118.5 226.9 117 226.8 115.5 226.1 114 225.8 111.1 222.2 108.1 219.5 107.5 218.4 106.6 217.6 105.1 216.4 103.7 216.2 102.4 216.9 100.7 217.6 100.7 219.2 103.7 218.2 105.1 218 105.8 218.4 105.8 219.9 103.4 221.4 102.9 222.9 104 224.4 103.7 225.1 102.2 225.2 101.6 224.4 100.7 223.6 100.7 230.3zM101.5 228.8L102.2 228.3 102.5 228.8 102.2 229.6zM107.1 228.8L106.6 228.2 106.3 227.3 106.6 226.6 108.1 226.7 108.8 227.3 108.9 228.8 108.1 229.6zM106.9 224.4L108.1 222.6 108.7 224.4 108.1 225.1zM141.6 196.2L140 194.7 142.1 191.7 142.3 191.6 143.7 191.5 144.8 193.2 143.7 195.5 142.3 196.3zM113.3 194.7L114 194.4 114.3 194.7 114 194.7zM136.1 194.7L134.8 193.2 136.3 191.9 137.4 193.2 136.5 194.7 136.3 194.7zM116.9 193.2L117 192.8 117.6 193.2 117 193.4zM122.1 190.2L122.3 188.7 122.1 187.2 123 186.3 124.4 185.1 124.9 185.8 124.4 187.4 123.5 188.7 123.4 190.2 123 191.7zM106.1 188.7L105.8 184.3 106.6 183.3 109.6 185.4 111.1 184.9 111.5 184.3 111.5 182.8 109.6 182.2 108.4 181.3 109.3 179.8 111.1 178.8 112.6 177.5 114 176.8 115.3 178.3 117.2 179.8 118 181.3 118.2 182.8 117.7 184.3 117.8 185.8 118.5 187.5 120 188.7 118.5 189.3 117 189.3 115.5 190 114 190 112.4 188.7 111.1 188.3 109.6 188.2 108.1 189.4 106.6 189.7zM158.2 182.8L158.6 182.6 160.1 182.8 158.6 183.4zM121.8 181.3L123 180.3 123.8 179.8 124.3 178.3 123.8 176.9 123.8 175.4 123 174.1 121.7 175.4 121.5 175.5 120.3 175.4 120 175.1 119.6 173.9 123 172.6 123.8 170.9 124.4 170 127.4 171.2 128.9 170.1 130.4 170.3 133.3 170 136.3 171.3 137.6 172.4 138.4 173.9 138.6 175.4 137.8 176.6 134.8 177.5 133.3 179.2 131.9 179.6 130.4 179.8 128.9 180.9 127.4 181.5 125.9 181.4 124.4 181.8 123 181.8zM134.7 179.8L136.3 178.9 136.6 179.8 136.3 180.1 134.8 180zM118.2 178.3L118.5 178 120.3 178.3 120 179.8 118.5 178.6zM159.9 178.3L160.1 178.1 160.7 178.3 160.1 178.5zM156.8 176.9L156.2 175.4 156.9 173.9 156.5 172.4 155.6 172.1 154.9 170.9 155.6 169.7 157.1 169.7 157.8 170.9 157.9 172.4 160.1 173 160.8 173.9 160.1 174.3 159.1 175.4 158.6 176.4 158 176.9 157.1 177.1zM109.4 173.9L109.6 173.8 109.6 173.9 109.6 174.1zM114.3 172.4L115.5 172.2 115.8 172.4 115.5 172.8zM145 172.4L143.7 171.3 142.3 171.3 141.6 170.9 141.7 169.4 142.3 168.7 143.7 169.1 145.2 170.6 146.7 170.3 147.4 170.9 148.3 172.4 146.7 173 145.2 172.8zM107.8 170.9L107.7 169.4 108.1 169.1 108.5 169.4 108.5 170.9 108.1 171zM118.4 170.9L118.5 170.5 118.7 170.9 118.5 171.1zM138.4 170.9L139.3 170.7 139.6 170.9 139.3 171.2zM150.7 170.9L151 169.4 152.6 168.4 153.9 169.4 152.6 171.1 151.2 171.5zM119 169.4L120 168.6 120.4 169.4 120 170.1zM137.1 169.4L137.8 168.8 138.4 169.4 137.8 170.6zM112.3 167.9L112.6 167.3 114.1 167.9 112.6 168.2zM130.9 167.9L131.9 166.4 133.3 167 133.8 167.9 133.3 168.2 131.9 168.3zM155.6 230.3L155.8 230.3 155.6 230.1 154.9 230.3zM161.5 230.3L163.6 230.3 163 229.7 161.5 229.9 161.3 230.3zM164.5 224.8L166 225.7 166 220.5 165.4 221.4 164.5 222.2 163 222.5 162.6 222.9 163.6 224.4zM145.2 223.5L146.7 223.6 147.8 222.9 146.7 221.7 145.2 221.3 144.6 222.9zM154.1 221.5L154.3 221.4 154.1 220.7 154 221.4zM142.3 219.1L142.9 218.4 142.3 216.8 141.6 218.4zM154.1 219.7L155.4 218.4 154.1 217.8 152.9 218.4zM166 218.7L166 215.2 164.9 216.9 165.9 218.4zM160.1 212.9L161.5 212.9 162.7 211 162.2 209.5 161.5 209 161.1 208 160.1 207.7 159.1 208 158.5 209.5 159.6 211 159.7 212.5zM149.7 211.5L151.2 211.5 152 211 152 209.5 151.2 209 149.7 209.4 149.5 209.5 149.1 211zM166 211.3L166 206.8 163.9 208 163.4 209.5 164.5 210.1 165.4 211zM148.2 186.3L149.2 185.8 149.1 184.3 148.2 183.5 147.2 184.3 147.5 185.8zM151.2 181.6L151.4 181.3 151.2 180.5 150.9 181.3zM146.7 180.1L147 179.8 146.7 179.1 146.5 179.8zM130.4 176.2L131.9 176.8 133.3 175.8 133.7 175.4 133.4 173.9 131.9 173.6 130.4 174.8 130 175.4zM166 169.1L166 166.1 165.2 166.5 165.3 167.9z" clip-path="url(#pe7a8898d36)" style="fill: #fcbba1; stroke: #fcbba1; stroke-width: 0.35"/><path d="M102.2 229.6L102.5 228.8 102.2 228.3 101.5 228.8zM108.1 229.6L108.9 228.8 108.8 227.3 108.1 226.7 106.6 226.6 106.3 227.3 106.6 228.2 107.1 228.8zM115.5 230.3L117.8 230.3 117 228.8 115.5 229.2 115 230.3zM128.9 230.3L129.1 230.3 128.9 229.3 128 230.3zM139.3 230.3L141.2 230.3 140.8 229.3 139.3 228.7 138.5 230.3zM145.2 230.3L146.3 230.3 145.2 228.9 143.8 230.3zM128.9 228.4L129.8 227.3 130.4 225.8 129.7 224.4 130.3 222.9 131.6 221.4 131.9 220.6 132.5 219.9 133.1 218.4 135.2 215.5 135.8 214 135.6 212.5 136.9 211 139.9 209.5 141.3 208 142 205.1 143 203.6 142.9 200.6 142.3 200.5 140.8 199.5 139.3 198.1 137.8 197.8 136.3 197.8 134.8 198.1 133.3 197.9 132.9 197.6 131.9 196.6 130.4 196.3 124.4 196.3 123.1 196.2 121.5 195.5 120 195.4 118.5 194.8 117 194.8 115.5 195.3 114 195.4 111.1 195.1 108.1 195.1 106.1 194.7 105.1 193.2 104.5 194.7 103.7 195.7 102.7 197.6 102.6 199.1 102.7 200.6 103.8 205.1 103.9 206.5 103.7 208.5 102.2 209.1 101.8 209.5 101.3 211 102.2 212.4 103.7 212 103.8 212.5 103.7 213.3 102.2 212.5 100.7 214 100.7 217.6 102.4 216.9 103.7 216.2 105.1 216.4 106.6 217.6 107.5 218.4 108.5 219.9 111.1 222.2 114 225.8 115.5 226.1 117 226.8 118.5 226.9 120 226.8 123 227.1 124.4 226.7 125.4 225.8 127.4 225.7 128 225.8 128.3 227.3zM118 225.8L117 225 115.5 224.1 114 223.9 105.7 215.5 105.1 212.4 104.4 209.5 104.3 205.1 103.9 202.1 103.1 199.1 103.3 197.6 103.7 197 105.1 195.4 111.1 195.8 114 196.1 115.5 196.2 117 195.9 120 196.4 121.5 196.3 124.4 196.7 128.9 196.8 130.4 197.2 134.8 199.4 136.3 199.4 138.8 200.6 139.3 201.3 140.1 203.6 140.2 205.1 140.6 206.5 140.1 208 139.3 208.9 138.1 209.5 136.3 209.9 135.4 211 134.6 212.5 134.5 214 134.1 215.5 131.8 218.4 128.9 223.7 127.4 224.4 124.4 225 122.7 225.8 121.5 226.1 118.5 226zM108.1 225.1L108.7 224.4 108.1 222.6 106.9 224.4zM101.3 205.1L100.7 204.4 100.7 205.1 100.7 206.5zM142.3 196.3L143.7 195.5 144.8 193.2 143.7 191.5 142.3 191.6 142.1 191.7 140 194.7 141.6 196.2zM117 193.4L117.6 193.2 117 192.8 116.9 193.2zM123 191.7L123.4 190.2 123.5 188.7 124.4 187.4 124.9 185.8 124.4 185.1 123 186.3 122.1 187.2 122.3 188.7 122.1 190.2zM163 190.7L164.5 191.3 166 190.3 166 188.7 164.5 188.9 163 189.6 162.8 190.2zM102.2 189.1L103.7 189.7 104.2 188.7 104 187.2 103.9 184.3 103.7 183.7 100.7 181.6 100.7 186.4 102.2 186.9 102.6 187.2 102.2 187.9 101.3 188.7zM158.6 183.4L160.1 182.8 158.6 182.6 158.2 182.8zM134.8 180L136.3 180.1 136.6 179.8 136.3 178.9 134.7 179.8zM105.1 179.3L106.6 179.1 108.1 178.7 108.6 178.3 109 176.9 108.1 175.8 103.7 174.8 103 173.9 102.2 173.2 100.7 173.5 100.7 175.7 102.2 175.8 103.7 176.5 104 178.3zM105.8 176.9L106.6 176.8 106.7 176.9 106.6 177.1zM118.5 178.6L120 179.8 120.3 178.3 118.5 178 118.2 178.3zM160.1 178.5L160.7 178.3 160.1 178.1 159.9 178.3zM157.1 177.1L158 176.9 158.6 176.4 159.1 175.4 160.1 174.3 160.8 173.9 160.1 173 157.9 172.4 157.8 170.9 157.1 169.7 155.6 169.7 154.9 170.9 155.6 172.1 156.5 172.4 156.9 173.9 156.2 175.4 156.8 176.9zM109.6 174.1L109.6 173.9 109.6 173.8 109.4 173.9zM115.5 172.8L115.8 172.4 115.5 172.2 114.3 172.4zM145.2 172.8L146.7 173 148.3 172.4 147.4 170.9 146.7 170.3 145.2 170.6 143.7 169.1 142.3 168.7 141.7 169.4 141.6 170.9 142.3 171.3 143.7 171.3 145 172.4zM161.5 173L162.5 172.4 163 171.8 163.3 170.9 164.5 169.7 166 169.5 166 169.1 165.3 167.9 165.2 166.5 166 166.1 166 165 159.3 165 161.5 166.6 163 167.9 163 169.4 162.2 170.9 160.8 172.4zM118.5 171.1L118.7 170.9 118.5 170.5 118.4 170.9zM139.3 171.2L139.6 170.9 139.3 170.7 138.4 170.9zM120 170.1L120.4 169.4 120 168.6 119 169.4zM137.8 170.6L138.4 169.4 137.8 168.8 137.1 169.4zM131.9 168.3L133.3 168.2 133.8 167.9 133.3 167 131.9 166.4 130.9 167.9zM101.6 166.5L102.2 166.3 102.8 165 100.7 165 100.7 166.6zM127.4 166.6L128.1 165 124.3 165 124.4 165.3 125.9 166.2 127.2 166.5zM151.2 166.5L152.6 166.1 153.3 166.5 155.6 166.9 156.1 166.5 156.3 165 151.5 165 151.2 166 150.7 166.5zM114 165.1L114.5 165 114 165 113.5 165zM117 165L118.5 165.7 119.3 165 117 165zM140.8 166.2L142.3 165.9 142.6 165 139.3 165zM149.7 165.8L150.5 165 149.7 165 149.3 165z" clip-path="url(#pe7a8898d36)" style="fill: #fca68a; stroke: #fca68a; stroke-width: 0.35"/><path d="M118.5 226L121.5 226.1 122.7 225.8 124.4 225 127.4 224.4 128.9 223.7 131.8 218.4 134.1 215.5 134.5 214 134.6 212.5 135.4 211 136.3 209.9 138.1 209.5 139.3 208.9 140.1 208 140.6 206.5 140.2 205.1 140.1 203.6 139.3 201.3 138.8 200.6 136.3 199.4 134.8 199.4 130.4 197.2 128.9 196.8 124.4 196.7 121.5 196.3 120 196.4 117 195.9 115.5 196.2 114 196.1 111.1 195.8 105.1 195.4 103.7 197 103.3 197.6 103.1 199.1 103.9 202.1 104.3 205.1 104.4 209.5 105.1 212.4 105.7 215.5 114 223.9 115.5 224.1 117 225 118 225.8zM117.8 224.4L117 222.6 115.5 222 114 222.3 113.3 221.4 111.6 219.9 111.1 219.3 110.5 218.4 110.2 216.9 108.1 215.6 106.6 214.2 106.1 212.5 105.1 208.7 104.9 205.1 103.7 199.1 103.9 197.6 105.1 196.4 106.6 196.2 115.5 196.7 117 196.6 120 196.9 121.5 196.8 128.9 197.4 131.9 198.4 133.3 199.4 134.8 200.2 136 200.6 136.8 202.1 136.3 202.8 134.8 203.4 134 205.1 134.8 205.8 135.2 206.5 135.2 208 133.9 211 133.6 214 133 215.5 132.1 216.9 130.8 218.4 128.9 222.2 125.9 223.6 124.4 223.9 121.5 225.2 120 225.3 118.5 225zM106.6 177.1L106.7 176.9 106.6 176.8 105.8 176.9z" clip-path="url(#pe7a8898d36)" style="fill: #fc9272; stroke: #fc9272; stroke-width: 0.35"/><path d="M118.5 225L120 225.3 121.5 225.2 124.4 223.9 125.9 223.6 128.9 222.2 130.8 218.4 132.1 216.9 133 215.5 133.6 214 133.9 211 135.2 208 135.2 206.5 134.8 205.8 134 205.1 134.8 203.4 136.3 202.8 136.8 202.1 136 200.6 134.8 200.2 133.3 199.4 131.9 198.4 128.9 197.4 121.5 196.8 120 196.9 117 196.6 115.5 196.7 106.6 196.2 105.1 196.4 103.9 197.6 103.7 199.1 104.9 205.1 105.1 208.7 106.1 212.5 106.6 214.2 108.1 215.6 110.2 216.9 110.5 218.4 111.1 219.3 111.6 219.9 113.3 221.4 114 222.3 115.5 222 117 222.6 117.8 224.4zM119.6 224.4L118.4 222.9 118.7 221.4 118.5 221.1 117 220 114 219.1 112.7 218.4 112 216.9 109.6 214.8 108.3 214 107.3 212.5 105.7 208 105.5 205.1 104.2 199.1 104.6 197.6 105.1 197.1 106.6 196.8 108.1 196.8 115.5 197.3 118.5 197.2 120 197.4 121.5 197.2 127.4 197.6 130.4 198.2 131.9 198.9 134.2 200.6 134.4 202.1 133 203.6 132 205.1 132 206.5 133.3 207.4 133.7 208 132 211 131.9 212.5 132 214 131.8 215.5 130.4 217.4 128.9 218.4 127.4 218.4 128.3 219.9 127.4 220.1 126.4 221.4 124.1 222.9 123 223.3 121.5 224.3 120 224.5zM121.5 220.5L123 220.3 123.4 219.9 123 219.4 121.5 219.4 120.8 219.9z" clip-path="url(#pe7a8898d36)" style="fill: #fc7e5e; stroke: #fc7e5e; stroke-width: 0.35"/><path d="M120 224.5L121.5 224.3 123 223.3 124.1 222.9 126.4 221.4 127.4 220.1 128.3 219.9 127.4 218.4 128.9 218.4 130.4 217.4 131.8 215.5 132 214 131.9 212.5 132 211 133.7 208 133.3 207.4 132 206.5 132 205.1 133 203.6 134.4 202.1 134.2 200.6 131.9 198.9 130.4 198.2 127.4 197.6 121.5 197.2 120 197.4 118.5 197.2 115.5 197.3 108.1 196.8 106.6 196.8 105.1 197.1 104.6 197.6 104.2 199.1 105.5 205.1 105.7 208 107.3 212.5 108.3 214 109.6 214.8 112 216.9 112.7 218.4 114 219.1 117 220 118.5 221.1 118.7 221.4 118.4 222.9 119.6 224.4zM120.8 219.9L121.5 219.4 123 219.4 123.4 219.9 123 220.3 121.5 220.5zM115.9 218.4L115.9 216.9 115.7 215.5 115.5 215.3 114 215.4 112.6 215.9 111.9 215.5 110.5 214 108.1 211 107.3 209.5 106.6 208.8 106.3 208 106.2 206.5 106.2 205.1 106 203.6 104.9 200.6 104.7 199.1 105.1 198.1 106 197.6 108.1 197.3 114 197.5 115.5 197.8 118.5 197.7 120 197.9 121.5 197.7 123 197.7 127.4 197.9 130.4 198.6 131.4 199.1 133.2 200.6 133.3 202.1 131.9 203.7 130.4 205 128.9 205.1 129.4 206.5 129.2 208 128.9 208.3 127.4 208.3 125.9 208.6 124.8 209.5 123.8 211 124.4 212 127.4 211.4 128.9 210 130.4 210.1 130.7 211 130.9 212.5 130.4 214.1 129 215.5 125.9 216.8 124.4 216.7 123 217.1 118.5 219.2 117 218.9z" clip-path="url(#pe7a8898d36)" style="fill: #fb6a4a; stroke: #fb6a4a; stroke-width: 0.35"/><path d="M117 218.9L118.5 219.2 123 217.1 124.4 216.7 125.9 216.8 129 215.5 130.4 214.1 130.9 212.5 130.7 211 130.4 210.1 128.9 210 127.4 211.4 124.4 212 123.8 211 124.8 209.5 125.9 208.6 127.4 208.3 128.9 208.3 129.2 208 129.4 206.5 128.9 205.1 130.4 205 131.9 203.7 133.3 202.1 133.2 200.6 131.4 199.1 130.4 198.6 127.4 197.9 123 197.7 121.5 197.7 120 197.9 118.5 197.7 115.5 197.8 114 197.5 108.1 197.3 106 197.6 105.1 198.1 104.7 199.1 104.9 200.6 106 203.6 106.2 205.1 106.2 206.5 106.3 208 106.6 208.8 107.3 209.5 108.1 211 110.5 214 111.9 215.5 112.6 215.9 114 215.4 115.5 215.3 115.7 215.5 115.9 216.9 115.9 218.4zM125.9 214L127.4 213.2 128.1 212.5 128.9 211.9 129.5 212.5 128.9 213.6 128.5 214 127.4 214.5 125.9 214.1zM114 212.5L114.5 211 112.6 210.1 111.1 210.1 109.6 209.8 108.1 208.9 107.3 208 106.9 206.5 107.1 205.1 106.9 203.6 105.8 200.6 105.6 199.1 106.6 198.5 108.1 198.1 112.6 198 115.5 198.3 118.5 198.2 120 198.3 121.5 198.1 127.4 198.2 130.4 199 132.6 200.6 132.5 202.1 131.9 202.8 130.4 203.5 128.9 203.7 125.9 206 124.4 206.2 123 206.5 121.1 208 122.4 209.5 122.4 211 121.5 212.7 120 213.6 118.5 213.8 117 213.8 115.5 212.9 114 212.5z" clip-path="url(#pe7a8898d36)" style="fill: #f5523b; stroke: #f5523b; stroke-width: 0.35"/><path d="M125.9 214.1L127.4 214.5 128.5 214 128.9 213.6 129.5 212.5 128.9 211.9 128.1 212.5 127.4 213.2 125.9 214zM114 212.5L115.5 212.9 117 213.8 118.5 213.8 120 213.6 121.5 212.7 122.4 211 122.4 209.5 121.1 208 123 206.5 124.4 206.2 125.9 206 128.9 203.7 130.4 203.5 131.9 202.8 132.5 202.1 132.6 200.6 130.4 199 127.4 198.2 121.5 198.1 120 198.3 118.5 198.2 115.5 198.3 112.6 198 108.1 198.1 106.6 198.5 105.6 199.1 105.8 200.6 106.9 203.6 107.1 205.1 106.9 206.5 107.3 208 108.1 208.9 109.6 209.8 111.1 210.1 112.6 210.1 114.5 211 114 212.5zM108.9 208L108 206.5 108.1 206.1 109.5 205.1 109.1 202.1 107.9 200.6 108.4 199.1 112.6 198.5 115.5 198.9 118.5 198.6 120 198.7 125.9 198.4 127.4 198.4 129.8 199.1 130.4 199.4 131.9 200.6 131.7 202.1 130.4 203 128 203.6 127.4 204.1 125.9 204.9 121.5 206 120 206 118.5 205.7 117.9 206.5 118 208 117 208.9 111.1 208.7 109.6 208.4z" clip-path="url(#pe7a8898d36)" style="fill: #ef3b2c; stroke: #ef3b2c; stroke-width: 0.35"/><path d="M109.6 208.4L111.1 208.7 117 208.9 118 208 117.9 206.5 118.5 205.7 120 206 121.5 206 125.9 204.9 127.4 204.1 128 203.6 130.4 203 131.7 202.1 131.9 200.6 130.4 199.4 129.8 199.1 127.4 198.4 125.9 198.4 120 198.7 118.5 198.6 115.5 198.9 112.6 198.5 108.4 199.1 107.9 200.6 109.1 202.1 109.5 205.1 108.1 206.1 108 206.5 108.9 208zM111.8 205.1L111.5 203.6 111.1 202.6 110.6 200.6 111.1 200 112.1 199.1 114 199.1 115.5 199.7 118.5 199 120 199.1 125.9 198.6 127.4 198.7 128.9 199.1 130.4 199.8 131.3 200.6 130.9 202.1 130.4 202.4 127.2 203.6 125.9 204.4 121.5 205 120 204.9 118.5 204.5 117 204.6 115.5 204.3 114 204.2 113.2 205.1 112.6 206z" clip-path="url(#pe7a8898d36)" style="fill: #dd2a24; stroke: #dd2a24; stroke-width: 0.35"/><path d="M112.6 206L113.2 205.1 114 204.2 115.5 204.3 117 204.6 118.5 204.5 120 204.9 121.5 205 125.9 204.4 127.2 203.6 130.4 202.4 130.9 202.1 131.3 200.6 130.4 199.8 128.9 199.1 127.4 198.7 125.9 198.6 120 199.1 118.5 199 115.5 199.7 114 199.1 112.1 199.1 111.1 200 110.6 200.6 111.1 202.6 111.5 203.6 111.8 205.1zM117.9 203.6L116.7 202.1 115.9 200.6 118.5 199.6 120 199.7 125.9 198.9 127.4 199 128.9 199.5 130.8 200.6 130.1 202.1 126.5 203.6 125.9 203.9 123 204.1 121.5 204.4 120 204.3 118.5 203.8zM112.2 202.1L111.8 200.6 112.6 199.9 114 200.2 115.1 200.6 114.7 202.1 114 202.6 112.6 202.6z" clip-path="url(#pe7a8898d36)" style="fill: #cb181d; stroke: #cb181d; stroke-width: 0.35"/><path d="M118.5 203.8L120 204.3 121.5 204.4 123 204.1 125.9 203.9 126.5 203.6 130.1 202.1 130.8 200.6 128.9 199.5 127.4 199 125.9 198.9 120 199.7 118.5 199.6 115.9 200.6 116.7 202.1 117.9 203.6zM119.6 203.6L118.5 202.8 117.9 202.1 117.7 200.6 118.5 200.3 120 200.2 124.4 199.6 125.9 199.2 127.4 199.3 128.9 199.9 130.2 200.6 129.4 202.1 125.9 203.5 120 203.7zM112.6 202.6L114 202.6 114.7 202.1 115.1 200.6 114 200.2 112.6 199.9 111.8 200.6 112.2 202.1z" clip-path="url(#pe7a8898d36)" style="fill: #b81419; stroke: #b81419; stroke-width: 0.35"/><path d="M120 203.7L125.9 203.5 129.4 202.1 130.2 200.6 128.9 199.9 127.4 199.3 125.9 199.2 124.4 199.6 120 200.2 118.5 200.3 117.7 200.6 117.9 202.1 118.5 202.8 119.6 203.6zM119.1 202.1L120 201.1 120.6 200.6 125.9 199.7 127.4 199.8 129.5 200.6 128.6 202.1 125.9 203.2 121.5 203.1 120 202.8z" clip-path="url(#pe7a8898d36)" style="fill: #a50f15; stroke: #a50f15; stroke-width: 0.35"/><path d="M120 202.8L121.5 203.1 125.9 203.2 128.6 202.1 129.5 200.6 127.4 199.8 125.9 199.7 120.6 200.6 120 201.1 119.1 202.1zM120.7 202.1L123.1 200.6 125.9 200.2 127.4 200.2 128.8 200.6 127.9 202.1 125.9 202.9 124.4 202.8 121.5 202.4z" clip-path="url(#pe7a8898d36)" style="fill: #860811; stroke: #860811; stroke-width: 0.35"/><path d="M121.5 202.4L124.4 202.8 125.9 202.9 127.9 202.1 128.8 200.6 127.4 200.2 125.9 200.2 123.1 200.6 120.7 202.1z" clip-path="url(#pe7a8898d36)" style="fill: #67000d; stroke: #67000d; stroke-width: 0.35"/></g><g id="QuadContourSet_14"><path d="M135.9 230.3L166 230.3 166 198.9 161 198.9 158.5 201.4 148.4 201.4 145.9 203.9 143.4 203.9 138.4 208.9 135.9 208.9 134.6 210.2 134.6 212.7 132.1 215.2 132.1 225.3 134.6 227.8 134.6 230.3zM144.6 212.7L144.6 210.2 145.9 208.9 148.4 208.9 149.7 210.2 149.7 212.7 148.4 214 145.9 214zM105.7 196.4L138.4 196.4 140.9 193.9 143.4 193.9 144.6 192.6 142.1 190.1 142.1 187.6 140.9 186.3 135.9 186.3 133.3 183.8 125.8 183.8 123.3 186.3 120.8 186.3 117 182.6 117 175 115.8 173.8 113.2 176.3 110.7 176.3 107 180.1 107 182.6 104.5 185.1 104.5 195.1z" clip-path="url(#pe7a8898d36)" style="fill: url(#htch)"/></g><g id="patch_50"><path d="M133.34 228.74 C 141.59 228.74 149.51 225.47 155.34 219.63 C 161.17 213.8 164.45 205.89 164.45 197.64 C 164.45 189.39 161.17 181.48 155.34 175.65 C 149.51 169.81 141.59 166.54 133.34 166.54 C 125.1 166.54 117.18 169.81 111.35 175.65 C 105.52 181.48 102.24 189.39 102.24 197.64 C 102.24 205.89 105.52 213.8 111.35 219.63 C 117.18 225.47 125.1 228.74 133.34 228.74L133.34 228.74z" clip-path="url(#p8eb6d952cb)" style="fill: none; stroke: #333333; stroke-width: 0.55; stroke-linejoin: miter"/></g><g id="patch_51"><path d="M151.7 196.1L155.4 197.6 151.7 199.2z" clip-path="url(#p8eb6d952cb)"/></g><g id="line2d_34"><path d="M133.3 197.6L152.6 197.6" clip-path="url(#p8eb6d952cb)" style="fill: none; stroke: #000000; stroke-opacity: 0.8; stroke-width: 0.75"/></g></g><g id="axes_16"><g id="patch_52"><path d="M222.05 228.74 C 230.3 228.74 238.21 225.47 244.04 219.63 C 249.87 213.8 253.15 205.89 253.15 197.64 C 253.15 189.39 249.87 181.48 244.04 175.65 C 238.21 169.81 230.3 166.54 222.05 166.54 C 213.8 166.54 205.89 169.81 200.05 175.65 C 194.22 181.48 190.94 189.39 190.94 197.64 C 190.94 205.89 194.22 213.8 200.05 219.63 C 205.89 225.47 213.8 228.74 222.05 228.74L222.05 228.74z" clip-path="url(#pb66ba874de)" style="fill: none"/></g><g id="QuadContourSet_15"><path clip-path="url(#p4d2bd4688e)" style="fill: #00224e; stroke: #00224e; stroke-width: 0.35"/><path d="M190 230.3L254.7 230.3 254.7 165 243.1 165 242.6 169.1 242.3 173.9 241.4 178 239.9 184 235.7 193.7 232 200 230.4 202.1 225.6 205.7 220.9 208.9 217.3 210.9 197.7 220.6 195.3 221.4 189.4 222.6 189.4 230.3z" clip-path="url(#p4d2bd4688e)" style="fill: #123570; stroke: #123570; stroke-width: 0.35"/><path d="M189.6 222.6L195.3 221.4 197.7 220.6 218.5 210.3 220.9 208.9 225 206.1 229.2 203.1 230.7 201.8 232 200 235.8 193.5 239.9 184 241.4 178 242.3 173.9 242.6 169.1 243.1 165 189.4 165 189.4 181.9 191.2 181.8 193 181.4 200.7 177.1 201.9 176.5 203 176.2 204.2 176.1 205.4 176.2 215.5 178.4 217.3 179.1 219.1 180.1 224.4 183.7 226.2 185.1 227.4 186.7 229.8 190.7 230.4 192.3 230.5 193.5 230.3 195.3 229.8 197.6 229.4 198.8 228.6 200 227.4 201.2 225.6 202.6 223.8 203.8 222 204.6 217.3 205.7 210.8 206.8 199.5 207.9 197.7 207.8 191.2 206.4 189.4 206.3 189.4 222.6z" clip-path="url(#p4d2bd4688e)" style="fill: #3b496c; stroke: #3b496c; stroke-width: 0.35"/><path d="M197.7 207.8L199.5 207.9 210.2 206.9 217.3 205.7 222.6 204.4 224.4 203.4 226.2 202.2 228.1 200.6 229.4 198.8 230.1 196.5 230.5 193.5 230.4 192.3 230 191.1 226.8 185.8 225.6 184.6 224.4 183.7 219.1 180.1 216.7 178.9 213.7 178 204.8 176.1 203 176.2 201.3 176.8 193 181.4 191.2 181.8 189.4 181.9 189.4 186.7 191.2 186.6 192.4 186.3 200.1 183.2 202.5 182.6 203.6 182.6 207.2 183 212 183.1 213.7 183.4 215.5 184.1 220.9 186.7 223.1 188.1 225.3 190.5 226.5 192.3 227.4 194.1 227.6 195.9 227.3 197.6 226.5 199.4 225.5 200.6 223.8 201.8 222 202.7 217.3 203.9 209.6 204.6 204.8 204.5 197.7 203.6 195.9 203.2 192.4 201.7 191.2 201.4 189.4 201.3 189.4 206.3 191.8 206.5 197.5 207.7z" clip-path="url(#p4d2bd4688e)" style="fill: #575d6d; stroke: #575d6d; stroke-width: 0.35"/><path d="M202.5 204.2L206 204.6 210.8 204.5 217.3 203.9 220.9 203.1 222.6 202.5 224.4 201.5 225.5 200.6 226.8 198.8 227.3 197.6 227.6 195.9 227.5 194.7 227.2 193.5 224.8 189.9 223.8 188.8 222.6 187.8 216.1 184.4 214.3 183.6 213.1 183.3 211.4 183.1 207.2 183 203.6 182.6 201.9 182.7 200.1 183.2 193 186.1 191.2 186.6 189.4 186.7 189.4 192 191.8 191.9 193.5 191.5 196.5 190 200.1 188 201.9 187.4 204.2 187.2 213.1 187.2 214.9 187.5 216.7 188 219.7 189.2 222 190.3 223.2 191.2 224.3 192.3 225.2 193.5 225.8 194.7 226 195.9 225.7 197.6 225.2 198.8 224.2 200 223.2 200.8 221.5 201.6 219.7 202.1 216.7 202.7 209.6 202.9 206 202.7 204.2 202.4 193 199.7 189.4 199.4 189.4 201.3 191.2 201.4 192.4 201.7 196.5 203.4 198.9 203.9 202.3 204.2z" clip-path="url(#p4d2bd4688e)" style="fill: #707173; stroke: #707173; stroke-width: 0.35"/><path d="M204.2 202.4L206 202.7 208.4 202.8 215.5 202.8 217.9 202.5 221.5 201.6 222.6 201.1 223.8 200.4 225.2 198.8 225.7 197.6 226 196.5 225.8 194.7 225.2 193.5 224.3 192.3 223.2 191.2 222 190.3 219.7 189.2 216.7 188 214.9 187.5 213.1 187.2 204.2 187.2 201.9 187.4 200.1 188 196.5 190 193.5 191.5 191.8 191.9 189.4 192 189.4 199.4 193 199.7 204.2 202.4zM207.5 201.2L204.8 200.5 203.6 199.9 202.2 198.8 199.8 196.5 198.9 195.3 198.7 194.7 198.8 194.1 199.2 193.5 201.3 192.1 203.6 191 204.9 190.5 211.4 189.6 214.3 189.6 216.1 189.8 217.9 190.3 221.5 191.7 223.2 193 224.1 194.1 224.7 195.3 224.8 195.9 224.7 197 223.9 198.8 222.6 199.9 220.9 200.8 218.5 201.3 216.1 201.6 212 201.5 207.8 201.2z" clip-path="url(#p4d2bd4688e)" style="fill: #8a8678; stroke: #8a8678; stroke-width: 0.35"/><path d="M207.8 201.2L212 201.5 216.1 201.6 218.5 201.3 220.9 200.8 222.6 199.9 223.9 198.8 224.7 197 224.8 195.9 224.7 195.3 224.1 194.1 223.2 193 221.5 191.7 217.9 190.3 216.1 189.8 214.3 189.6 211.4 189.6 204.9 190.5 203.6 191 201.3 192.1 199.2 193.5 198.8 194.1 198.7 194.7 198.9 195.3 199.8 196.5 202.2 198.8 203.6 199.9 204.8 200.5 207.5 201.2zM211.1 200L207.2 199.1 205.8 198.2 204.9 197 204.3 195.9 204.3 195.3 204.8 194.3 206 193.4 208.9 192.3 212.5 191.5 215.5 191.3 218.5 191.8 220.9 192.7 222.6 194 223.5 195.3 223.7 196.5 223.2 197.9 222.5 198.8 220.9 199.8 219.1 200.2 216.7 200.5 213.7 200.4 211.4 200.1z" clip-path="url(#p4d2bd4688e)" style="fill: #a59c74; stroke: #a59c74; stroke-width: 0.35"/><path d="M211.4 200.1L213.7 200.4 216.7 200.5 219.1 200.2 220.9 199.8 222.5 198.8 223.2 197.9 223.7 196.5 223.5 195.3 222.6 194 220.9 192.7 218.5 191.8 215.5 191.3 212.5 191.5 208.9 192.3 206 193.4 204.8 194.3 204.3 195.3 204.3 195.9 204.9 197 205.8 198.2 207.2 199.1 211.1 200zM216 199.4L213.1 198.9 212 198.2 211.4 197.6 210.7 196.5 210.6 195.3 211 194.7 211.7 194.1 213.7 193.2 214.9 192.8 216.7 192.7 218.4 192.9 219.7 193.3 220.9 193.9 221.7 194.7 222.2 195.3 222.4 196.5 222 197.6 221.5 198.2 220.5 198.8 219.1 199.2 216.1 199.4z" clip-path="url(#p4d2bd4688e)" style="fill: #c3b369; stroke: #c3b369; stroke-width: 0.35"/><path d="M216.1 199.4L219.1 199.2 220.5 198.8 221.5 198.2 222 197.6 222.4 196.5 222.2 195.3 221.7 194.7 220.9 193.9 219.7 193.3 218.4 192.9 216.7 192.7 214.9 192.8 213.7 193.2 211.7 194.1 211 194.7 210.6 195.3 210.7 196.5 211.4 197.6 212 198.2 213.1 198.9 216 199.4zM215.5 197.6L214.7 197 214.5 196.5 214.5 195.9 214.9 195.1 215.5 194.7 216.1 194.4 217.3 194.3 219.1 194.6 220.2 195.3 220.6 195.9 220.6 196.5 220.3 197 219.4 197.6 217.3 198 215.5 197.7z" clip-path="url(#p4d2bd4688e)" style="fill: #e1cc55; stroke: #e1cc55; stroke-width: 0.35"/><path d="M215.5 197.7L217.3 198 219.4 197.6 220.3 197 220.6 196.5 220.6 195.9 220.2 195.3 219.1 194.6 217.3 194.3 216.1 194.4 215.5 194.7 214.9 195.1 214.5 195.9 214.5 196.5 214.7 197 215.5 197.6z" clip-path="url(#p4d2bd4688e)" style="fill: #fee838; stroke: #fee838; stroke-width: 0.35"/></g><g id="patch_53"><path d="M222.05 228.74 C 230.3 228.74 238.21 225.47 244.04 219.63 C 249.87 213.8 253.15 205.89 253.15 197.64 C 253.15 189.39 249.87 181.48 244.04 175.65 C 238.21 169.81 230.3 166.54 222.05 166.54 C 213.8 166.54 205.89 169.81 200.05 175.65 C 194.22 181.48 190.94 189.39 190.94 197.64 C 190.94 205.89 194.22 213.8 200.05 219.63 C 205.89 225.47 213.8 228.74 222.05 228.74L222.05 228.74z" clip-path="url(#pb66ba874de)" style="fill: none; stroke: #333333; stroke-width: 0.55; stroke-linejoin: miter"/></g><g id="patch_54"><path d="M240.4 196.1L244.1 197.6 240.4 199.2z" clip-path="url(#pb66ba874de)"/></g><g id="line2d_35"><path d="M222 197.6L241.3 197.6" clip-path="url(#pb66ba874de)" style="fill: none; stroke: #000000; stroke-opacity: 0.8; stroke-width: 0.75"/></g></g><g id="axes_17"><g id="patch_55"><path d="M297.29 228.74 C 305.54 228.74 313.45 225.47 319.28 219.63 C 325.11 213.8 328.39 205.89 328.39 197.64 C 328.39 189.39 325.11 181.48 319.28 175.65 C 313.45 169.81 305.54 166.54 297.29 166.54 C 289.04 166.54 281.13 169.81 275.29 175.65 C 269.46 181.48 266.18 189.39 266.18 197.64 C 266.18 205.89 269.46 213.8 275.29 219.63 C 281.13 225.47 289.04 228.74 297.29 228.74L297.29 228.74z" clip-path="url(#p96d0b01088)" style="fill: none"/></g><g id="QuadContourSet_16"><path clip-path="url(#p733e21761b)" style="fill: #fff5f0; stroke: #fff5f0; stroke-width: 0.35"/><path clip-path="url(#p733e21761b)" style="fill: #feebe1; stroke: #feebe1; stroke-width: 0.35"/><path d="M321 230.3L321.7 230.3 321 229.8 320.4 230.3zM324 189.4L325.5 188.9 325.5 188.7 324 187.9 323.5 188.7zM318.1 188.3L319.6 188.5 321 187.2 320.6 185.8 319.6 184.8 318.1 184.7 317.2 185.8 317 187.2z" clip-path="url(#p733e21761b)" style="fill: #fee0d2; stroke: #fee0d2; stroke-width: 0.35"/><path d="M292.8 229.3L295.8 230.1 296 230.3 320.4 230.3 321 229.8 321.7 230.3 327.2 230.3 327.8 228.8 328.5 228 329.9 227.1 329.9 188 328.5 187.2 327.4 185.8 327.2 184.3 326.3 181.3 326.3 179.8 325.8 178.3 324 177.2 321 176.3 319.6 174.6 318.1 172.4 316.6 171.3 313.6 170.4 312.1 170.1 310.6 170.1 307.8 170.9 306.2 172.4 307.7 173.7 308.9 175.4 309.2 176.1 311.5 179.8 312 181.3 312.9 182.8 313.3 184.3 313.1 185.8 311 190.2 310.6 191.7 310.7 193.2 311.1 194.7 311.1 196.2 311 197.6 310.6 199.1 309.2 202.2 308.2 203.6 307.8 205.1 306.2 205.8 304.9 208 304.5 209.5 303.2 210.3 301.7 210.5 300.3 211.3 297.3 211.8 296.4 212.5 296.2 214 295.8 214.9 294.3 214.1 292.8 213 291.3 212.9 289.9 212.5 288.4 211.4 286.9 210.7 285.4 210.5 283.9 210.5 282.4 210.2 281 209.6 279.5 209.6 276.5 210.8 275 211.1 273.5 211.3 270.6 211.3 269.1 212.1 268.9 212.5 269.6 214 270.5 215.5 272.1 216.5 272.3 216.9 272.9 221.4 273.5 224.3 275.1 225.8 278 226.8 281 226.4 282.4 226.6 283.9 227.5 286.9 228.5 288.4 228.7 291.3 228.7 291.7 228.8zM323.5 188.7L324 187.9 325.5 188.7 325.5 188.9 324 189.4zM317 187.2L317.2 185.8 318.1 184.7 319.6 184.8 320.6 185.8 321 187.2 319.6 188.5 318.1 188.3zM329.9 172.1L329.9 168.7 328.2 169.4 328.7 170.9zM270.6 166.6L270.8 166.5 270.6 165 270.5 166.5zM272.1 165.4L272.4 165 272.1 165 270.6 165z" clip-path="url(#p733e21761b)" style="fill: #fdceba; stroke: #fdceba; stroke-width: 0.35"/><path d="M266.1 230.3L296 230.3 295.8 230.1 292.8 229.3 291.3 228.7 288.4 228.7 286.9 228.5 285.4 228.1 283.5 227.3 282.4 226.6 281 226.4 278 226.8 275.1 225.8 273.5 224.3 272.9 221.4 272.3 216.9 272.1 216.5 270.5 215.5 269.6 214 268.9 212.5 269.1 212.1 270.6 211.3 273.5 211.3 275 211.1 276.5 210.8 279.5 209.6 281 209.6 282.4 210.2 283.9 210.5 285.4 210.5 286.9 210.7 288.4 211.4 289.9 212.5 291.3 212.9 292.8 213 294.3 214.1 295.8 214.9 296.2 214 296.4 212.5 297.3 211.8 300.3 211.3 301.7 210.5 303.2 210.3 304.5 209.5 304.9 208 306.2 205.8 307.8 205.1 308.2 203.6 309.2 202.2 310.6 199.1 311 197.6 311.1 196.2 311.1 194.7 310.7 193.2 310.6 191.7 311 190.2 313.1 185.8 313.3 184.3 312.9 182.8 312 181.3 311.5 179.8 309.2 176.1 308.9 175.4 307.7 173.7 306.2 172.4 307.8 170.9 310.6 170.1 312.1 170.1 313.6 170.4 316.6 171.3 318.1 172.4 319.6 174.6 321 176.3 324 177.2 325.8 178.3 326.3 179.8 326.3 181.3 327.2 184.3 327.4 185.8 328.5 187.2 329.9 188 329.9 172.1 328.7 170.9 328.2 169.4 329.9 168.7 329.9 165 272.4 165 272.1 165.4 270.6 165 264.6 165 264.6 168.6 266.3 169.4 267.6 170.9 266.1 170.9 264.6 171.2 264.6 182.9 267.6 183 269.1 182.5 273.5 179.2 275 179.1 276.5 179.5 277.6 178.3 278.4 176.9 279.5 175.6 281 175.1 282.4 174.9 285.4 175.2 286.9 175.1 288.4 174.5 288.7 173.9 291.3 172.9 294.3 172.7 295.8 172.9 298.4 173.9 298.8 174.1 301.7 174.6 303.1 175.4 304.1 176.9 304.6 179.8 307.1 182.8 307.1 184.3 307.1 185.8 306.5 187.2 306.2 187.4 305.6 188.7 304.6 190.2 304.2 191.7 304 194.7 302.7 197.6 302.3 200.6 301.7 201.3 298.8 202.4 297.3 203.2 295.8 204.6 294.3 205.6 292.8 206.1 289.9 206.6 288.4 207.2 286.9 208.2 283.9 208.4 281 208 279.5 208 276.5 208.5 275 209.1 273.5 209.6 272.1 209.2 270.2 208 266.8 206.5 266.1 206.3 264.6 206.4 264.6 230.3zM322.3 173.9L321.3 172.4 320.9 170.9 321 170.5 322.5 169.4 323.5 170.9 323.5 172.4 323 173.9 322.5 174zM270.5 166.5L270.6 165 270.8 166.5 270.6 166.6zM328.5 230.3L329.9 230.3 329.9 227.1 328.5 228 327.8 228.8 327.2 230.3z" clip-path="url(#p733e21761b)" style="fill: #fcbba1; stroke: #fcbba1; stroke-width: 0.35"/><path d="M273.5 209.6L275 209.1 276.5 208.5 279.5 208 281 208 283.9 208.4 286.9 208.2 288.4 207.2 289.9 206.6 292.8 206.1 294.3 205.6 295.8 204.6 297.3 203.2 298.8 202.4 301.7 201.3 302.3 200.6 302.7 197.6 304 194.7 304.2 191.7 304.7 189.9 305.6 188.7 306.2 187.4 306.5 187.2 307.1 185.8 307.1 182.8 304.6 179.8 304.1 176.9 303.1 175.4 301.7 174.6 298.8 174.1 298.4 173.9 295.8 172.9 294.3 172.7 291.3 172.9 288.7 173.9 288.4 174.5 286.9 175.1 285.4 175.2 282.4 174.9 281 175.1 279.5 175.6 278.4 176.9 277.6 178.3 276.5 179.5 275 179.1 273.5 179.2 269.1 182.5 267.6 183 264.6 182.9 264.6 186 267.6 185.7 269.1 185.9 270.3 185.8 270.6 185.7 272.1 184.1 273.5 183.2 275 183 278 182 281 181.8 283.9 180.2 288.4 179.9 289.9 180.5 291.3 180.8 294.3 180.9 297.3 181.7 298.9 182.8 299.6 184.3 299.9 185.8 301.4 190.2 301.9 193.2 301.8 194.7 301.3 196.2 300.3 197.7 297.3 200 292.8 201.9 291.3 202.3 289.9 202.2 286.9 202.9 283.9 202.9 281 204.8 279.5 204.6 278 204 276.5 203.9 275 204.3 273.5 204.3 270.6 203.5 269.1 203.4 264.6 203.4 264.6 206.4 266.1 206.3 267.6 206.8 270.2 208 272.1 209.2 273.2 209.5zM322.5 174L323 173.9 323.5 172.4 323.5 170.9 322.5 169.4 321 170.5 320.9 170.9 321.3 172.4 322.3 173.9zM266.1 170.9L267.6 170.9 266.3 169.4 264.6 168.6 264.6 171.2z" clip-path="url(#p733e21761b)" style="fill: #fca68a; stroke: #fca68a; stroke-width: 0.35"/><path d="M272.1 203.9L273.5 204.3 275 204.3 276.5 203.9 278 204 279.5 204.6 281 204.8 283.9 202.9 286.9 202.9 289.9 202.2 291.3 202.3 292.8 201.9 297.3 200 298.8 198.9 300.3 197.7 301.3 196.2 301.8 194.7 301.9 193.2 301.4 190.2 299.9 185.8 299.6 184.3 298.9 182.8 297.3 181.7 294.3 180.9 291.3 180.8 289.9 180.5 288.4 179.9 285.4 180.1 283.9 180.2 281 181.8 278 182 275 183 273.5 183.2 272.1 184.1 270.6 185.7 269.1 185.9 267.6 185.7 264.6 186 264.6 187.8 266.1 187.4 267.6 187.2 270.6 188 272.1 187.4 273.5 186.5 276.2 185.8 278 184.7 279.5 184.5 283.9 185.4 286.9 184.7 288.4 184.8 291.3 184.4 292.8 184.4 294.3 185.5 295.8 187 297.3 187.3 298.8 188.2 300.3 191.4 300.7 193.2 300.6 194.7 299.8 196.2 298.8 197.4 297.3 198.5 295.8 199.2 292.8 200.1 291.3 200.4 288.4 200.5 286.9 200.8 283.9 200.9 279.5 201.9 275 202 272.1 201 264.6 201.6 264.6 203.4 267.6 203.4 270.8 203.6z" clip-path="url(#p733e21761b)" style="fill: #fc9272; stroke: #fc9272; stroke-width: 0.35"/><path d="M266.1 201.5L272.1 201 275 202 279.5 201.9 283.9 200.9 286.9 200.8 288.4 200.5 291.3 200.4 292.8 200.1 295.8 199.2 297.3 198.5 298.8 197.4 299.8 196.2 300.6 194.7 300.7 193.2 300.4 191.7 299.8 190.2 298.8 188.2 297.3 187.3 295.8 187 294.3 185.5 292.8 184.4 291.3 184.4 288.4 184.8 286.9 184.7 283.9 185.4 279.5 184.5 278 184.7 276.2 185.8 273.5 186.5 272.1 187.4 270.6 188 267.6 187.2 266.1 187.4 264.6 187.8 264.6 190.7 266.1 189.9 267.6 189.7 269.1 190.2 270.6 190.5 272.1 190 275 188.1 276.5 187.7 278 187.6 279.5 187.6 282.4 188.2 285.4 188.1 288.4 187 291.3 186.2 292.8 186.7 294.3 188.3 295 188.7 297.3 189.5 298 190.2 298.8 191.6 299.2 193.2 299.3 194.7 298.5 196.2 297.3 197.2 295.8 197.8 292.8 198.6 289.9 198.6 283.9 199.2 281 199.3 278 200.1 276.5 200.1 275 199.9 272.1 199 267.6 198.7 264.6 199.2 264.6 201.6z" clip-path="url(#p733e21761b)" style="fill: #fc7e5e; stroke: #fc7e5e; stroke-width: 0.35"/><path d="M265.1 199.1L267.6 198.7 272.1 199 275 199.9 276.5 200.1 278 200.1 281 199.3 283.9 199.2 289.9 198.6 292.8 198.6 295.8 197.8 297.3 197.2 298.5 196.2 299.3 194.7 299.2 193.2 298.8 191.6 298 190.2 297.3 189.5 295 188.7 294.3 188.3 292.8 186.7 291.3 186.2 288.4 187 285.4 188.1 282.4 188.2 279.5 187.6 278 187.6 276.5 187.7 275 188.1 272.1 190 270.6 190.5 269.1 190.2 267.6 189.7 266.1 189.9 264.6 190.7 264.6 199.2zM274.2 197.6L272.1 197 270.8 196.2 269.9 194.7 270.1 193.2 270.6 192.9 272.1 192.5 273.5 191.9 275 190.9 276.5 190.4 278 190.4 279.5 190 282.4 190.1 285.4 189.9 288.4 189.2 291.3 188.9 294.2 190.2 295.8 190.7 297.1 191.7 297.7 193.2 297.8 194.7 297.3 195.4 296.5 196.2 294.3 197 292.8 197.3 289.9 197.3 286.9 197.5 282.4 197.2 281 197.3 278 198.2 276.5 198.3 275 197.9z" clip-path="url(#p733e21761b)" style="fill: #fb6a4a; stroke: #fb6a4a; stroke-width: 0.35"/><path d="M275 197.9L276.5 198.3 278 198.2 281 197.3 282.4 197.2 286.9 197.5 289.9 197.3 292.8 197.3 294.3 197 296.5 196.2 297.3 195.4 297.8 194.7 297.7 193.2 297.1 191.7 295.8 190.7 294.2 190.2 291.3 188.9 288.4 189.2 285.4 189.9 282.4 190.1 279.5 190 278 190.4 276.5 190.4 275 190.9 273.5 191.9 272.1 192.5 270.6 192.9 270.1 193.2 269.9 194.7 270.8 196.2 272.1 197 274.2 197.6zM286.5 196.2L285.4 195.9 283.9 194.9 283.6 194.7 283 193.2 283.9 192.3 286.9 191.1 288.4 190.7 291.3 190.6 294.3 191.8 295.8 193.2 296.1 194.7 294.3 195.9 293.6 196.2 292.8 196.3 288.4 196.4 286.9 196.2z" clip-path="url(#p733e21761b)" style="fill: #f5523b; stroke: #f5523b; stroke-width: 0.35"/><path d="M286.9 196.2L288.4 196.4 292.8 196.3 293.6 196.2 294.3 195.9 296.1 194.7 295.8 193.2 294.3 191.8 291.3 190.6 288.4 190.7 286.9 191.1 283.9 192.3 283 193.2 283.6 194.7 283.9 194.9 285.4 195.9 286.5 196.2zM288.3 194.7L287.3 193.2 288.4 192.7 289.9 192.4 291.3 192.5 292.8 192.9 293.4 193.2 293.6 194.7 292.8 195 289.9 195.3 288.4 194.7z" clip-path="url(#p733e21761b)" style="fill: #ef3b2c; stroke: #ef3b2c; stroke-width: 0.35"/><path d="M288.4 194.7L289.9 195.3 292.8 195 293.6 194.7 293.4 193.2 292.8 192.9 291.3 192.5 289.9 192.4 288.4 192.7 287.3 193.2 288.3 194.7z" clip-path="url(#p733e21761b)" style="fill: #dd2a24; stroke: #dd2a24; stroke-width: 0.35"/><path clip-path="url(#p733e21761b)" style="fill: #cb181d; stroke: #cb181d; stroke-width: 0.35"/><path clip-path="url(#p733e21761b)" style="fill: #b81419; stroke: #b81419; stroke-width: 0.35"/><path clip-path="url(#p733e21761b)" style="fill: #a50f15; stroke: #a50f15; stroke-width: 0.35"/><path clip-path="url(#p733e21761b)" style="fill: #860811; stroke: #860811; stroke-width: 0.35"/><path clip-path="url(#p733e21761b)" style="fill: #67000d; stroke: #67000d; stroke-width: 0.35"/></g><g id="QuadContourSet_17"><path d="M297.3 206.4L299.8 206.4 301.1 205.2 299.8 203.9 297.3 203.9 296 205.2z" clip-path="url(#p733e21761b)" style="fill: url(#htch)"/></g><g id="patch_56"><path d="M297.29 228.74 C 305.54 228.74 313.45 225.47 319.28 219.63 C 325.11 213.8 328.39 205.89 328.39 197.64 C 328.39 189.39 325.11 181.48 319.28 175.65 C 313.45 169.81 305.54 166.54 297.29 166.54 C 289.04 166.54 281.13 169.81 275.29 175.65 C 269.46 181.48 266.18 189.39 266.18 197.64 C 266.18 205.89 269.46 213.8 275.29 219.63 C 281.13 225.47 289.04 228.74 297.29 228.74L297.29 228.74z" clip-path="url(#p96d0b01088)" style="fill: none; stroke: #333333; stroke-width: 0.55; stroke-linejoin: miter"/></g><g id="patch_57"><path d="M315.6 196.1L319.4 197.6 315.6 199.2z" clip-path="url(#p96d0b01088)"/></g><g id="line2d_36"><path d="M297.3 197.6L316.6 197.6" clip-path="url(#p96d0b01088)" style="fill: none; stroke: #000000; stroke-opacity: 0.8; stroke-width: 0.75"/></g></g><g id="axes_18"><g id="patch_58"><path d="M330.4 226.7L334.2 226.7 334.2 168.6 330.4 168.6z" style="fill: #ffffff"/></g><g id="patch_59"><path d="M330.4 226.7L332.3 229.6 334.2 226.7" style="fill: #fff5f0"/></g><g id="patch_60"><path d="M330.4 168.6L332.3 165.7 334.2 168.6" style="fill: #67000d"/></g><g id="QuadMesh_6"><path d="M330.4 226.7L334.2 226.7 334.2 222.8 330.4 222.8 330.4 226.7" clip-path="url(#pc3ba47f74d)" style="fill: #feebe1"/><path d="M330.4 222.8L334.2 222.8 334.2 218.9 330.4 218.9 330.4 222.8" clip-path="url(#pc3ba47f74d)" style="fill: #fee0d2"/><path d="M330.4 218.9L334.2 218.9 334.2 215 330.4 215 330.4 218.9" clip-path="url(#pc3ba47f74d)" style="fill: #fdceba"/><path d="M330.4 215L334.2 215 334.2 211.2 330.4 211.2 330.4 215" clip-path="url(#pc3ba47f74d)" style="fill: #fcbba1"/><path d="M330.4 211.2L334.2 211.2 334.2 207.3 330.4 207.3 330.4 211.2" clip-path="url(#pc3ba47f74d)" style="fill: #fca68a"/><path d="M330.4 207.3L334.2 207.3 334.2 203.4 330.4 203.4 330.4 207.3" clip-path="url(#pc3ba47f74d)" style="fill: #fc9272"/><path d="M330.4 203.4L334.2 203.4 334.2 199.6 330.4 199.6 330.4 203.4" clip-path="url(#pc3ba47f74d)" style="fill: #fc7e5e"/><path d="M330.4 199.6L334.2 199.6 334.2 195.7 330.4 195.7 330.4 199.6" clip-path="url(#pc3ba47f74d)" style="fill: #fb6a4a"/><path d="M330.4 195.7L334.2 195.7 334.2 191.8 330.4 191.8 330.4 195.7" clip-path="url(#pc3ba47f74d)" style="fill: #f5523b"/><path d="M330.4 191.8L334.2 191.8 334.2 188 330.4 188 330.4 191.8" clip-path="url(#pc3ba47f74d)" style="fill: #ef3b2c"/><path d="M330.4 188L334.2 188 334.2 184.1 330.4 184.1 330.4 188" clip-path="url(#pc3ba47f74d)" style="fill: #dd2a24"/><path d="M330.4 184.1L334.2 184.1 334.2 180.2 330.4 180.2 330.4 184.1" clip-path="url(#pc3ba47f74d)" style="fill: #cb181d"/><path d="M330.4 180.2L334.2 180.2 334.2 176.4 330.4 176.4 330.4 180.2" clip-path="url(#pc3ba47f74d)" style="fill: #b81419"/><path d="M330.4 176.4L334.2 176.4 334.2 172.5 330.4 172.5 330.4 176.4" clip-path="url(#pc3ba47f74d)" style="fill: #a50f15"/><path d="M330.4 172.5L334.2 172.5 334.2 168.6 330.4 168.6 330.4 172.5" clip-path="url(#pc3ba47f74d)" style="fill: #860811"/></g><g id="matplotlib.axis_11"/><g id="matplotlib.axis_12"><g id="ytick_25"><g id="line2d_37"><g><use xlink:href="#mb71b77dcba" x="334.15" y="226.66" style="fill: #333333; stroke: #333333; stroke-width: 0.5"/></g></g><g id="text_25"><text style="font-size: 5.3px; font-family: 'Liberation Sans'; text-anchor: start; fill: #222222" x="336.65" y="228.58" transform="rotate(-0 336.652 228.576422)">0</text></g></g><g id="ytick_26"><g id="line2d_38"><g><use xlink:href="#mb71b77dcba" x="334.15" y="215.05" style="fill: #333333; stroke: #333333; stroke-width: 0.5"/></g></g><g id="text_26"><text style="font-size: 5.3px; font-family: 'Liberation Sans'; text-anchor: start; fill: #222222" x="336.65" y="216.97" transform="rotate(-0 336.652 216.970022)">3</text></g></g><g id="ytick_27"><g id="line2d_39"><g><use xlink:href="#mb71b77dcba" x="334.15" y="203.44" style="fill: #333333; stroke: #333333; stroke-width: 0.5"/></g></g><g id="text_27"><text style="font-size: 5.3px; font-family: 'Liberation Sans'; text-anchor: start; fill: #222222" x="336.65" y="205.36" transform="rotate(-0 336.652 205.363622)">6</text></g></g><g id="ytick_28"><g id="line2d_40"><g><use xlink:href="#mb71b77dcba" x="334.15" y="191.84" style="fill: #333333; stroke: #333333; stroke-width: 0.5"/></g></g><g id="text_28"><text style="font-size: 5.3px; font-family: 'Liberation Sans'; text-anchor: start; fill: #222222" x="336.65" y="193.76" transform="rotate(-0 336.652 193.757222)">9</text></g></g><g id="ytick_29"><g id="line2d_41"><g><use xlink:href="#mb71b77dcba" x="334.15" y="180.23" style="fill: #333333; stroke: #333333; stroke-width: 0.5"/></g></g><g id="text_29"><text style="font-size: 5.3px; font-family: 'Liberation Sans'; text-anchor: start; fill: #222222" x="336.65" y="182.15" transform="rotate(-0 336.652 182.150822)">12</text></g></g><g id="ytick_30"><g id="line2d_42"><g><use xlink:href="#mb71b77dcba" x="334.15" y="168.62" style="fill: #333333; stroke: #333333; stroke-width: 0.5"/></g></g><g id="text_30"><text style="font-size: 5.3px; font-family: 'Liberation Sans'; text-anchor: start; fill: #222222" x="336.65" y="170.54" transform="rotate(-0 336.652 170.544422)">15</text></g></g></g><g id="LineCollection_6"/><g id="patch_61"><path d="M330.4 226.7L332.3 229.6 334.2 226.7 334.2 168.6 332.3 165.7 330.4 168.6 330.4 226.7z" style="fill: none; stroke: #666666; stroke-width: 0.4; stroke-linejoin: miter; stroke-linecap: square"/></g></g><g id="axes_19"><g id="patch_62"><path d="M58.1 298.08 C 66.35 298.08 74.27 294.8 80.1 288.97 C 85.93 283.14 89.21 275.22 89.21 266.98 C 89.21 258.73 85.93 250.81 80.1 244.98 C 74.27 239.15 66.35 235.87 58.1 235.87 C 49.86 235.87 41.94 239.15 36.11 244.98 C 30.28 250.81 27 258.73 27 266.98 C 27 275.22 30.28 283.14 36.11 288.97 C 41.94 294.8 49.86 298.08 58.1 298.08L58.1 298.08z" clip-path="url(#p2d0c96aa93)" style="fill: none"/></g><g id="QuadContourSet_18"><path d="M78.3 299.6L90.8 299.6 90.8 234.3 63.2 234.3 64 234.9 68.2 237.2 70.8 239.1 73.5 241.4 76 244.4 78.1 247.4 79.9 250.9 80.9 253.9 82.6 259.9 83.3 264 83.6 268.8 83.5 278.3 83 284.8 82.3 288.9 81.2 292.5 80.1 295.5 78.1 299.6zM26 235L27.3 234.3 25.4 234.3 25.4 235.1z" clip-path="url(#p69bc2bda97)" style="fill: #ffc77f; stroke: #ffc77f; stroke-width: 0.35"/><path d="M72.4 299.6L78.1 299.6 80.4 294.9 82 290.1 82.8 286 83.4 280 83.6 267.6 83.3 264 82.8 260.4 81.5 255.7 79.9 250.9 78.4 248 76.5 245 74 242 70.8 239.1 68.2 237.2 64 234.9 63.2 234.3 27.3 234.3 26.3 234.9 25.4 235.1 25.4 238.9 30.2 237.4 39.1 235.2 42.7 234.5 45 234.3 47.4 234.4 49.2 234.6 52.2 235.3 56.3 236.4 59.3 237.4 61.7 238.3 63.4 239.2 65.8 240.8 67.6 242.2 69.4 244 71.2 246.2 72.7 248.6 73.6 250.3 75.1 254.5 76.6 262.2 77 265.2 77.1 268.2 77 278.9 76.7 284.2 76.4 287.2 75.7 290.7 74.7 293.7 73.7 296.1 71.8 299.6z" clip-path="url(#p69bc2bda97)" style="fill: #ffb875; stroke: #ffb875; stroke-width: 0.35"/><path d="M66.4 299.6L71.8 299.6 74 295.5 75.2 292.5 76.2 288.4 76.7 284.8 77 278.3 77.1 268.8 77 265.8 76.7 262.8 75.5 256.3 74.7 253.3 73.3 249.8 71.6 246.8 69.8 244.4 68.1 242.6 65.8 240.8 63.1 239.1 60.5 237.8 56.9 236.6 49.2 234.6 45.6 234.3 42.1 234.6 30.2 237.4 25.4 238.9 25.4 242.7 30.8 240.9 40.9 238.5 43.3 238.2 46.2 238.2 48.6 238.3 51 238.7 56.3 240.3 59.3 241.5 61.1 242.4 62.9 243.6 64.6 245.2 66.2 246.8 67.5 248.6 68.8 250.9 69.9 253.3 70.6 255.7 71.1 258.1 72.3 266.4 72.4 277.7 72 284.8 71.4 288.4 70.9 290.7 70 293.1 69.2 294.9 66.1 299.6z" clip-path="url(#p69bc2bda97)" style="fill: #ffa96b; stroke: #ffa96b; stroke-width: 0.35"/><path d="M60.5 299.6L66.1 299.6 66.4 299 68.5 296.1 70 293.1 71 290.1 71.8 286 72.1 283 72.4 277.1 72.4 268.8 72.2 265.2 70.6 255.7 69.7 252.7 67.9 249.2 66.6 247.4 65.1 245.6 63.1 243.8 61.1 242.4 59.2 241.4 55.7 240 52.2 239 49.8 238.4 47.4 238.2 45 238.1 42.7 238.3 40.3 238.6 30.2 241 25.4 242.7 25.4 246.6 30.8 244.5 40.9 242 43.3 241.7 45.6 241.6 48 241.7 50 242 55.1 243.7 59.3 245.9 61.1 247.2 62.3 248.3 63.5 249.8 64.6 251.5 66.1 254.5 67.1 257.5 68.6 266.4 68.8 269.4 68.8 276.5 68.5 282.4 67.6 287.8 66.9 290.1 66.2 291.9 65.2 293.7 64 295.4 60.6 299 60.3 299.6z" clip-path="url(#p69bc2bda97)" style="fill: #f29962; stroke: #f29962; stroke-width: 0.35"/><path d="M26 299.6L31.3 299.6 25.4 296.7 25.4 299.6zM53.9 299.6L60.3 299.6 60.6 299 63.5 296.1 65.2 293.7 66.7 290.7 67.6 287.8 68.5 281.8 68.8 276.5 68.7 267.6 67.3 258.1 66.4 255.1 65 252.1 63.9 250.3 62.3 248.3 60.6 246.8 58.9 245.6 54.5 243.5 51 242.3 48.6 241.8 44.4 241.6 40.3 242.1 30.8 244.5 25.4 246.6 25.4 250.5 31.4 247.9 40.9 245.5 42.7 245.2 45 245.1 47.4 245.1 49.2 245.4 51 245.9 53.9 247.1 57.5 249.1 59 250.3 60.2 251.5 61.2 252.7 62.3 254.5 63.4 256.9 64.2 259.3 65.8 268.2 65.8 276.5 65.5 281.2 65 284.8 64.3 287.2 63.7 288.9 62.8 290.7 61.6 292.5 60.1 294.3 58.7 295.7 54.1 299 53.5 299.6z" clip-path="url(#p69bc2bda97)" style="fill: #da8a58; stroke: #da8a58; stroke-width: 0.35"/><path d="M30.8 299.4L31.3 299.6 53.5 299.6 54.1 299 58.1 296.2 59.9 294.5 62 291.9 63.7 288.9 64.5 286.6 65.2 283.6 65.5 281.2 65.8 275.9 65.8 268.2 64.3 259.9 63.6 257.5 62.6 255.1 61.6 253.3 60.5 251.8 59 250.3 57.6 249.2 53.9 247.1 51 245.9 48.6 245.3 45.6 245.1 42.7 245.2 40.3 245.6 32 247.7 29.6 248.6 25.4 250.5 25.4 254.8 29 252.7 32 251.4 42.1 248.8 45 248.5 48 248.7 49.8 249.2 52.8 250.5 55.5 252.1 57.1 253.3 58.7 255 59.9 256.8 60.8 258.7 61.7 261 63.2 268.8 63.3 276.5 62.9 280.6 62.2 284.2 61.3 286.6 60.4 288.4 58.7 290.7 57 292.5 53.4 295.3 50.4 296.9 48 297.7 45 297.9 42.1 297.7 32.6 296 29.6 294.9 25.4 292.3 25.4 296.7 30.3 299z" clip-path="url(#p69bc2bda97)" style="fill: #c27b4e; stroke: #c27b4e; stroke-width: 0.35"/><path d="M43.3 297.9L46.8 297.8 48.6 297.5 49.8 297.1 53.4 295.3 55.6 293.7 57.6 291.9 60 288.9 61.1 287.2 61.8 285.4 62.8 281.2 63.3 276.5 63.3 269.9 63.1 268.2 61.7 261 60.8 258.7 59.9 256.8 58.7 255.1 57.5 253.7 56.3 252.7 54.5 251.5 52.8 250.5 49.8 249.2 46.8 248.6 44.4 248.5 42.1 248.8 33.2 251 29.6 252.4 25.4 254.8 25.4 259.6 29.6 256.3 32 255.1 33.8 254.4 43.3 252.1 45.6 252 48 252.3 49.8 252.9 52.2 254 55.4 256.3 56.3 257.2 57.5 258.7 59.1 261.6 59.7 263.4 61.1 269.9 61.1 275.3 60.5 280.6 59.7 283.6 58.4 286 55.9 288.9 52.8 291.7 50.4 293.1 48 294.1 45.6 294.4 42.1 294.2 34.4 292.9 32 292.2 29.4 290.7 26 287.8 25.4 287.4 25.4 292.3 28.5 294.3 30.8 295.4 33.2 296.2 43.2 297.9z" clip-path="url(#p69bc2bda97)" style="fill: #aa6b44; stroke: #aa6b44; stroke-width: 0.35"/><path d="M42.7 294.3L46.2 294.4 48 294.1 49.2 293.7 52.4 291.9 55.9 288.9 58.4 286 59.7 283.6 60.6 280 61.1 275.9 61.2 270.5 60.9 268.8 59.5 262.8 58.8 261 57.9 259.3 56.9 257.9 55.7 256.6 52.8 254.4 49.2 252.6 46.8 252.1 44.4 252 42.7 252.2 33.2 254.6 30.8 255.7 29 256.7 25.4 259.6 25.4 265.3 26 264.8 28.4 261.9 29.8 260.4 31.4 259.3 33.2 258.4 34.9 257.7 42.7 255.7 44.4 255.5 46.2 255.5 48.6 256 52.2 257.9 55.1 260.3 56.2 261.6 56.9 262.8 57.7 264.6 59 269.4 59.2 270.5 59.2 275.3 58.6 279.4 57.9 281.8 57.2 283 56.3 284.1 53.4 287.1 50.4 289.3 48.6 290.3 47.4 290.7 45 291 42.7 290.8 34.4 289.4 32.1 288.4 30.2 286.9 28.4 285.1 26 281.9 25.4 281.3 25.4 287.4 26 287.8 29 290.5 31.4 291.9 33.8 292.8 42.5 294.3z" clip-path="url(#p69bc2bda97)" style="fill: #915c3b; stroke: #915c3b; stroke-width: 0.35"/><path d="M42.7 290.8L45.6 291 48 290.5 51 289 54.5 286 56.8 283.6 57.9 281.8 58.6 279.4 59.1 275.9 59.1 269.9 57.5 264.2 56.3 261.8 54.5 259.7 51.6 257.6 48.6 256 46.8 255.5 45 255.4 43.3 255.6 35.5 257.5 33.8 258.1 31.4 259.3 29.8 260.4 28.4 261.9 26 264.8 25.4 265.3 25.4 281.3 26 281.9 28.6 285.4 30.4 287.2 32.1 288.4 33.2 288.9 34.9 289.5 42.2 290.7zM42.2 287.2L35.2 286 33.8 285.3 32 283.9 30.2 281.8 27 276.5 26.5 275.3 26.2 274.1 26.3 271.7 27 269.9 28.9 267 31.2 264 33.2 262.3 34.9 261.4 36.1 260.9 43.3 259.1 45 258.9 46.8 259 48 259.4 51 260.9 53.9 262.9 55.1 264.3 55.9 265.8 57.4 270.5 57.4 275.3 56.9 278.3 56.3 280.1 55.6 281.2 53.9 282.8 50.4 285.6 47.4 287.2 46.2 287.5 45 287.5 42.7 287.3z" clip-path="url(#p69bc2bda97)" style="fill: #794d31; stroke: #794d31; stroke-width: 0.35"/><path d="M42.7 287.3L45 287.5 46.2 287.5 47.4 287.2 50.4 285.6 53.9 282.8 55.6 281.2 56.3 280.1 56.9 278.3 57.4 275.3 57.4 270.5 55.9 265.8 55.1 264.3 53.9 262.9 51 260.9 48 259.4 46.8 259 45 258.9 43.3 259.1 36.1 260.9 34.9 261.4 33.2 262.3 31.2 264 28.9 267 27 269.9 26.3 271.7 26.2 274.1 26.5 275.3 27 276.5 30.2 281.8 32 283.9 33.8 285.3 35.2 286 42.2 287.2zM42.3 283.6L36.7 282.8 35.7 282.4 34.9 281.8 33.2 280 30.3 275.3 29.8 274.1 29.8 272.3 30.3 271.1 31.5 269.4 33.7 266.4 35.1 265.2 37.3 264.2 44.4 262.5 45.6 262.4 46.8 262.5 52.8 265.1 53.9 266.3 55.5 269.9 55.9 271.1 55.9 274.7 55.1 278.3 54.4 279.4 53.4 280.3 49.2 282.7 46.8 283.8 45 284.1 42.7 283.7z" clip-path="url(#p69bc2bda97)" style="fill: #613d27; stroke: #613d27; stroke-width: 0.35"/><path d="M42.7 283.7L45 284.1 46.8 283.8 49.2 282.7 53.4 280.3 54.4 279.4 55.1 278.3 55.9 274.7 55.9 271.1 55.5 269.9 53.9 266.3 52.8 265.1 46.8 262.5 45.6 262.4 44.4 262.5 37.3 264.2 35.1 265.2 33.7 266.4 31.5 269.4 30.3 271.1 29.8 272.3 29.8 274.1 30.3 275.3 33.2 280 34.9 281.8 35.7 282.4 36.7 282.8 42.3 283.6zM43.4 280.6L40.9 280.4 39.7 280 37.9 279.9 37.3 279.8 36.7 279.4 36.1 278.9 34.5 276.5 33.6 274.7 32.8 273.5 32.8 272.9 33.2 272.3 36.1 268.2 37.9 267.2 39.1 267 40.3 266.6 41.5 266.4 42.7 266 43.9 265.8 45.6 265.3 46.8 265.4 48 265.9 49.8 266.1 51 266.6 52.2 266.8 53 267.6 54.7 271.1 54.8 271.7 54.7 274.7 54.4 275.3 54.1 277.1 53.5 278.3 52.2 279.1 48.6 280.4 47.4 280.6 46.2 281 45 281.1 43.9 280.8z" clip-path="url(#p69bc2bda97)" style="fill: #492e1d; stroke: #492e1d; stroke-width: 0.35"/><path d="M43.9 280.8L45 281.1 46.2 281 47.4 280.6 48.6 280.4 52.2 279.1 53.5 278.3 54.1 277.1 54.4 275.3 54.7 274.7 54.8 271.7 54.7 271.1 53 267.6 52.2 266.8 51 266.6 49.8 266.1 48 265.9 46.8 265.4 45.6 265.3 43.9 265.8 42.7 266 41.5 266.4 40.3 266.6 39.1 267 37.9 267.2 36.1 268.2 33.2 272.3 32.8 272.9 32.8 273.5 33.6 274.7 34.5 276.5 36.1 278.9 36.7 279.4 37.3 279.8 37.9 279.9 39.7 280 40.9 280.4 43.4 280.6z" clip-path="url(#p69bc2bda97)" style="fill: #301f14; stroke: #301f14; stroke-width: 0.35"/><path clip-path="url(#p69bc2bda97)" style="fill: #180f0a; stroke: #180f0a; stroke-width: 0.35"/><path clip-path="url(#p69bc2bda97)" style="stroke: #000000; stroke-width: 0.35"/></g><g id="patch_63"><path d="M58.1 298.08 C 66.35 298.08 74.27 294.8 80.1 288.97 C 85.93 283.14 89.21 275.22 89.21 266.98 C 89.21 258.73 85.93 250.81 80.1 244.98 C 74.27 239.15 66.35 235.87 58.1 235.87 C 49.86 235.87 41.94 239.15 36.11 244.98 C 30.28 250.81 27 258.73 27 266.98 C 27 275.22 30.28 283.14 36.11 288.97 C 41.94 294.8 49.86 298.08 58.1 298.08L58.1 298.08z" clip-path="url(#p2d0c96aa93)" style="fill: none; stroke: #333333; stroke-width: 0.55; stroke-linejoin: miter"/></g><g id="patch_64"><path d="M76.5 265.4L80.2 267 76.5 268.5z" clip-path="url(#p2d0c96aa93)"/></g><g id="line2d_43"><path d="M58.1 267L77.4 267" clip-path="url(#p2d0c96aa93)" style="fill: none; stroke: #000000; stroke-opacity: 0.8; stroke-width: 0.75"/></g></g><g id="axes_20"><g id="patch_65"><path d="M19.4 296L23.3 296 23.3 238 19.4 238z" style="fill: #ffffff"/></g><g id="patch_66"><path d="M19.4 296L21.4 298.9 23.3 296" style="fill: #ffc77f"/></g><g id="patch_67"><path d="M19.4 238L21.4 235.1 23.3 238"/></g><g id="QuadMesh_7"><path d="M19.4 296L23.3 296 23.3 291.2 19.4 291.2 19.4 296" clip-path="url(#pd155d8a4e2)" style="fill: #ffb875"/><path d="M19.4 291.2L23.3 291.2 23.3 286.3 19.4 286.3 19.4 291.2" clip-path="url(#pd155d8a4e2)" style="fill: #ffa96b"/><path d="M19.4 286.3L23.3 286.3 23.3 281.5 19.4 281.5 19.4 286.3" clip-path="url(#pd155d8a4e2)" style="fill: #f29962"/><path d="M19.4 281.5L23.3 281.5 23.3 276.6 19.4 276.6 19.4 281.5" clip-path="url(#pd155d8a4e2)" style="fill: #da8a58"/><path d="M19.4 276.6L23.3 276.6 23.3 271.8 19.4 271.8 19.4 276.6" clip-path="url(#pd155d8a4e2)" style="fill: #c27b4e"/><path d="M19.4 271.8L23.3 271.8 23.3 267 19.4 267 19.4 271.8" clip-path="url(#pd155d8a4e2)" style="fill: #aa6b44"/><path d="M19.4 267L23.3 267 23.3 262.1 19.4 262.1 19.4 267" clip-path="url(#pd155d8a4e2)" style="fill: #915c3b"/><path d="M19.4 262.1L23.3 262.1 23.3 257.3 19.4 257.3 19.4 262.1" clip-path="url(#pd155d8a4e2)" style="fill: #794d31"/><path d="M19.4 257.3L23.3 257.3 23.3 252.5 19.4 252.5 19.4 257.3" clip-path="url(#pd155d8a4e2)" style="fill: #613d27"/><path d="M19.4 252.5L23.3 252.5 23.3 247.6 19.4 247.6 19.4 252.5" clip-path="url(#pd155d8a4e2)" style="fill: #492e1d"/><path d="M19.4 247.6L23.3 247.6 23.3 242.8 19.4 242.8 19.4 247.6" clip-path="url(#pd155d8a4e2)" style="fill: #301f14"/><path d="M19.4 242.8L23.3 242.8 23.3 238 19.4 238 19.4 242.8" clip-path="url(#pd155d8a4e2)" style="fill: #180f0a"/></g><g id="matplotlib.axis_13"/><g id="matplotlib.axis_14"><g id="ytick_31"><g id="line2d_44"><g><use xlink:href="#m5957307a2c" x="19.44" y="295.99" style="fill: #333333; stroke: #333333; stroke-width: 0.5"/></g></g><g id="text_31"><text style="font-size: 5.3px; font-family: 'Liberation Sans'; text-anchor: end; fill: #222222" x="17.14" y="297.91" transform="rotate(-0 17.14 297.912422)">12</text></g></g><g id="ytick_32"><g id="line2d_45"><g><use xlink:href="#m5957307a2c" x="19.44" y="286.32" style="fill: #333333; stroke: #333333; stroke-width: 0.5"/></g></g><g id="text_32"><text style="font-size: 5.3px; font-family: 'Liberation Sans'; text-anchor: end; fill: #222222" x="17.14" y="288.24" transform="rotate(-0 17.14 288.240422)">13</text></g></g><g id="ytick_33"><g id="line2d_46"><g><use xlink:href="#m5957307a2c" x="19.44" y="276.65" style="fill: #333333; stroke: #333333; stroke-width: 0.5"/></g></g><g id="text_33"><text style="font-size: 5.3px; font-family: 'Liberation Sans'; text-anchor: end; fill: #222222" x="17.14" y="278.57" transform="rotate(-0 17.14 278.568422)">14</text></g></g><g id="ytick_34"><g id="line2d_47"><g><use xlink:href="#m5957307a2c" x="19.44" y="266.98" style="fill: #333333; stroke: #333333; stroke-width: 0.5"/></g></g><g id="text_34"><text style="font-size: 5.3px; font-family: 'Liberation Sans'; text-anchor: end; fill: #222222" x="17.14" y="268.9" transform="rotate(-0 17.14 268.896422)">15</text></g></g><g id="ytick_35"><g id="line2d_48"><g><use xlink:href="#m5957307a2c" x="19.44" y="257.3" style="fill: #333333; stroke: #333333; stroke-width: 0.5"/></g></g><g id="text_35"><text style="font-size: 5.3px; font-family: 'Liberation Sans'; text-anchor: end; fill: #222222" x="17.14" y="259.22" transform="rotate(-0 17.14 259.224422)">16</text></g></g><g id="ytick_36"><g id="line2d_49"><g><use xlink:href="#m5957307a2c" x="19.44" y="247.63" style="fill: #333333; stroke: #333333; stroke-width: 0.5"/></g></g><g id="text_36"><text style="font-size: 5.3px; font-family: 'Liberation Sans'; text-anchor: end; fill: #222222" x="17.14" y="249.55" transform="rotate(-0 17.14 249.552422)">17</text></g></g><g id="ytick_37"><g id="line2d_50"><g><use xlink:href="#m5957307a2c" x="19.44" y="237.96" style="fill: #333333; stroke: #333333; stroke-width: 0.5"/></g></g><g id="text_37"><text style="font-size: 5.3px; font-family: 'Liberation Sans'; text-anchor: end; fill: #222222" x="17.14" y="239.88" transform="rotate(-0 17.14 239.880422)">18</text></g></g></g><g id="LineCollection_7"/><g id="patch_68"><path d="M19.4 296L21.4 298.9 23.3 296 23.3 238 21.4 235.1 19.4 238 19.4 296z" style="fill: none; stroke: #666666; stroke-width: 0.4; stroke-linejoin: miter; stroke-linecap: square"/></g></g><g id="axes_21"><g id="patch_69"><path d="M133.34 298.08 C 141.59 298.08 149.51 294.8 155.34 288.97 C 161.17 283.14 164.45 275.22 164.45 266.98 C 164.45 258.73 161.17 250.81 155.34 244.98 C 149.51 239.15 141.59 235.87 133.34 235.87 C 125.1 235.87 117.18 239.15 111.35 244.98 C 105.52 250.81 102.24 258.73 102.24 266.98 C 102.24 275.22 105.52 283.14 111.35 288.97 C 117.18 294.8 125.1 298.08 133.34 298.08L133.34 298.08z" clip-path="url(#p1afbb41712)" style="fill: none"/></g><g id="QuadContourSet_19"><path clip-path="url(#p059833657a)" style="fill: #2d004b; stroke: #2d004b; stroke-width: 0.35"/><path clip-path="url(#p059833657a)" style="fill: #44176f; stroke: #44176f; stroke-width: 0.35"/><path clip-path="url(#p059833657a)" style="fill: #5c348e; stroke: #5c348e; stroke-width: 0.35"/><path clip-path="url(#p059833657a)" style="fill: #7661a4; stroke: #7661a4; stroke-width: 0.35"/><path clip-path="url(#p059833657a)" style="fill: #9287b9; stroke: #9287b9; stroke-width: 0.35"/><path clip-path="url(#p059833657a)" style="fill: #afa8d0; stroke: #afa8d0; stroke-width: 0.35"/><path d="M101 298.2L100.8 296.7 100.7 296.4 100.7 299.6 101.3 299.6zM120 296.8L121.5 296.9 123 296.3 124.4 296 125.9 296.2 127.4 295.9 128.9 295.4 130.4 295.3 131.9 294.4 132.1 293.7 130.7 290.7 130.3 289.2 129.3 287.8 127.7 286.3 127.2 284.8 126.3 283.3 124.2 281.8 123 281.2 120 280.3 118.5 280.5 116.7 281.8 117.1 283.3 117.1 284.8 116.6 286.3 116.4 290.7 116.1 292.2 115.4 293.7 115.5 294 116.8 295.2 119.7 296.7z" clip-path="url(#p059833657a)" style="fill: #c6c4df; stroke: #c6c4df; stroke-width: 0.35"/><path d="M102.2 299.6L143.7 299.6 142.8 298.2 142.3 297.9 140.8 295.9 139.3 293.5 137.8 292.8 136.3 292.9 133.3 290.7 132.2 289.2 130.9 286.3 129.4 284.8 128.6 281.8 127.4 281 125.9 280.7 124.4 279.7 123 279.2 122.4 278.9 120.8 277.4 120 276 118.5 274.9 117.2 274.4 114 273.7 112.8 272.9 111.8 269.9 111.1 268.9 110.4 268.5 109 267 109.6 265.9 110.5 265.5 111.1 265.4 112.6 265.7 113.8 265.5 114 265.3 114.3 264 113.3 262.5 109.6 260.3 107.9 261 107.7 262.5 107.8 264 106.6 264.7 105.1 264.7 103.7 263.8 102.4 262.5 102.5 261 103.6 259.6 103.2 258.1 102.6 256.6 103.1 255.1 105.2 252.1 105.7 249.2 106.6 247.9 108.1 246.3 109.6 243.1 113 240.3 114.2 238.8 114.9 237.3 115.5 236.6 116.8 235.8 117 235.7 120 235.4 123.5 234.3 101 234.3 100.7 234.6 100.7 241.2 102.3 241.7 100.7 243.1 100.7 271.1 101.3 271.4 100.7 271.8 100.7 296.4 100.8 296.7 101.3 299.6zM119.7 296.7L116.8 295.2 115.5 294 115.4 293.7 116.1 292.2 116.4 290.7 116.6 286.3 117.1 284.8 117.1 283.3 116.7 281.8 118.5 280.5 120 280.3 123 281.2 124.2 281.8 126.3 283.3 127.2 284.8 127.7 286.3 129.3 287.8 130.3 289.2 130.7 290.7 132.1 293.7 131.9 294.4 130.4 295.3 128.9 295.4 127.4 295.9 125.9 296.2 124.4 296 123 296.3 121.5 296.9 120 296.8zM158.6 299.6L166 299.6 166 298.6 164.5 298.7 161.5 299.4 158.6 299 157.9 299.6zM166 251.7L166 234.3 152.9 234.3 154.1 235.6 155.6 237.7 157.1 239.2 158.6 239.7 160.1 239.9 160.4 240.3 159.9 241.7 159.7 243.2 160.1 244.4 161.5 246.5 162.9 247.7 164 249.2 164.5 250.1 165.1 250.6z" clip-path="url(#p059833657a)" style="fill: #dcddec; stroke: #dcddec; stroke-width: 0.35"/><path d="M143.7 299.6L157.9 299.6 158.6 299 161.5 299.4 164.5 298.7 166 298.6 165.9 292.2 166 288.4 161.5 290 160.3 290.7 160.1 291.2 158.8 292.2 158.6 292.5 157.1 292.8 154.1 293.9 152.6 294.1 151.8 293.7 151.2 293 149.7 292.2 146.7 292.3 143.7 292.7 143.3 292.2 142.9 290.7 142.3 289.7 140.8 289.7 139.3 289.9 138.1 289.2 137.8 289.1 136.3 286.6 134.9 284.8 133.3 284.3 131.9 283.3 131.1 278.9 130.4 278.2 128.3 277.4 125.8 275.9 125.3 274.4 123.1 271.4 123 269.9 121.5 269.2 120 268.8 118.5 267 117.7 265.5 118.5 263 118.9 262.5 118.5 262.2 118 261 117.5 259.6 116.5 258.1 115 256.6 112.6 255.4 111.1 254.9 110.6 255.1 109.6 257.1 108.1 257.7 105.9 255.1 106.1 253.6 106.7 252.1 107 250.6 108.2 249.2 110.4 244.7 111.6 243.2 115 240.3 117 238 118.7 237.3 125.9 234.9 127.4 234.7 131.9 234.7 134.8 234.4 139.3 234.6 140.8 234.8 142.3 234.7 143.8 234.3 123.5 234.3 120 235.4 117 235.7 115.5 236.6 114.9 237.3 114.2 238.8 113 240.3 109.6 243.1 108.1 246.3 106.6 247.9 105.7 249.2 105.2 252.1 103.1 255.1 102.6 256.6 103.2 258.1 103.6 259.6 102.5 261 102.4 262.5 103.7 263.8 105.1 264.7 106.6 264.7 107.8 264 107.7 262.5 107.9 261 109.6 260.3 113.3 262.5 114.3 264 114 265.3 113.8 265.5 112.6 265.7 111.1 265.4 110.5 265.5 109.6 265.9 109 267 110.4 268.5 111.1 268.9 111.8 269.9 112.8 272.9 114 273.7 117.2 274.4 118.5 274.9 120 276 120.8 277.4 122.4 278.9 123 279.2 124.4 279.7 125.9 280.7 127.4 281 128.6 281.8 129.4 284.8 130.9 286.3 132.2 289.2 133.3 290.7 136.3 292.9 137.8 292.8 139.3 293.5 141.3 296.7 142.3 297.9 142.8 298.2zM101.3 271.4L100.7 271.1 100.7 271.4 100.7 271.8zM166 253.9L166 251.7 164.5 250.1 164 249.2 162.9 247.7 161.5 246.5 160.1 244.4 159.7 243.2 159.9 241.7 160.4 240.3 160.1 239.9 158.6 239.7 157.1 239.2 155.6 237.7 154.1 235.6 152.9 234.3 150.6 234.3 151.2 234.5 154.1 237.5 156.4 240.3 158.5 243.2 160.1 245.9 162.5 249.2 163 250.2 164.4 252.1 165.8 253.6zM102.2 241.8L102.3 241.7 102.2 241.6 100.7 241.2 100.7 243.1zM101 234.3L100.7 234.3 100.7 234.6zM148.2 234.4L148.7 234.3 148.2 234.3 147.1 234.3z" clip-path="url(#p059833657a)" style="fill: #eeeef3; stroke: #eeeef3; stroke-width: 0.35"/><path d="M152.6 294.1L154.1 293.9 157.1 292.8 158.6 292.5 158.8 292.2 160.1 291.2 160.3 290.7 161.5 290 166 288.4 166 284.3 163 285.2 161.5 285 160.1 285.4 158.6 286.8 157.2 287.8 154.1 289.4 152.6 288.4 151.2 288.8 149.7 288.3 148.2 287.5 146.7 287.2 143.7 286.2 141.7 284.8 141 283.3 139 281.8 138.1 280.3 137.7 277.4 134.7 275.9 129.5 269.9 128.9 269.4 127.4 268.9 126.4 267 124.4 265.3 122.6 262.5 122.2 259.6 121.5 258.3 120 256.6 117 255.7 115.5 254.9 112.3 253.6 111.2 252.1 111.3 250.6 110.7 247.7 111.1 246.2 112.1 244.7 113.4 243.2 115.5 241.3 117 240.2 118.5 239.2 121.5 237.6 125.9 236.1 127.4 235.8 133.3 235.4 134.8 235.2 139.3 235.3 140.8 235.6 142.3 235.6 143.7 235.2 145.2 235.1 148.2 235.6 149.7 235.6 151.2 236.1 152.6 237.1 154.1 238.5 157.7 243.2 160.1 247 161.6 249.2 163 251.7 165.4 255.1 166 257.2 166 253.9 164.4 252.1 163 250.2 162.5 249.2 160.1 245.9 158.5 243.2 156.4 240.3 154.1 237.5 151.2 234.5 150.6 234.3 148.7 234.3 148.2 234.4 143.8 234.3 142.3 234.7 140.8 234.8 139.3 234.6 134.8 234.4 131.9 234.7 127.4 234.7 125.9 234.9 118.7 237.3 117 238 115 240.3 111.6 243.2 110.4 244.7 108.2 249.2 107 250.6 106.7 252.1 106.1 253.6 105.9 255.1 108.1 257.7 109.6 257.1 110.6 255.1 111.1 254.9 112.6 255.4 115 256.6 116.5 258.1 117.5 259.6 118 261 118.5 262.2 118.9 262.5 118.5 263 117.7 265.5 118.5 267 120 268.8 121.5 269.2 123 269.9 123.1 271.4 125.3 274.4 125.8 275.9 128.3 277.4 130.4 278.2 131.1 278.9 131.9 283.3 133.3 284.3 134.9 284.8 136.3 286.6 137.8 289.1 139.3 289.9 140.8 289.7 142.3 289.7 142.9 290.7 143.3 292.2 143.7 292.7 146.7 292.3 149.7 292.2 151.2 293 151.8 293.7zM166 292.4L166 292.2 166 292.1 165.9 292.2z" clip-path="url(#p059833657a)" style="fill: #f9f0e4; stroke: #f9f0e4; stroke-width: 0.35"/><path d="M154.1 289.4L157.2 287.8 158.6 286.8 160.1 285.4 161.5 285 163 285.2 166 284.3 166 257.2 165.4 255.1 163 251.7 161.6 249.2 160.1 247 157.7 243.2 154.3 238.8 152.6 237.1 151.2 236.1 149.7 235.6 148.2 235.6 145.2 235.1 143.7 235.2 142.3 235.6 140.8 235.6 139.3 235.3 134.8 235.2 133.3 235.4 127.4 235.8 125.9 236.1 121.5 237.6 120 238.4 117 240.2 115.5 241.3 113.4 243.2 112.1 244.7 111.1 246.2 110.7 247.7 111.3 250.6 111.2 252.1 112.3 253.6 115.5 254.9 117 255.7 120 256.6 121.5 258.3 122.2 259.6 122.6 262.5 124.4 265.3 126.4 267 127.4 268.9 128.9 269.4 129.5 269.9 134.7 275.9 137.7 277.4 138.1 280.3 139.3 282.1 141 283.3 141.7 284.8 143.7 286.2 145.2 286.8 148.2 287.5 149.7 288.3 151.2 288.8 152.6 288.4 153.9 289.2zM155 284.8L154.1 284.3 152.6 283.9 151.2 282.9 149.7 281.3 148.2 281 146.7 280.3 145.2 279.2 143.2 277.4 142.7 275.9 142.6 274.4 142.3 273.9 140.8 273.1 139.3 272.7 137.8 271.6 137 269.9 136.3 269 135.8 268.5 131.9 266.2 130.2 265.5 128.5 264 127.5 262.5 127 261 124.4 259.2 123 257.6 121.5 255.7 120 254.6 118.5 254.5 117 253.9 116.6 253.6 115.5 252.1 114 250.9 113.2 249.2 113.1 247.7 115.6 243.2 117.1 241.7 120 239.7 121.5 239 124.4 238 125.9 237.2 128.9 236.6 134.8 236 139.3 236 142.3 236.3 145.2 236 149.7 236.6 151.2 237.1 152.6 238 154.1 239.5 158 244.7 160.8 249.2 163.4 253.6 164.1 255.1 164.5 257 165.4 259.6 165.7 261 165.5 265.5 165.1 269.9 164 274.4 163.9 275.9 164.2 277.4 164.2 278.9 162.5 280.3 161.3 281.8 160.1 283 157.1 285.3 155.6 285.3z" clip-path="url(#p059833657a)" style="fill: #fde3be; stroke: #fde3be; stroke-width: 0.35"/><path d="M155.6 285.3L157.1 285.3 160.1 283 161.3 281.8 162.5 280.3 164.2 278.9 164.2 277.4 163.9 275.9 164 274.4 165.1 269.9 165.5 265.5 165.7 261 165.4 259.6 164.5 257 164.1 255.1 163.4 253.6 160.8 249.2 158 244.7 154.1 239.5 152.6 238 151.2 237.1 149.7 236.6 145.2 236 142.3 236.3 139.3 236 134.8 236 128.9 236.6 125.9 237.2 124.4 238 121.5 239 120 239.7 117.1 241.7 115.6 243.2 113.1 247.7 113.2 249.2 114 250.9 115.5 252.1 116.6 253.6 117 253.9 118.5 254.5 120 254.6 121.5 255.7 123 257.6 124.4 259.2 127 261 127.5 262.5 128.5 264 130.2 265.5 131.9 266.2 135.8 268.5 136.3 269 137 269.9 137.8 271.6 139.3 272.7 140.8 273.1 142.3 273.9 142.6 274.4 142.7 275.9 143.2 277.4 145.2 279.2 146.7 280.3 148.2 281 149.7 281.3 151.2 282.9 152.6 283.9 154.1 284.3 155 284.8zM154.7 275.9L154.1 275.6 152.6 275.1 151.2 274.2 148.2 273.8 145.2 271.5 143.7 270.8 142.8 269.9 142 268.5 138.4 265.5 137.5 264 132.3 258.1 130.4 256.4 128.9 255.8 128.5 255.1 128.6 253.6 128.9 253.4 130.4 253.3 131.5 252.1 130.9 250.6 130.4 249.8 129.5 249.2 130 246.2 129.1 244.7 125.9 243.4 124.4 241.9 123 242.4 122.3 243.2 122.6 244.7 123.5 246.2 124.3 249.2 123 249.6 121.5 248.4 120.8 247.7 119.9 246.2 119.7 244.7 120.3 243.2 120.2 241.7 121.4 240.3 124.4 239.9 125.6 238.8 128.9 237.8 130 237.3 134.8 236.7 139.3 236.6 142.3 236.9 143.7 236.7 145.2 236.8 148.2 237.1 151.2 238 152.6 238.8 154.1 240.4 157.1 244.4 159 247.7 160.1 249.2 161.5 251.8 163.1 255.1 163.9 259.6 163.9 261 163.5 264 163.8 267 163.7 268.5 163 271.3 162.1 272.9 160.4 274.4 158.6 275.2 157.1 276.6 155.6 276.5z" clip-path="url(#p059833657a)" style="fill: #fecd8f; stroke: #fecd8f; stroke-width: 0.35"/><path d="M155.6 276.5L157.1 276.6 158.6 275.2 160.4 274.4 162.1 272.9 163 271.3 163.7 268.5 163.8 267 163.5 264 163.9 261 163.9 259.6 163.1 255.1 161.5 251.8 160.1 249.2 159 247.7 157.1 244.4 154.1 240.4 152.6 238.8 151.2 238 148.2 237.1 145.2 236.8 143.7 236.7 142.3 236.9 139.3 236.6 134.8 236.7 130 237.3 128.9 237.8 125.6 238.8 124.4 239.9 121.4 240.3 120.2 241.7 120.3 243.2 119.7 244.7 119.9 246.2 120.8 247.7 121.5 248.4 123 249.6 124.3 249.2 123.5 246.2 122.6 244.7 122.3 243.2 123 242.4 124.4 241.9 125.9 243.4 129.1 244.7 130 246.2 129.5 249.2 130.4 249.8 130.9 250.6 131.5 252.1 130.4 253.3 128.9 253.4 128.6 253.6 128.5 255.1 128.9 255.8 130.4 256.4 132.3 258.1 137.5 264 138.4 265.5 142 268.5 142.8 269.9 143.7 270.8 145.2 271.5 148.2 273.8 151.2 274.2 152.6 275.1 154.1 275.6 154.7 275.9zM154.3 268.5L151.2 267.7 149.7 266.6 146.7 265.5 145.2 264.6 144.6 264 143.7 262.6 142.1 261 140.8 258.6 139.4 256.6 139.6 255.1 139 253.6 138 252.1 137.5 250.6 136.3 249.6 133.3 247.4 132.9 246.2 132.7 244.7 132.6 241.7 132.9 238.8 133.3 238.5 134.8 238.3 136.3 238.5 138.9 237.3 139.3 237.2 142.3 238.3 143.7 238.1 145.2 238.3 148.2 238.1 150.7 238.8 152.6 240.1 154.1 241.8 154.9 243.2 157.1 245.8 158.7 249.2 160.1 251 160.5 252.1 161.4 253.6 161.9 256.6 162.3 258.1 162.5 259.6 162.2 261 159.4 267 157.1 268.5 155.6 268.9zM143.7 241.8L144.9 240.3 143.7 239.7 142.9 240.3 143.6 241.7z" clip-path="url(#p059833657a)" style="fill: #fbb55e; stroke: #fbb55e; stroke-width: 0.35"/><path d="M155.6 268.9L157.1 268.5 159.4 267 162.2 261 162.5 259.6 162.3 258.1 161.9 256.6 161.4 253.6 160.5 252.1 160.1 251 158.7 249.2 157.1 245.8 154.9 243.2 154.1 241.8 152.6 240.1 150.7 238.8 148.2 238.1 145.2 238.3 143.7 238.1 142.3 238.3 139.3 237.2 138.9 237.3 136.3 238.5 134.8 238.3 133.3 238.5 132.9 238.8 132.6 241.7 132.7 244.7 132.9 246.2 133.3 247.4 136.3 249.6 137.5 250.6 138 252.1 139 253.6 139.6 255.1 139.4 256.6 140.8 258.6 142.1 261 143.7 262.6 144.6 264 145.2 264.6 146.7 265.5 149.7 266.6 151.2 267.7 154.3 268.5zM143.6 241.7L142.9 240.3 143.7 239.7 144.9 240.3 143.7 241.8z" clip-path="url(#p059833657a)" style="fill: #ea9530; stroke: #ea9530; stroke-width: 0.35"/><path clip-path="url(#p059833657a)" style="fill: #d57811; stroke: #d57811; stroke-width: 0.35"/><path clip-path="url(#p059833657a)" style="fill: #bb5f08; stroke: #bb5f08; stroke-width: 0.35"/><path clip-path="url(#p059833657a)" style="fill: #9e4c07; stroke: #9e4c07; stroke-width: 0.35"/><path clip-path="url(#p059833657a)" style="fill: #7f3b08; stroke: #7f3b08; stroke-width: 0.35"/></g><g id="QuadContourSet_20"><path d="M103.2 299.6L166 299.6 166 234.3 100.7 234.3 100.7 299.6z" clip-path="url(#p059833657a)" style="fill: url(#htch)"/></g><g id="patch_70"><path d="M133.34 298.08 C 141.59 298.08 149.51 294.8 155.34 288.97 C 161.17 283.14 164.45 275.22 164.45 266.98 C 164.45 258.73 161.17 250.81 155.34 244.98 C 149.51 239.15 141.59 235.87 133.34 235.87 C 125.1 235.87 117.18 239.15 111.35 244.98 C 105.52 250.81 102.24 258.73 102.24 266.98 C 102.24 275.22 105.52 283.14 111.35 288.97 C 117.18 294.8 125.1 298.08 133.34 298.08L133.34 298.08z" clip-path="url(#p1afbb41712)" style="fill: none; stroke: #333333; stroke-width: 0.55; stroke-linejoin: miter"/></g><g id="patch_71"><path d="M151.7 265.4L155.4 267 151.7 268.5z" clip-path="url(#p1afbb41712)"/></g><g id="line2d_51"><path d="M133.3 267L152.6 267" clip-path="url(#p1afbb41712)" style="fill: none; stroke: #000000; stroke-opacity: 0.8; stroke-width: 0.75"/></g></g><g id="axes_22"><g id="patch_72"><path d="M222.05 298.08 C 230.3 298.08 238.21 294.8 244.04 288.97 C 249.87 283.14 253.15 275.22 253.15 266.98 C 253.15 258.73 249.87 250.81 244.04 244.98 C 238.21 239.15 230.3 235.87 222.05 235.87 C 213.8 235.87 205.89 239.15 200.05 244.98 C 194.22 250.81 190.94 258.73 190.94 266.98 C 190.94 275.22 194.22 283.14 200.05 288.97 C 205.89 294.8 213.8 298.08 222.05 298.08L222.05 298.08z" clip-path="url(#p42af1015e5)" style="fill: none"/></g><g id="QuadContourSet_21"><path d="M240.5 299.6L254.7 299.6 254.7 234.3 243.1 234.3 243.4 234.9 246.4 238.6 248.2 241.4 250.6 245.9 252.1 249.8 253.2 253.9 253.9 258.1 254.1 261.6 254 267.6 253.7 269.9 252.5 277.1 251.4 280.6 250.3 283.6 248.5 287.2 246.4 290.7 243.1 295.5 240.4 299 240.1 299.6z" clip-path="url(#p2587bf0595)" style="fill: #ffc77f; stroke: #ffc77f; stroke-width: 0.35"/><path d="M236.3 299.6L240.1 299.6 240.4 299 242.7 296.1 245.6 291.9 248.5 287.2 250.5 283 252 278.9 252.8 275.3 254 268.2 254.1 263.4 254 258.7 253.3 254.5 252.3 250.3 250.7 246.2 248.6 242 246.7 239.1 243.4 234.9 243.1 234.3 238.7 234.3 239 234.9 242.8 239.1 244.9 242 247.2 246.2 249 250.3 250.2 254.5 250.8 258.7 250.9 264.6 250.7 268.8 249.9 274.1 249.2 277.1 248.2 280.5 246.8 283.6 245.2 286.6 242.8 290.4 239.9 294.6 236.1 299 235.8 299.6z" clip-path="url(#p2587bf0595)" style="fill: #ffb875; stroke: #ffb875; stroke-width: 0.35"/><path d="M231.5 299.6L235.8 299.6 236.1 299 240.5 293.8 244.9 287.2 247.1 283 248.7 278.9 249.7 275.3 250.7 268.8 250.9 264.6 250.8 258.7 250.2 254.5 249 250.3 247.2 246.2 244.9 242 242.8 239.1 239 234.9 238.7 234.3 233.8 234.3 234.2 234.9 238.7 239 241 241.9 243.4 245.6 245.4 249.8 246.8 253.9 247.6 258.1 247.8 262.2 247.6 268.2 246.8 273.5 246.2 276.5 245 280 243.6 283 240.8 287.8 237.5 292.5 235.1 295.4 231.5 299 231.1 299.6z" clip-path="url(#p2587bf0595)" style="fill: #ffa96b; stroke: #ffa96b; stroke-width: 0.35"/><path d="M226.2 299.6L231.1 299.6 231.5 299 234.5 296.1 236.5 293.7 240.4 288.4 243.4 283.4 245.4 278.9 246.6 274.7 247.6 268.2 247.8 262.2 247.6 258.1 246.8 253.9 245.4 249.8 243.4 245.6 241 241.9 238.7 239 234.2 234.9 233.8 234.3 227.8 234.3 228.4 234.9 232.8 237.9 236.3 241.1 239.3 244.7 241.6 248.9 243.4 253.3 244.4 257.5 244.7 261.6 244.5 268.2 243.6 273.5 242.9 276.5 241.6 279.9 240.1 283 237.8 286.6 233.9 291.9 230.6 295.5 226.2 299 225.7 299.6zM190 236.3L193.3 235.5 194.9 234.9 196 234.3 189.4 234.3 189.4 236.4z" clip-path="url(#p2587bf0595)" style="fill: #f29962; stroke: #f29962; stroke-width: 0.35"/><path d="M219.1 299.6L225.7 299.6 226.2 299 229.8 296.2 232.7 293.3 235.3 290.1 239.7 283.6 241.6 280 242.7 277.1 243.5 274.1 244.5 268.2 244.7 264.6 244.7 260.4 244.3 256.9 243.4 253.3 242 249.8 239.4 245 236.7 241.4 232.8 237.9 228.4 234.9 227.8 234.3 196 234.3 194.9 234.9 193 235.6 190.6 236.2 189.4 236.4 189.4 239.6 190.6 239.5 193 239 199.5 237 203 236.1 211.4 235 213.7 234.8 216.1 234.8 219.1 235.2 222 235.8 225 236.9 227.4 238 229.8 239.5 232.1 241.4 234.5 243.7 236.1 245.6 237.6 248 239.2 250.9 240.3 253.9 241.1 256.9 241.5 259.9 241.6 264 241.4 267.6 240.6 272.9 239.9 275.8 239 278.3 237.5 281.2 235.2 284.8 232.3 288.9 229.8 291.8 227.8 293.7 225.5 295.5 223.2 297 219.5 299 218.8 299.6z" clip-path="url(#p2587bf0595)" style="fill: #da8a58; stroke: #da8a58; stroke-width: 0.35"/><path d="M211.4 299.6L218.8 299.6 219.5 299 223.2 297 225.6 295.4 228 293.5 230.2 291.3 232.7 288.4 235.2 284.8 237.5 281.2 238.7 278.9 239.6 276.5 240.3 274.1 241.5 267 241.5 259.9 241.2 257.5 240.7 255.1 239.9 252.6 238.6 249.8 237.3 247.4 235.6 245 233.9 243.1 231.5 240.8 229.2 239.1 226.8 237.7 224.4 236.6 222 235.8 219.1 235.2 216.1 234.8 212.5 234.8 204.2 235.9 200.1 236.8 193 239 190.6 239.5 189.4 239.6 189.4 242.8 190 242.8 194.1 242.1 201.9 239.7 206.6 238.7 212.5 238.1 215.5 238.1 219.1 238.4 222 239.1 224.4 240 227.1 241.4 229.2 242.9 231.5 245 233.3 247.1 234.7 249.2 236.3 252.1 237.3 254.5 237.9 256.9 238.4 259.9 238.5 264 238.3 267 237.6 271.7 237.1 274.1 236.1 277.1 234.9 279.4 232.7 282.8 230.1 286.6 228 289.1 225.6 291.3 223.8 292.7 221.5 294.2 211.8 299 211 299.6z" clip-path="url(#p2587bf0595)" style="fill: #c27b4e; stroke: #c27b4e; stroke-width: 0.35"/><path d="M195.3 299.6L211 299.6 211.8 299 220.3 294.9 222.6 293.5 224.4 292.3 226.3 290.7 228.1 288.9 230.1 286.6 232.6 283 235.5 278.3 236.5 275.9 237.3 273.5 238.3 267.6 238.5 265.2 238.5 261 238.3 258.7 237.8 256.3 237 253.9 236 251.5 234.7 249.2 233.3 247.1 231.5 245.1 229.6 243.2 227.4 241.6 225.6 240.6 222.6 239.3 219.7 238.5 216.7 238.1 212.5 238.1 204.2 239.1 201.3 239.9 194.1 242.1 191.2 242.7 189.4 242.8 189.4 245.9 190 245.9 193.5 245.5 195.9 245 202.5 242.9 204.8 242.2 212 241.3 214.3 241.2 217.3 241.3 219.7 241.7 222 242.4 224.4 243.5 226.8 245 229.2 247.1 231 249.2 232.5 251.5 233.9 254.5 234.7 256.9 235.3 259.9 235.4 264 235.2 267 234.5 271.7 233.6 274.7 232.3 277.7 230.4 280.7 227.5 284.8 225 287.6 222.7 289.5 220.3 291.1 211.4 295.5 204.8 297.5 194.7 299.6z" clip-path="url(#p2587bf0595)" style="fill: #aa6b44; stroke: #aa6b44; stroke-width: 0.35"/><path d="M190 299.6L194.7 299.6 197.1 299 203 298 209 296.3 213.1 294.7 220.3 291.1 223.8 288.6 225.6 286.9 227.4 284.9 230.8 280 232.3 277.7 233.2 275.9 233.9 273.9 234.5 271.7 235.1 267.6 235.3 265.2 235.3 261 235.1 258.7 234.6 256.3 233.9 254.5 231.8 250.3 230.5 248.6 229.2 247.1 227.4 245.5 225.6 244.2 222.6 242.6 219.7 241.7 216.7 241.2 213.1 241.2 205.4 242.1 202.5 242.9 195.9 245 193 245.6 189.4 245.9 189.4 249 190 249.1 196.5 248.2 198.9 247.6 203 246.1 205.4 245.4 212.5 244.4 214.9 244.3 217.3 244.4 219.7 244.9 221.5 245.5 223.8 246.7 225.6 248 227.9 250.3 229.2 252.1 230.8 255.1 231.7 257.5 232.1 259.9 232.3 262.8 232.1 266.4 231.5 270.5 231 272.9 230.3 274.7 229 277.1 225.6 282 223.8 284.2 222 285.9 220.3 287.3 217.9 288.7 211.4 291.8 207.2 293.2 204.2 294 201.3 294.5 195.9 295.2 189.4 295.7 189.4 299.6z" clip-path="url(#p2587bf0595)" style="fill: #915c3b; stroke: #915c3b; stroke-width: 0.35"/><path d="M190 295.7L196.5 295.1 202.5 294.3 206 293.5 210.8 292 217.9 288.7 220.3 287.3 223.2 284.8 225.8 281.8 229.3 276.5 230.3 274.7 231 272.9 231.4 271.1 232.1 266.4 232.2 261 232 258.7 231.5 256.9 230.8 255.1 229.6 252.7 228.6 251.2 227.4 249.8 225.6 248 224.4 247.1 222 245.8 219.1 244.7 216.7 244.4 213.1 244.3 207.2 245 205.4 245.4 203 246.1 198.9 247.6 196.5 248.2 191.2 249 189.4 249 189.4 252.2 190 252.2 196.5 251.5 198.9 251.1 201.3 250.3 205.4 248.7 207.8 248.1 213.1 247.5 214.9 247.4 217.3 247.6 219.7 248.1 221.8 249.2 223.5 250.3 225.3 252.1 226.7 253.9 227.9 256.3 228.6 258.1 229.1 260.4 229.1 262.8 229.1 265.8 228.4 269.9 228 271.7 227.4 273.5 225.6 276.5 223.2 280 221.5 282.1 219.8 283.6 217.3 285.3 211.4 288.1 209 289 206 289.8 203 290.4 198.3 290.9 189.4 291.3 189.4 295.7z" clip-path="url(#p2587bf0595)" style="fill: #794d31; stroke: #794d31; stroke-width: 0.35"/><path d="M190 291.3L197.1 291 202.5 290.4 205.4 289.9 209 289 211.4 288.1 218.1 284.8 220.5 283 222.6 280.7 226.4 275.3 227.6 272.9 228.3 270.5 229 266.4 229.1 264.6 229 259.9 228.2 256.9 227 254.5 226.2 253.2 224.8 251.5 223.2 250.1 221.5 248.9 219.1 248 216.7 247.5 213.7 247.4 206.6 248.4 204.8 248.9 200.7 250.6 198.3 251.2 192.4 252 189.4 252.2 189.4 255.5 190 255.5 200.1 254.1 202.5 253.5 206.6 251.7 208.4 251.2 214.3 250.5 216.1 250.6 217.9 250.9 219.7 251.5 220.9 252.2 222.2 253.3 223.7 255.1 224.7 256.9 225.6 259 225.9 260.4 226 262.8 225.9 265.8 225.3 269.9 224.5 272.3 222.6 275.3 220.6 278.3 219.1 280 217.9 281 216.1 282.2 210.2 284.9 205.4 286.2 200.7 286.6 196.5 286.8 189.4 286.5 189.4 291.3z" clip-path="url(#p2587bf0595)" style="fill: #613d27; stroke: #613d27; stroke-width: 0.35"/><path d="M191.8 286.6L195.3 286.8 199.5 286.7 204.2 286.3 207.2 285.8 210.2 284.9 216.1 282.2 217.9 281 219.6 279.4 222.6 275.3 224.5 272.3 225.3 269.9 226 265.2 226 261 225.5 258.7 224.1 255.7 223.3 254.5 222 253.2 220.3 251.9 218.5 251 216.1 250.6 213.7 250.6 207.2 251.5 202.5 253.5 200.1 254.1 194.1 255 189.4 255.5 189.4 259.3 190 259.2 201.9 257.1 203.6 256.6 207.2 254.9 209 254.3 211.4 254.1 214.3 253.7 216.7 253.8 217.9 254.2 219.1 254.8 220.9 256.5 221.5 257.5 222.4 259.3 222.8 260.4 222.9 261.6 222.9 265.2 222.2 269.4 221.8 270.5 220.3 273.2 217.9 276.5 216.2 278.3 214.9 279 209.6 281.4 207.2 282 205.4 282.3 201.3 282.4 197.7 282.3 194.5 281.8 189.4 280.7 189.4 286.5 191.5 286.6z" clip-path="url(#p2587bf0595)" style="fill: #492e1d; stroke: #492e1d; stroke-width: 0.35"/><path d="M200.7 282.4L205.4 282.3 207.8 281.9 209.6 281.4 214.9 279 216.1 278.3 217.3 277.2 220.3 273.2 221.6 271.1 222.2 269.4 222.9 265.2 222.9 261.6 222.6 259.9 221.5 257.5 220.7 256.3 219.1 254.8 217.3 253.9 215.5 253.7 213.7 253.7 211.4 254.1 209 254.3 207.2 254.9 203.6 256.6 201.9 257.1 189.4 259.3 189.4 265.4 191.8 264 193.1 263.4 198.4 261.6 204.2 260 206 259.3 208.4 257.9 209.6 257.5 212 257.3 214.3 256.8 216.1 256.9 217.3 257.4 217.9 257.9 218.6 258.7 219.2 259.9 219.8 261.6 219.8 264.6 219.3 267 219.1 268.8 218.6 269.9 215.5 274.4 214.7 275.3 213.7 275.9 209 277.8 206.6 278.2 203.6 278.1 200.7 277.7 198.3 276.9 196.1 275.9 192.5 273.5 191.2 272.3 189.4 270.4 189.4 280.7 195.9 282.1 200.1 282.4z" clip-path="url(#p2587bf0595)" style="fill: #301f14; stroke: #301f14; stroke-width: 0.35"/><path d="M201.3 277.8L206 278.2 208.4 277.9 213.7 275.9 214.7 275.3 215.5 274.4 217.4 271.7 218.9 269.4 219.8 264.6 219.8 261.6 219.5 260.4 218.6 258.7 217.4 257.5 216.1 256.9 214.9 256.8 212 257.3 209.6 257.5 208.4 257.9 206 259.3 204.2 260 198.4 261.6 193.1 263.4 191.8 264 189.4 265.4 189.4 270.4 191.2 272.3 193 273.8 196.1 275.9 198.3 276.9 200.7 277.7zM205.9 274.1L204.8 273.8 203.4 272.9 202.4 270.5 202.2 269.4 202.3 267.6 202.9 265.8 203.6 264.6 204.2 263.8 207.2 262.1 210.2 260.1 213.1 259.9 214.9 259.4 215.5 259.5 216 259.9 216.5 260.4 217.1 261.6 217.2 264 216.6 265.8 216.5 268.2 215.3 269.9 213.9 271.7 213.1 272.9 212.5 273.3 211.2 273.5 208.4 274.5 207.8 274.6 206 274.1z" clip-path="url(#p2587bf0595)" style="fill: #180f0a; stroke: #180f0a; stroke-width: 0.35"/><path d="M206 274.1L207.8 274.6 208.4 274.5 211.2 273.5 212.5 273.3 213.1 272.9 213.9 271.7 215.3 269.9 216.5 268.2 216.6 265.8 217.2 264 217.1 261.6 216.5 260.4 216 259.9 215.5 259.5 214.9 259.4 213.1 259.9 210.2 260.1 207.2 262.1 204.2 263.8 203.6 264.6 202.9 265.8 202.3 267.6 202.2 269.4 202.4 270.5 203.4 272.9 204.8 273.8 205.9 274.1z" clip-path="url(#p2587bf0595)" style="stroke: #000000; stroke-width: 0.35"/></g><g id="patch_73"><path d="M222.05 298.08 C 230.3 298.08 238.21 294.8 244.04 288.97 C 249.87 283.14 253.15 275.22 253.15 266.98 C 253.15 258.73 249.87 250.81 244.04 244.98 C 238.21 239.15 230.3 235.87 222.05 235.87 C 213.8 235.87 205.89 239.15 200.05 244.98 C 194.22 250.81 190.94 258.73 190.94 266.98 C 190.94 275.22 194.22 283.14 200.05 288.97 C 205.89 294.8 213.8 298.08 222.05 298.08L222.05 298.08z" clip-path="url(#p42af1015e5)" style="fill: none; stroke: #333333; stroke-width: 0.55; stroke-linejoin: miter"/></g><g id="patch_74"><path d="M240.4 265.4L244.1 267 240.4 268.5z" clip-path="url(#p42af1015e5)"/></g><g id="line2d_52"><path d="M222 267L241.3 267" clip-path="url(#p42af1015e5)" style="fill: none; stroke: #000000; stroke-opacity: 0.8; stroke-width: 0.75"/></g></g><g id="axes_23"><g id="patch_75"><path d="M297.29 298.08 C 305.54 298.08 313.45 294.8 319.28 288.97 C 325.11 283.14 328.39 275.22 328.39 266.98 C 328.39 258.73 325.11 250.81 319.28 244.98 C 313.45 239.15 305.54 235.87 297.29 235.87 C 289.04 235.87 281.13 239.15 275.29 244.98 C 269.46 250.81 266.18 258.73 266.18 266.98 C 266.18 275.22 269.46 283.14 275.29 288.97 C 281.13 294.8 289.04 298.08 297.29 298.08L297.29 298.08z" clip-path="url(#pf9c8e4b22d)" style="fill: none"/></g><g id="QuadContourSet_22"><path clip-path="url(#p19b5f12ed9)" style="fill: #2d004b; stroke: #2d004b; stroke-width: 0.35"/><path clip-path="url(#p19b5f12ed9)" style="fill: #44176f; stroke: #44176f; stroke-width: 0.35"/><path clip-path="url(#p19b5f12ed9)" style="fill: #5c348e; stroke: #5c348e; stroke-width: 0.35"/><path clip-path="url(#p19b5f12ed9)" style="fill: #7661a4; stroke: #7661a4; stroke-width: 0.35"/><path clip-path="url(#p19b5f12ed9)" style="fill: #9287b9; stroke: #9287b9; stroke-width: 0.35"/><path clip-path="url(#p19b5f12ed9)" style="fill: #afa8d0; stroke: #afa8d0; stroke-width: 0.35"/><path clip-path="url(#p19b5f12ed9)" style="fill: #c6c4df; stroke: #c6c4df; stroke-width: 0.35"/><path clip-path="url(#p19b5f12ed9)" style="fill: #dcddec; stroke: #dcddec; stroke-width: 0.35"/><path clip-path="url(#p19b5f12ed9)" style="fill: #eeeef3; stroke: #eeeef3; stroke-width: 0.35"/><path clip-path="url(#p19b5f12ed9)" style="fill: #f9f0e4; stroke: #f9f0e4; stroke-width: 0.35"/><path clip-path="url(#p19b5f12ed9)" style="fill: #fde3be; stroke: #fde3be; stroke-width: 0.35"/><path clip-path="url(#p19b5f12ed9)" style="fill: #fecd8f; stroke: #fecd8f; stroke-width: 0.35"/><path d="M307.7 295.9L310.6 296.1 312.1 295.9 313.1 295.2 310.6 292 309.2 291 307.4 293.7 306.8 295.2zM264.7 287.8L264.6 287.7 264.6 287.8 264.6 287.8zM283.9 280.8L285.4 279.8 286.9 279.2 288.4 277.4 286.9 275.2 285.4 275 283.9 275.1 283.2 275.9 281 277.4 281.7 278.9 282.4 279.7 283.3 280.3zM273.5 265.8L275 266.5 276.5 266.3 279.5 266.8 282.4 266.2 283.9 265.7 285.4 265.6 286.9 265.9 288.4 266 291.3 265.8 292.8 264.9 295.8 264 298.8 262 300.3 260.5 301.5 258.1 301.5 256.6 299.9 252.1 299.1 250.6 297.8 249.2 294.7 247.7 293.3 246.2 293 244.7 293.5 243.2 295 240.3 294.8 238.8 294.3 238.3 291.3 238.2 288.4 236.9 288 237.3 286.9 238 284.3 238.8 282.4 239.7 280.4 241.7 276.5 244.5 274.9 246.2 272.8 247.7 272 249.2 271.3 252.1 269.7 255.1 269.4 256.6 270.2 262.5 270.6 263.5 270.9 264 273.3 265.5z" clip-path="url(#p19b5f12ed9)" style="fill: #fbb55e; stroke: #fbb55e; stroke-width: 0.35"/><path d="M266.1 299.6L329.9 299.6 329.9 234.3 315.2 234.3 315.1 234.4 314.9 234.3 264.6 234.3 264.6 263.9 264.9 264 264.6 264.3 264.6 299.6zM306.8 295.2L307.4 293.7 309.2 291 310.6 292 313.1 295.2 312.1 295.9 310.6 296.1 307.7 295.9zM283.3 280.3L282.4 279.7 281.7 278.9 281 277.4 283.2 275.9 283.9 275.1 285.4 275 286.9 275.2 288.4 277.4 286.9 279.2 285.4 279.8 283.9 280.8zM320.2 280.3L318.1 279.8 316.6 279.7 312.1 278.2 310.6 277.5 308.2 275.9 306.2 274 303.2 272.2 300.3 271.9 298.8 271.2 297.3 270.9 295.8 270.9 294.2 269.9 294.8 268.5 296.3 267 297 265.5 300.3 262.5 301.5 261 302.6 259.6 303.4 258.1 303.9 256.6 302.5 252.1 302.4 250.6 301.9 249.2 300.6 247.7 298.8 245.8 297.3 244.7 296.1 243.2 297.3 241.6 299.6 240.3 301.7 238.1 303.2 237.1 304.7 236.6 306.2 236.6 307.7 237.1 309.2 238.2 310.6 238.6 312.1 239.5 315.1 240 316.6 240.9 317.3 241.7 318.1 244.3 318.7 244.7 319.6 244.9 322.5 246.6 324 247.2 325.5 248.3 326.3 249.2 326.8 250.6 328.1 252.1 328.2 253.6 327.3 256.6 328.2 258.1 328.7 262.5 328.7 264 328.3 265.5 328.3 267 327.5 269.9 327.7 271.4 326.3 274.4 323.8 277.4 323.4 278.9 322.5 280 321 280.6zM273.3 265.5L270.9 264 270.6 263.5 270.2 262.5 269.4 256.6 269.7 255.1 271.3 252.1 272 249.2 272.8 247.7 274.9 246.2 276.5 244.5 280.4 241.7 282.4 239.7 284.3 238.8 286.9 238 288 237.3 288.4 236.9 291.3 238.2 294.3 238.3 294.8 238.8 295 240.3 293.5 243.2 293 244.7 293.3 246.2 294.7 247.7 297.8 249.2 299.1 250.6 299.9 252.1 301.5 256.6 301.5 258.1 300.3 260.5 298.8 262 295.8 264 292.8 264.9 291.3 265.8 288.4 266 286.9 265.9 285.4 265.6 283.9 265.7 282.4 266.2 279.5 266.8 276.5 266.3 275 266.5 273.5 265.8z" clip-path="url(#p19b5f12ed9)" style="fill: #ea9530; stroke: #ea9530; stroke-width: 0.35"/><path d="M321 280.6L322.5 280 323.4 278.9 323.8 277.4 326.3 274.4 327.7 271.4 327.5 269.9 328.3 267 328.3 265.5 328.7 264 328.7 262.5 328.2 258.1 327.3 256.6 328.2 253.6 328.1 252.1 326.8 250.6 326.3 249.2 325.5 248.3 324 247.2 322.5 246.6 319.6 244.9 318.7 244.7 318.1 244.3 317.3 241.7 316.6 240.9 315.1 240 312.1 239.5 310.6 238.6 309.2 238.2 307.7 237.1 306.2 236.6 304.7 236.6 303.2 237.1 301.7 238.1 299.6 240.3 297.3 241.6 296.1 243.2 297.3 244.7 298.8 245.8 300.6 247.7 301.9 249.2 302.4 250.6 302.5 252.1 303.9 256.6 303.4 258.1 302.6 259.6 301.5 261 300.3 262.5 297 265.5 296.3 267 294.8 268.5 294.2 269.9 295.8 270.9 297.3 270.9 298.8 271.2 300.3 271.9 303.2 272.2 306.2 274 308.2 275.9 310.6 277.5 312.1 278.2 316.6 279.7 318.1 279.8 320.2 280.3zM324.9 255.1L323.6 253.6 323.4 252.1 324 251.3 325.5 251.2 326.7 252.1 327.1 253.6 327 254 325.5 255.5zM313.1 253.6L312.1 252.8 311.7 252.1 311.4 249.2 311.5 247.7 312.1 246.9 313.6 246.6 315.1 246.6 318.1 247.1 318.9 247.7 318.8 249.2 317.9 250.6 317.5 253.6 316.6 254.5 313.6 254.1zM264.9 264L264.6 263.9 264.6 264 264.6 264.3zM315.1 234.4L315.2 234.3 315.1 234.3 314.9 234.3z" clip-path="url(#p19b5f12ed9)" style="fill: #d57811; stroke: #d57811; stroke-width: 0.35"/><path d="M325.5 255.5L327 254 327.1 253.6 326.7 252.1 325.5 251.2 324 251.3 323.4 252.1 323.6 253.6 324.9 255.1zM313.6 254.1L316.6 254.5 317.5 253.6 317.9 250.6 318.8 249.2 318.9 247.7 318.1 247.1 315.1 246.6 313.6 246.6 312.1 246.9 311.5 247.7 311.4 249.2 311.7 252.1 312.1 252.8 313.1 253.6z" clip-path="url(#p19b5f12ed9)" style="fill: #bb5f08; stroke: #bb5f08; stroke-width: 0.35"/><path clip-path="url(#p19b5f12ed9)" style="fill: #9e4c07; stroke: #9e4c07; stroke-width: 0.35"/><path clip-path="url(#p19b5f12ed9)" style="fill: #7f3b08; stroke: #7f3b08; stroke-width: 0.35"/></g><g id="QuadContourSet_23"><path d="M292.3 263.2L294.8 263.2 296 262 296 259.4 294.8 258.2 292.3 258.2 291 259.4 291 262z" clip-path="url(#p19b5f12ed9)" style="fill: url(#htch)"/></g><g id="patch_76"><path d="M297.29 298.08 C 305.54 298.08 313.45 294.8 319.28 288.97 C 325.11 283.14 328.39 275.22 328.39 266.98 C 328.39 258.73 325.11 250.81 319.28 244.98 C 313.45 239.15 305.54 235.87 297.29 235.87 C 289.04 235.87 281.13 239.15 275.29 244.98 C 269.46 250.81 266.18 258.73 266.18 266.98 C 266.18 275.22 269.46 283.14 275.29 288.97 C 281.13 294.8 289.04 298.08 297.29 298.08L297.29 298.08z" clip-path="url(#pf9c8e4b22d)" style="fill: none; stroke: #333333; stroke-width: 0.55; stroke-linejoin: miter"/></g><g id="patch_77"><path d="M315.6 265.4L319.4 267 315.6 268.5z" clip-path="url(#pf9c8e4b22d)"/></g><g id="line2d_53"><path d="M297.3 267L316.6 267" clip-path="url(#pf9c8e4b22d)" style="fill: none; stroke: #000000; stroke-opacity: 0.8; stroke-width: 0.75"/></g></g><g id="axes_24"><g id="patch_78"><path d="M330.4 296L334.2 296 334.2 238 330.4 238z" style="fill: #ffffff"/></g><g id="patch_79"><path d="M330.4 296L332.3 298.9 334.2 296" style="fill: #2d004b"/></g><g id="patch_80"><path d="M330.4 238L332.3 235.1 334.2 238" style="fill: #7f3b08"/></g><g id="QuadMesh_8"><path d="M330.4 296L334.2 296 334.2 292.4 330.4 292.4 330.4 296" clip-path="url(#pd8c85fce4e)" style="fill: #44176f"/><path d="M330.4 292.4L334.2 292.4 334.2 288.7 330.4 288.7 330.4 292.4" clip-path="url(#pd8c85fce4e)" style="fill: #5c348e"/><path d="M330.4 288.7L334.2 288.7 334.2 285.1 330.4 285.1 330.4 288.7" clip-path="url(#pd8c85fce4e)" style="fill: #7661a4"/><path d="M330.4 285.1L334.2 285.1 334.2 281.5 330.4 281.5 330.4 285.1" clip-path="url(#pd8c85fce4e)" style="fill: #9287b9"/><path d="M330.4 281.5L334.2 281.5 334.2 277.9 330.4 277.9 330.4 281.5" clip-path="url(#pd8c85fce4e)" style="fill: #afa8d0"/><path d="M330.4 277.9L334.2 277.9 334.2 274.2 330.4 274.2 330.4 277.9" clip-path="url(#pd8c85fce4e)" style="fill: #c6c4df"/><path d="M330.4 274.2L334.2 274.2 334.2 270.6 330.4 270.6 330.4 274.2" clip-path="url(#pd8c85fce4e)" style="fill: #dcddec"/><path d="M330.4 270.6L334.2 270.6 334.2 267 330.4 267 330.4 270.6" clip-path="url(#pd8c85fce4e)" style="fill: #eeeef3"/><path d="M330.4 267L334.2 267 334.2 263.3 330.4 263.3 330.4 267" clip-path="url(#pd8c85fce4e)" style="fill: #f9f0e4"/><path d="M330.4 263.3L334.2 263.3 334.2 259.7 330.4 259.7 330.4 263.3" clip-path="url(#pd8c85fce4e)" style="fill: #fde3be"/><path d="M330.4 259.7L334.2 259.7 334.2 256.1 330.4 256.1 330.4 259.7" clip-path="url(#pd8c85fce4e)" style="fill: #fecd8f"/><path d="M330.4 256.1L334.2 256.1 334.2 252.5 330.4 252.5 330.4 256.1" clip-path="url(#pd8c85fce4e)" style="fill: #fbb55e"/><path d="M330.4 252.5L334.2 252.5 334.2 248.8 330.4 248.8 330.4 252.5" clip-path="url(#pd8c85fce4e)" style="fill: #ea9530"/><path d="M330.4 248.8L334.2 248.8 334.2 245.2 330.4 245.2 330.4 248.8" clip-path="url(#pd8c85fce4e)" style="fill: #d57811"/><path d="M330.4 245.2L334.2 245.2 334.2 241.6 330.4 241.6 330.4 245.2" clip-path="url(#pd8c85fce4e)" style="fill: #bb5f08"/><path d="M330.4 241.6L334.2 241.6 334.2 238 330.4 238 330.4 241.6" clip-path="url(#pd8c85fce4e)" style="fill: #9e4c07"/></g><g id="matplotlib.axis_15"/><g id="matplotlib.axis_16"><g id="ytick_38"><g id="line2d_54"><g><use xlink:href="#mb71b77dcba" x="334.15" y="295.99" style="fill: #333333; stroke: #333333; stroke-width: 0.5"/></g></g><g id="text_38"><text style="font-size: 5.3px; font-family: 'Liberation Sans'; text-anchor: start; fill: #222222" x="336.65" y="297.91" transform="rotate(-0 336.652 297.912422)">−0.8</text></g></g><g id="ytick_39"><g id="line2d_55"><g><use xlink:href="#mb71b77dcba" x="334.15" y="285.11" style="fill: #333333; stroke: #333333; stroke-width: 0.5"/></g></g><g id="text_39"><text style="font-size: 5.3px; font-family: 'Liberation Sans'; text-anchor: start; fill: #222222" x="336.65" y="287.03" transform="rotate(-0 336.652 287.031422)">−0.5</text></g></g><g id="ytick_40"><g id="line2d_56"><g><use xlink:href="#mb71b77dcba" x="334.15" y="274.23" style="fill: #333333; stroke: #333333; stroke-width: 0.5"/></g></g><g id="text_40"><text style="font-size: 5.3px; font-family: 'Liberation Sans'; text-anchor: start; fill: #222222" x="336.65" y="276.15" transform="rotate(-0 336.652 276.150422)">−0.2</text></g></g><g id="ytick_41"><g id="line2d_57"><g><use xlink:href="#mb71b77dcba" x="334.15" y="263.35" style="fill: #333333; stroke: #333333; stroke-width: 0.5"/></g></g><g id="text_41"><text style="font-size: 5.3px; font-family: 'Liberation Sans'; text-anchor: start; fill: #222222" x="336.65" y="265.27" transform="rotate(-0 336.652 265.269422)">0.1</text></g></g><g id="ytick_42"><g id="line2d_58"><g><use xlink:href="#mb71b77dcba" x="334.15" y="252.47" style="fill: #333333; stroke: #333333; stroke-width: 0.5"/></g></g><g id="text_42"><text style="font-size: 5.3px; font-family: 'Liberation Sans'; text-anchor: start; fill: #222222" x="336.65" y="254.39" transform="rotate(-0 336.652 254.388422)">0.4</text></g></g><g id="ytick_43"><g id="line2d_59"><g><use xlink:href="#mb71b77dcba" x="334.15" y="241.59" style="fill: #333333; stroke: #333333; stroke-width: 0.5"/></g></g><g id="text_43"><text style="font-size: 5.3px; font-family: 'Liberation Sans'; text-anchor: start; fill: #222222" x="336.65" y="243.51" transform="rotate(-0 336.652 243.507422)">0.7</text></g></g></g><g id="LineCollection_8"/><g id="patch_81"><path d="M330.4 296L332.3 298.9 334.2 296 334.2 238 332.3 235.1 330.4 238 330.4 296z" style="fill: none; stroke: #666666; stroke-width: 0.4; stroke-linejoin: miter; stroke-linecap: square"/></g></g></g><defs><clipPath id="p68ef9d32f1"><rect x="27" y="27.86" width="62.21" height="62.21"/></clipPath><clipPath id="p21d48eb396"><path d="M58.1 90.07 C 66.35 90.07 74.27 86.79 80.1 80.96 C 85.93 75.13 89.21 67.22 89.21 58.97 C 89.21 50.72 85.93 42.81 80.1 36.97 C 74.27 31.14 66.35 27.86 58.1 27.86 C 49.86 27.86 41.94 31.14 36.11 36.97 C 30.28 42.81 27 50.72 27 58.97 C 27 67.22 30.28 75.13 36.11 80.96 C 41.94 86.79 49.86 90.07 58.1 90.07z"/></clipPath><clipPath id="p1d68dbb7f0"><rect x="19.44" y="29.95" width="3.89" height="58.03"/></clipPath><clipPath id="p66a5db1e5f"><rect x="102.24" y="27.86" width="62.21" height="62.21"/></clipPath><clipPath id="p25d545dbc4"><path d="M133.34 90.07 C 141.59 90.07 149.51 86.79 155.34 80.96 C 161.17 75.13 164.45 67.22 164.45 58.97 C 164.45 50.72 161.17 42.81 155.34 36.97 C 149.51 31.14 141.59 27.86 133.34 27.86 C 125.1 27.86 117.18 31.14 111.35 36.97 C 105.52 42.81 102.24 50.72 102.24 58.97 C 102.24 67.22 105.52 75.13 111.35 80.96 C 117.18 86.79 125.1 90.07 133.34 90.07z"/></clipPath><clipPath id="p526f4a8098"><rect x="190.94" y="27.86" width="62.21" height="62.21"/></clipPath><clipPath id="p49888c687f"><path d="M222.05 90.07 C 230.3 90.07 238.21 86.79 244.04 80.96 C 249.87 75.13 253.15 67.22 253.15 58.97 C 253.15 50.72 249.87 42.81 244.04 36.97 C 238.21 31.14 230.3 27.86 222.05 27.86 C 213.8 27.86 205.89 31.14 200.05 36.97 C 194.22 42.81 190.94 50.72 190.94 58.97 C 190.94 67.22 194.22 75.13 200.05 80.96 C 205.89 86.79 213.8 90.07 222.05 90.07z"/></clipPath><clipPath id="p06fb4f177c"><rect x="266.18" y="27.86" width="62.21" height="62.21"/></clipPath><clipPath id="pf043735406"><path d="M297.29 90.07 C 305.54 90.07 313.45 86.79 319.28 80.96 C 325.11 75.13 328.39 67.22 328.39 58.97 C 328.39 50.72 325.11 42.81 319.28 36.97 C 313.45 31.14 305.54 27.86 297.29 27.86 C 289.04 27.86 281.13 31.14 275.29 36.97 C 269.46 42.81 266.18 50.72 266.18 58.97 C 266.18 67.22 269.46 75.13 275.29 80.96 C 281.13 86.79 289.04 90.07 297.29 90.07z"/></clipPath><clipPath id="p2fd59cb186"><rect x="330.41" y="29.95" width="3.74" height="58.03"/></clipPath><clipPath id="p2e82e43c86"><rect x="27" y="97.2" width="62.21" height="62.21"/></clipPath><clipPath id="p3fc13e1a59"><path d="M58.1 159.41 C 66.35 159.41 74.27 156.13 80.1 150.3 C 85.93 144.47 89.21 136.55 89.21 128.3 C 89.21 120.06 85.93 112.14 80.1 106.31 C 74.27 100.48 66.35 97.2 58.1 97.2 C 49.86 97.2 41.94 100.48 36.11 106.31 C 30.28 112.14 27 120.06 27 128.3 C 27 136.55 30.28 144.47 36.11 150.3 C 41.94 156.13 49.86 159.41 58.1 159.41z"/></clipPath><clipPath id="pc9ef784b21"><rect x="19.44" y="99.29" width="3.89" height="58.03"/></clipPath><clipPath id="pfc64dad7e2"><rect x="102.24" y="97.2" width="62.21" height="62.21"/></clipPath><clipPath id="p0fa4f60ecf"><path d="M133.34 159.41 C 141.59 159.41 149.51 156.13 155.34 150.3 C 161.17 144.47 164.45 136.55 164.45 128.3 C 164.45 120.06 161.17 112.14 155.34 106.31 C 149.51 100.48 141.59 97.2 133.34 97.2 C 125.1 97.2 117.18 100.48 111.35 106.31 C 105.52 112.14 102.24 120.06 102.24 128.3 C 102.24 136.55 105.52 144.47 111.35 150.3 C 117.18 156.13 125.1 159.41 133.34 159.41z"/></clipPath><clipPath id="pc8874d50de"><rect x="190.94" y="97.2" width="62.21" height="62.21"/></clipPath><clipPath id="p5fa4e52aef"><path d="M222.05 159.41 C 230.3 159.41 238.21 156.13 244.04 150.3 C 249.87 144.47 253.15 136.55 253.15 128.3 C 253.15 120.06 249.87 112.14 244.04 106.31 C 238.21 100.48 230.3 97.2 222.05 97.2 C 213.8 97.2 205.89 100.48 200.05 106.31 C 194.22 112.14 190.94 120.06 190.94 128.3 C 190.94 136.55 194.22 144.47 200.05 150.3 C 205.89 156.13 213.8 159.41 222.05 159.41z"/></clipPath><clipPath id="p7c982bd4c5"><rect x="266.18" y="97.2" width="62.21" height="62.21"/></clipPath><clipPath id="p78ec001d5c"><path d="M297.29 159.41 C 305.54 159.41 313.45 156.13 319.28 150.3 C 325.11 144.47 328.39 136.55 328.39 128.3 C 328.39 120.06 325.11 112.14 319.28 106.31 C 313.45 100.48 305.54 97.2 297.29 97.2 C 289.04 97.2 281.13 100.48 275.29 106.31 C 269.46 112.14 266.18 120.06 266.18 128.3 C 266.18 136.55 269.46 144.47 275.29 150.3 C 281.13 156.13 289.04 159.41 297.29 159.41z"/></clipPath><clipPath id="pfae810ea3e"><rect x="330.41" y="99.29" width="3.74" height="58.03"/></clipPath><clipPath id="pba03cb0454"><rect x="27" y="166.54" width="62.21" height="62.21"/></clipPath><clipPath id="pf8558dba9d"><path d="M58.1 228.74 C 66.35 228.74 74.27 225.47 80.1 219.63 C 85.93 213.8 89.21 205.89 89.21 197.64 C 89.21 189.39 85.93 181.48 80.1 175.65 C 74.27 169.81 66.35 166.54 58.1 166.54 C 49.86 166.54 41.94 169.81 36.11 175.65 C 30.28 181.48 27 189.39 27 197.64 C 27 205.89 30.28 213.8 36.11 219.63 C 41.94 225.47 49.86 228.74 58.1 228.74z"/></clipPath><clipPath id="pba5d4cb60f"><rect x="19.44" y="168.62" width="3.89" height="58.03"/></clipPath><clipPath id="p8eb6d952cb"><rect x="102.24" y="166.54" width="62.21" height="62.21"/></clipPath><clipPath id="pe7a8898d36"><path d="M133.34 228.74 C 141.59 228.74 149.51 225.47 155.34 219.63 C 161.17 213.8 164.45 205.89 164.45 197.64 C 164.45 189.39 161.17 181.48 155.34 175.65 C 149.51 169.81 141.59 166.54 133.34 166.54 C 125.1 166.54 117.18 169.81 111.35 175.65 C 105.52 181.48 102.24 189.39 102.24 197.64 C 102.24 205.89 105.52 213.8 111.35 219.63 C 117.18 225.47 125.1 228.74 133.34 228.74z"/></clipPath><clipPath id="pb66ba874de"><rect x="190.94" y="166.54" width="62.21" height="62.21"/></clipPath><clipPath id="p4d2bd4688e"><path d="M222.05 228.74 C 230.3 228.74 238.21 225.47 244.04 219.63 C 249.87 213.8 253.15 205.89 253.15 197.64 C 253.15 189.39 249.87 181.48 244.04 175.65 C 238.21 169.81 230.3 166.54 222.05 166.54 C 213.8 166.54 205.89 169.81 200.05 175.65 C 194.22 181.48 190.94 189.39 190.94 197.64 C 190.94 205.89 194.22 213.8 200.05 219.63 C 205.89 225.47 213.8 228.74 222.05 228.74z"/></clipPath><clipPath id="p96d0b01088"><rect x="266.18" y="166.54" width="62.21" height="62.21"/></clipPath><clipPath id="p733e21761b"><path d="M297.29 228.74 C 305.54 228.74 313.45 225.47 319.28 219.63 C 325.11 213.8 328.39 205.89 328.39 197.64 C 328.39 189.39 325.11 181.48 319.28 175.65 C 313.45 169.81 305.54 166.54 297.29 166.54 C 289.04 166.54 281.13 169.81 275.29 175.65 C 269.46 181.48 266.18 189.39 266.18 197.64 C 266.18 205.89 269.46 213.8 275.29 219.63 C 281.13 225.47 289.04 228.74 297.29 228.74z"/></clipPath><clipPath id="pc3ba47f74d"><rect x="330.41" y="168.62" width="3.74" height="58.03"/></clipPath><clipPath id="p2d0c96aa93"><rect x="27" y="235.87" width="62.21" height="62.21"/></clipPath><clipPath id="p69bc2bda97"><path d="M58.1 298.08 C 66.35 298.08 74.27 294.8 80.1 288.97 C 85.93 283.14 89.21 275.22 89.21 266.98 C 89.21 258.73 85.93 250.81 80.1 244.98 C 74.27 239.15 66.35 235.87 58.1 235.87 C 49.86 235.87 41.94 239.15 36.11 244.98 C 30.28 250.81 27 258.73 27 266.98 C 27 275.22 30.28 283.14 36.11 288.97 C 41.94 294.8 49.86 298.08 58.1 298.08z"/></clipPath><clipPath id="pd155d8a4e2"><rect x="19.44" y="237.96" width="3.89" height="58.03"/></clipPath><clipPath id="p1afbb41712"><rect x="102.24" y="235.87" width="62.21" height="62.21"/></clipPath><clipPath id="p059833657a"><path d="M133.34 298.08 C 141.59 298.08 149.51 294.8 155.34 288.97 C 161.17 283.14 164.45 275.22 164.45 266.98 C 164.45 258.73 161.17 250.81 155.34 244.98 C 149.51 239.15 141.59 235.87 133.34 235.87 C 125.1 235.87 117.18 239.15 111.35 244.98 C 105.52 250.81 102.24 258.73 102.24 266.98 C 102.24 275.22 105.52 283.14 111.35 288.97 C 117.18 294.8 125.1 298.08 133.34 298.08z"/></clipPath><clipPath id="p42af1015e5"><rect x="190.94" y="235.87" width="62.21" height="62.21"/></clipPath><clipPath id="p2587bf0595"><path d="M222.05 298.08 C 230.3 298.08 238.21 294.8 244.04 288.97 C 249.87 283.14 253.15 275.22 253.15 266.98 C 253.15 258.73 249.87 250.81 244.04 244.98 C 238.21 239.15 230.3 235.87 222.05 235.87 C 213.8 235.87 205.89 239.15 200.05 244.98 C 194.22 250.81 190.94 258.73 190.94 266.98 C 190.94 275.22 194.22 283.14 200.05 288.97 C 205.89 294.8 213.8 298.08 222.05 298.08z"/></clipPath><clipPath id="pf9c8e4b22d"><rect x="266.18" y="235.87" width="62.21" height="62.21"/></clipPath><clipPath id="p19b5f12ed9"><path d="M297.29 298.08 C 305.54 298.08 313.45 294.8 319.28 288.97 C 325.11 283.14 328.39 275.22 328.39 266.98 C 328.39 258.73 325.11 250.81 319.28 244.98 C 313.45 239.15 305.54 235.87 297.29 235.87 C 289.04 235.87 281.13 239.15 275.29 244.98 C 269.46 250.81 266.18 258.73 266.18 266.98 C 266.18 275.22 269.46 283.14 275.29 288.97 C 281.13 294.8 289.04 298.08 297.29 298.08z"/></clipPath><clipPath id="pd8c85fce4e"><rect x="330.41" y="237.96" width="3.74" height="58.03"/></clipPath></defs></svg>

<svg width="500" height="421" viewBox="0 0 500 421" style="will-change:transform;font-family:'Liberation Sans',sans-serif;fill:#1a1a1a">
<text x="104.3" y="13.7" font-size="9.60" textLength="54.3" lengthAdjust="spacingAndGlyphs">Left-movers</text>
<text x="330.4" y="13.7" font-size="9.60" textLength="61.1" lengthAdjust="spacingAndGlyphs">Right-movers</text>
<text x="44.5" y="26.3" font-size="9.60" textLength="70.7" lengthAdjust="spacingAndGlyphs">Current climate</text>
<text x="128.8" y="26.3" font-size="9.60" textLength="108.5" lengthAdjust="spacingAndGlyphs">Future - Current climate</text>
<text x="276.6" y="26.3" font-size="9.60" textLength="70.7" lengthAdjust="spacingAndGlyphs">Current climate</text>
<text x="355.4" y="26.3" font-size="9.60" textLength="108.8" lengthAdjust="spacingAndGlyphs">Future - Current climate</text>
<text x="36.6" y="41.6" font-size="10">(a)</text>
<text x="134.6" y="41.6" font-size="10">(b)</text>
<text x="251.0" y="41.6" font-size="10">(c)</text>
<text x="363.5" y="41.6" font-size="10">(d)</text>
<text x="36.6" y="140.1" font-size="10">(e)</text>
<text x="134.6" y="140.1" font-size="10">(f)</text>
<text x="251.0" y="140.1" font-size="10">(g)</text>
<text x="363.5" y="140.1" font-size="10">(h)</text>
<text x="36.6" y="234.9" font-size="10">(i)</text>
<text x="134.6" y="234.9" font-size="10">(j)</text>
<text x="251.0" y="234.9" font-size="10">(k)</text>
<text x="363.5" y="234.9" font-size="10">(l)</text>
<text x="36.6" y="326.1" font-size="10">(m)</text>
<text x="134.6" y="326.1" font-size="10">(n)</text>
<text x="251.0" y="326.1" font-size="10">(o)</text>
<text x="363.5" y="326.1" font-size="10">(p)</text>
<text transform="translate(12.2 105.6) rotate(-90)" x="0" y="0" font-size="8.00" textLength="47.0" lengthAdjust="spacingAndGlyphs">PR [mm h<tspan dy="-2.6" font-size="5.6">−1</tspan><tspan dy="2.6">]</tspan></text>
<text transform="translate(12.2 203.8) rotate(-90)" x="0" y="0" font-size="8.00" textLength="52.8" lengthAdjust="spacingAndGlyphs">max. HS [mm]</text>
<text transform="translate(12.2 294.1) rotate(-90)" x="0" y="0" font-size="8.00" textLength="40.2" lengthAdjust="spacingAndGlyphs">LPI [J kg<tspan dy="-2.6" font-size="5.6">−1</tspan><tspan dy="2.6">]</tspan></text>
<text transform="translate(12.2 399.0) rotate(-90)" x="0" y="0" font-size="8.00" textLength="46.0" lengthAdjust="spacingAndGlyphs">v<tspan dy="1.6" font-size="5.6">10m</tspan><tspan dy="-1.6"> [m s</tspan><tspan dy="-2.6" font-size="5.6">−1</tspan><tspan dy="2.6">]</tspan></text>
<text transform="translate(487.8 111.0) rotate(-90)" x="0" y="0" font-size="8.00" textLength="53.9" lengthAdjust="spacingAndGlyphs">Δ PR [mm h<tspan dy="-2.6" font-size="5.6">−1</tspan><tspan dy="2.6">]</tspan></text>
<text transform="translate(487.8 209.5) rotate(-90)" x="0" y="0" font-size="8.00" textLength="60.0" lengthAdjust="spacingAndGlyphs">Δ max. HS [mm]</text>
<text transform="translate(487.0 293.0) rotate(-90)" x="0" y="0" font-size="8.00" textLength="45.6" lengthAdjust="spacingAndGlyphs">Δ LPI [J kg<tspan dy="-2.6" font-size="5.6">−1</tspan><tspan dy="2.6">]</tspan></text>
<text transform="translate(494.0 397.6) rotate(-90)" x="0" y="0" font-size="8.00" textLength="51.4" lengthAdjust="spacingAndGlyphs">Δ v<tspan dy="1.6" font-size="5.6">10m</tspan><tspan dy="-1.6"> [m s</tspan><tspan dy="-2.6" font-size="5.6">−1</tspan><tspan dy="2.6">]</tspan></text>
</svg>
</div></body></html>
